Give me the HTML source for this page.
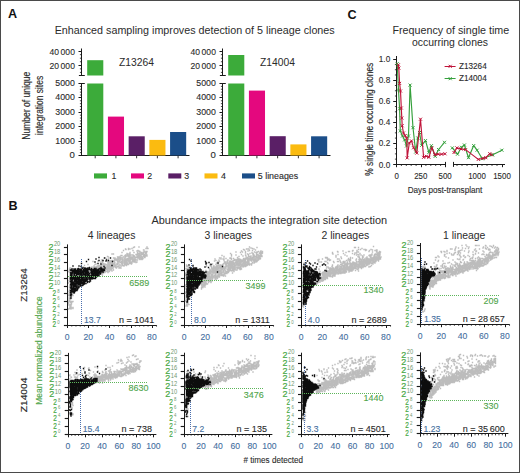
<!DOCTYPE html>
<html><head><meta charset="utf-8"><style>
html,body{margin:0;padding:0;background:#fff;}
svg{display:block;}
text{font-family:"Liberation Sans", sans-serif;}

</style></head><body>
<svg width="520" height="473" viewBox="0 0 520 473">
<rect x="0" y="0" width="520" height="473" fill="#fff"/>
<text x="8" y="18.1" font-size="12.6" fill="#111" text-anchor="start" font-weight="bold">A</text>
<text x="54.7" y="33.5" font-size="10.4" fill="#2b2b2b" text-anchor="start" font-weight="normal" textLength="280" lengthAdjust="spacingAndGlyphs">Enhanced sampling improves detection of 5 lineage clones</text>
<line x1="81.5" y1="48.5" x2="81.5" y2="75.5" stroke="#1a1a1a" stroke-width="1"/>
<line x1="78.5" y1="65.5" x2="81.5" y2="65.5" stroke="#1a1a1a" stroke-width="1"/>
<line x1="78.5" y1="51.5" x2="81.5" y2="51.5" stroke="#1a1a1a" stroke-width="1"/>
<line x1="79.9" y1="72.39999999999999" x2="81.5" y2="72.39999999999999" stroke="#1a1a1a" stroke-width="0.8"/>
<line x1="79.9" y1="68.85" x2="81.5" y2="68.85" stroke="#1a1a1a" stroke-width="0.8"/>
<line x1="79.9" y1="61.75" x2="81.5" y2="61.75" stroke="#1a1a1a" stroke-width="0.8"/>
<line x1="79.9" y1="58.199999999999996" x2="81.5" y2="58.199999999999996" stroke="#1a1a1a" stroke-width="0.8"/>
<line x1="79.9" y1="54.65" x2="81.5" y2="54.65" stroke="#1a1a1a" stroke-width="0.8"/>
<line x1="78.9" y1="75.5" x2="84.8" y2="75.5" stroke="#1a1a1a" stroke-width="1"/>
<line x1="81.5" y1="83.5" x2="81.5" y2="155.8" stroke="#1a1a1a" stroke-width="1"/>
<line x1="78.9" y1="83.5" x2="84.8" y2="83.5" stroke="#1a1a1a" stroke-width="1"/>
<line x1="78.5" y1="155.5" x2="81.5" y2="155.5" stroke="#1a1a1a" stroke-width="1"/>
<line x1="78.5" y1="141.5" x2="81.5" y2="141.5" stroke="#1a1a1a" stroke-width="1"/>
<line x1="78.5" y1="126.5" x2="81.5" y2="126.5" stroke="#1a1a1a" stroke-width="1"/>
<line x1="78.5" y1="112.5" x2="81.5" y2="112.5" stroke="#1a1a1a" stroke-width="1"/>
<line x1="78.5" y1="97.5" x2="81.5" y2="97.5" stroke="#1a1a1a" stroke-width="1"/>
<line x1="78.5" y1="83.5" x2="81.5" y2="83.5" stroke="#1a1a1a" stroke-width="1"/>
<line x1="79.9" y1="152.62" x2="81.5" y2="152.62" stroke="#1a1a1a" stroke-width="0.8"/>
<line x1="79.9" y1="149.74" x2="81.5" y2="149.74" stroke="#1a1a1a" stroke-width="0.8"/>
<line x1="79.9" y1="146.86" x2="81.5" y2="146.86" stroke="#1a1a1a" stroke-width="0.8"/>
<line x1="79.9" y1="143.98" x2="81.5" y2="143.98" stroke="#1a1a1a" stroke-width="0.8"/>
<line x1="79.9" y1="138.22" x2="81.5" y2="138.22" stroke="#1a1a1a" stroke-width="0.8"/>
<line x1="79.9" y1="135.34" x2="81.5" y2="135.34" stroke="#1a1a1a" stroke-width="0.8"/>
<line x1="79.9" y1="132.46" x2="81.5" y2="132.46" stroke="#1a1a1a" stroke-width="0.8"/>
<line x1="79.9" y1="129.58" x2="81.5" y2="129.58" stroke="#1a1a1a" stroke-width="0.8"/>
<line x1="79.9" y1="123.82" x2="81.5" y2="123.82" stroke="#1a1a1a" stroke-width="0.8"/>
<line x1="79.9" y1="120.94" x2="81.5" y2="120.94" stroke="#1a1a1a" stroke-width="0.8"/>
<line x1="79.9" y1="118.06" x2="81.5" y2="118.06" stroke="#1a1a1a" stroke-width="0.8"/>
<line x1="79.9" y1="115.18" x2="81.5" y2="115.18" stroke="#1a1a1a" stroke-width="0.8"/>
<line x1="79.9" y1="109.42" x2="81.5" y2="109.42" stroke="#1a1a1a" stroke-width="0.8"/>
<line x1="79.9" y1="106.53999999999999" x2="81.5" y2="106.53999999999999" stroke="#1a1a1a" stroke-width="0.8"/>
<line x1="79.9" y1="103.66" x2="81.5" y2="103.66" stroke="#1a1a1a" stroke-width="0.8"/>
<line x1="79.9" y1="100.78" x2="81.5" y2="100.78" stroke="#1a1a1a" stroke-width="0.8"/>
<line x1="79.9" y1="95.02" x2="81.5" y2="95.02" stroke="#1a1a1a" stroke-width="0.8"/>
<line x1="79.9" y1="92.14" x2="81.5" y2="92.14" stroke="#1a1a1a" stroke-width="0.8"/>
<line x1="79.9" y1="89.26" x2="81.5" y2="89.26" stroke="#1a1a1a" stroke-width="0.8"/>
<line x1="79.9" y1="86.38" x2="81.5" y2="86.38" stroke="#1a1a1a" stroke-width="0.8"/>
<text x="74.9" y="54.5" font-size="9.6" fill="#2b2b2b" text-anchor="end" font-weight="normal" stroke="#2b2b2b" stroke-width="0.12" textLength="25.5" lengthAdjust="spacingAndGlyphs">40&#8201;000</text>
<text x="74.9" y="68.7" font-size="9.6" fill="#2b2b2b" text-anchor="end" font-weight="normal" stroke="#2b2b2b" stroke-width="0.12" textLength="25.5" lengthAdjust="spacingAndGlyphs">20&#8201;000</text>
<text x="74.9" y="157.9" font-size="9.6" fill="#2b2b2b" text-anchor="end" font-weight="normal" stroke="#2b2b2b" stroke-width="0.12">0</text>
<text x="74.9" y="143.5" font-size="9.6" fill="#2b2b2b" text-anchor="end" font-weight="normal" stroke="#2b2b2b" stroke-width="0.12" textLength="19.6" lengthAdjust="spacingAndGlyphs">1000</text>
<text x="74.9" y="129.1" font-size="9.6" fill="#2b2b2b" text-anchor="end" font-weight="normal" stroke="#2b2b2b" stroke-width="0.12" textLength="19.6" lengthAdjust="spacingAndGlyphs">2000</text>
<text x="74.9" y="114.7" font-size="9.6" fill="#2b2b2b" text-anchor="end" font-weight="normal" stroke="#2b2b2b" stroke-width="0.12" textLength="19.6" lengthAdjust="spacingAndGlyphs">3000</text>
<text x="74.9" y="100.30000000000001" font-size="9.6" fill="#2b2b2b" text-anchor="end" font-weight="normal" stroke="#2b2b2b" stroke-width="0.12" textLength="19.6" lengthAdjust="spacingAndGlyphs">4000</text>
<text x="74.9" y="85.9" font-size="9.6" fill="#2b2b2b" text-anchor="end" font-weight="normal" stroke="#2b2b2b" stroke-width="0.12" textLength="19.6" lengthAdjust="spacingAndGlyphs">5000</text>
<line x1="81.0" y1="155.5" x2="189.5" y2="155.5" stroke="#1a1a1a" stroke-width="1"/>
<line x1="95.2" y1="155.5" x2="95.2" y2="158.3" stroke="#1a1a1a" stroke-width="0.9"/>
<rect x="87.2" y="60.2" width="16.1" height="15.299999999999997" fill="#3cab3a"/>
<rect x="87.2" y="83.5" width="16.1" height="72" fill="#3cab3a"/>
<line x1="115.92" y1="155.5" x2="115.92" y2="158.3" stroke="#1a1a1a" stroke-width="0.9"/>
<rect x="107.92" y="116.6" width="16.1" height="38.900000000000006" fill="#e4087e"/>
<line x1="136.64" y1="155.5" x2="136.64" y2="158.3" stroke="#1a1a1a" stroke-width="0.9"/>
<rect x="128.64" y="136.3" width="16.1" height="19.19999999999999" fill="#5a1f66"/>
<line x1="157.36" y1="155.5" x2="157.36" y2="158.3" stroke="#1a1a1a" stroke-width="0.9"/>
<rect x="149.36" y="139.9" width="16.1" height="15.599999999999994" fill="#fbbb10"/>
<line x1="178.07999999999998" y1="155.5" x2="178.07999999999998" y2="158.3" stroke="#1a1a1a" stroke-width="0.9"/>
<rect x="170.07999999999998" y="132.0" width="16.1" height="23.5" fill="#1b4e89"/>
<text x="119" y="65.6" font-size="10.6" fill="#2b2b2b" text-anchor="start" font-weight="normal" textLength="35" lengthAdjust="spacingAndGlyphs">Z13264</text>
<line x1="222.5" y1="48.5" x2="222.5" y2="75.5" stroke="#1a1a1a" stroke-width="1"/>
<line x1="219.5" y1="65.5" x2="222.5" y2="65.5" stroke="#1a1a1a" stroke-width="1"/>
<line x1="219.5" y1="51.5" x2="222.5" y2="51.5" stroke="#1a1a1a" stroke-width="1"/>
<line x1="220.9" y1="72.39999999999999" x2="222.5" y2="72.39999999999999" stroke="#1a1a1a" stroke-width="0.8"/>
<line x1="220.9" y1="68.85" x2="222.5" y2="68.85" stroke="#1a1a1a" stroke-width="0.8"/>
<line x1="220.9" y1="61.75" x2="222.5" y2="61.75" stroke="#1a1a1a" stroke-width="0.8"/>
<line x1="220.9" y1="58.199999999999996" x2="222.5" y2="58.199999999999996" stroke="#1a1a1a" stroke-width="0.8"/>
<line x1="220.9" y1="54.65" x2="222.5" y2="54.65" stroke="#1a1a1a" stroke-width="0.8"/>
<line x1="219.9" y1="75.5" x2="225.8" y2="75.5" stroke="#1a1a1a" stroke-width="1"/>
<line x1="222.5" y1="83.5" x2="222.5" y2="155.8" stroke="#1a1a1a" stroke-width="1"/>
<line x1="219.9" y1="83.5" x2="225.8" y2="83.5" stroke="#1a1a1a" stroke-width="1"/>
<line x1="219.5" y1="155.5" x2="222.5" y2="155.5" stroke="#1a1a1a" stroke-width="1"/>
<line x1="219.5" y1="141.5" x2="222.5" y2="141.5" stroke="#1a1a1a" stroke-width="1"/>
<line x1="219.5" y1="126.5" x2="222.5" y2="126.5" stroke="#1a1a1a" stroke-width="1"/>
<line x1="219.5" y1="112.5" x2="222.5" y2="112.5" stroke="#1a1a1a" stroke-width="1"/>
<line x1="219.5" y1="97.5" x2="222.5" y2="97.5" stroke="#1a1a1a" stroke-width="1"/>
<line x1="219.5" y1="83.5" x2="222.5" y2="83.5" stroke="#1a1a1a" stroke-width="1"/>
<line x1="220.9" y1="152.62" x2="222.5" y2="152.62" stroke="#1a1a1a" stroke-width="0.8"/>
<line x1="220.9" y1="149.74" x2="222.5" y2="149.74" stroke="#1a1a1a" stroke-width="0.8"/>
<line x1="220.9" y1="146.86" x2="222.5" y2="146.86" stroke="#1a1a1a" stroke-width="0.8"/>
<line x1="220.9" y1="143.98" x2="222.5" y2="143.98" stroke="#1a1a1a" stroke-width="0.8"/>
<line x1="220.9" y1="138.22" x2="222.5" y2="138.22" stroke="#1a1a1a" stroke-width="0.8"/>
<line x1="220.9" y1="135.34" x2="222.5" y2="135.34" stroke="#1a1a1a" stroke-width="0.8"/>
<line x1="220.9" y1="132.46" x2="222.5" y2="132.46" stroke="#1a1a1a" stroke-width="0.8"/>
<line x1="220.9" y1="129.58" x2="222.5" y2="129.58" stroke="#1a1a1a" stroke-width="0.8"/>
<line x1="220.9" y1="123.82" x2="222.5" y2="123.82" stroke="#1a1a1a" stroke-width="0.8"/>
<line x1="220.9" y1="120.94" x2="222.5" y2="120.94" stroke="#1a1a1a" stroke-width="0.8"/>
<line x1="220.9" y1="118.06" x2="222.5" y2="118.06" stroke="#1a1a1a" stroke-width="0.8"/>
<line x1="220.9" y1="115.18" x2="222.5" y2="115.18" stroke="#1a1a1a" stroke-width="0.8"/>
<line x1="220.9" y1="109.42" x2="222.5" y2="109.42" stroke="#1a1a1a" stroke-width="0.8"/>
<line x1="220.9" y1="106.53999999999999" x2="222.5" y2="106.53999999999999" stroke="#1a1a1a" stroke-width="0.8"/>
<line x1="220.9" y1="103.66" x2="222.5" y2="103.66" stroke="#1a1a1a" stroke-width="0.8"/>
<line x1="220.9" y1="100.78" x2="222.5" y2="100.78" stroke="#1a1a1a" stroke-width="0.8"/>
<line x1="220.9" y1="95.02" x2="222.5" y2="95.02" stroke="#1a1a1a" stroke-width="0.8"/>
<line x1="220.9" y1="92.14" x2="222.5" y2="92.14" stroke="#1a1a1a" stroke-width="0.8"/>
<line x1="220.9" y1="89.26" x2="222.5" y2="89.26" stroke="#1a1a1a" stroke-width="0.8"/>
<line x1="220.9" y1="86.38" x2="222.5" y2="86.38" stroke="#1a1a1a" stroke-width="0.8"/>
<text x="215.9" y="54.5" font-size="9.6" fill="#2b2b2b" text-anchor="end" font-weight="normal" stroke="#2b2b2b" stroke-width="0.12" textLength="25.5" lengthAdjust="spacingAndGlyphs">40&#8201;000</text>
<text x="215.9" y="68.7" font-size="9.6" fill="#2b2b2b" text-anchor="end" font-weight="normal" stroke="#2b2b2b" stroke-width="0.12" textLength="25.5" lengthAdjust="spacingAndGlyphs">20&#8201;000</text>
<text x="215.9" y="157.9" font-size="9.6" fill="#2b2b2b" text-anchor="end" font-weight="normal" stroke="#2b2b2b" stroke-width="0.12">0</text>
<text x="215.9" y="143.5" font-size="9.6" fill="#2b2b2b" text-anchor="end" font-weight="normal" stroke="#2b2b2b" stroke-width="0.12" textLength="19.6" lengthAdjust="spacingAndGlyphs">1000</text>
<text x="215.9" y="129.1" font-size="9.6" fill="#2b2b2b" text-anchor="end" font-weight="normal" stroke="#2b2b2b" stroke-width="0.12" textLength="19.6" lengthAdjust="spacingAndGlyphs">2000</text>
<text x="215.9" y="114.7" font-size="9.6" fill="#2b2b2b" text-anchor="end" font-weight="normal" stroke="#2b2b2b" stroke-width="0.12" textLength="19.6" lengthAdjust="spacingAndGlyphs">3000</text>
<text x="215.9" y="100.30000000000001" font-size="9.6" fill="#2b2b2b" text-anchor="end" font-weight="normal" stroke="#2b2b2b" stroke-width="0.12" textLength="19.6" lengthAdjust="spacingAndGlyphs">4000</text>
<text x="215.9" y="85.9" font-size="9.6" fill="#2b2b2b" text-anchor="end" font-weight="normal" stroke="#2b2b2b" stroke-width="0.12" textLength="19.6" lengthAdjust="spacingAndGlyphs">5000</text>
<line x1="222.0" y1="155.5" x2="330.5" y2="155.5" stroke="#1a1a1a" stroke-width="1"/>
<line x1="236.2" y1="155.5" x2="236.2" y2="158.3" stroke="#1a1a1a" stroke-width="0.9"/>
<rect x="228.2" y="55.0" width="16.1" height="20.5" fill="#3cab3a"/>
<rect x="228.2" y="83.5" width="16.1" height="72" fill="#3cab3a"/>
<line x1="256.91999999999996" y1="155.5" x2="256.91999999999996" y2="158.3" stroke="#1a1a1a" stroke-width="0.9"/>
<rect x="248.92" y="90.6" width="16.1" height="64.9" fill="#e4087e"/>
<line x1="277.64" y1="155.5" x2="277.64" y2="158.3" stroke="#1a1a1a" stroke-width="0.9"/>
<rect x="269.64" y="136.2" width="16.1" height="19.30000000000001" fill="#5a1f66"/>
<line x1="298.36" y1="155.5" x2="298.36" y2="158.3" stroke="#1a1a1a" stroke-width="0.9"/>
<rect x="290.36" y="144.4" width="16.1" height="11.099999999999994" fill="#fbbb10"/>
<line x1="319.08" y1="155.5" x2="319.08" y2="158.3" stroke="#1a1a1a" stroke-width="0.9"/>
<rect x="311.08" y="136.3" width="16.1" height="19.19999999999999" fill="#1b4e89"/>
<text x="260" y="65.6" font-size="10.6" fill="#2b2b2b" text-anchor="start" font-weight="normal" textLength="35" lengthAdjust="spacingAndGlyphs">Z14004</text>
<text transform="translate(29.9,105.7) rotate(-90)" x="0" y="0" font-size="10.2" fill="#2b2b2b" stroke="#2b2b2b" stroke-width="0.15" text-anchor="middle" textLength="68" lengthAdjust="spacingAndGlyphs">Number of unique</text>
<text transform="translate(42.7,105.4) rotate(-90)" x="0" y="0" font-size="10.2" fill="#2b2b2b" stroke="#2b2b2b" stroke-width="0.15" text-anchor="middle" textLength="59" lengthAdjust="spacingAndGlyphs">integration sites</text>
<rect x="94.0" y="173.4" width="13" height="5.1" fill="#3cab3a"/>
<text x="111.5" y="178.8" font-size="8.8" fill="#2b2b2b" text-anchor="start" font-weight="normal" stroke="#2b2b2b" stroke-width="0.12">1</text>
<rect x="131.0" y="173.4" width="13" height="5.1" fill="#e4087e"/>
<text x="147.2" y="178.8" font-size="8.8" fill="#2b2b2b" text-anchor="start" font-weight="normal" stroke="#2b2b2b" stroke-width="0.12">2</text>
<rect x="168.3" y="173.4" width="13" height="5.1" fill="#5a1f66"/>
<text x="184.3" y="178.8" font-size="8.8" fill="#2b2b2b" text-anchor="start" font-weight="normal" stroke="#2b2b2b" stroke-width="0.12">3</text>
<rect x="204.5" y="173.4" width="13" height="5.1" fill="#fbbb10"/>
<text x="221.0" y="178.8" font-size="8.8" fill="#2b2b2b" text-anchor="start" font-weight="normal" stroke="#2b2b2b" stroke-width="0.12">4</text>
<rect x="242.0" y="173.4" width="13" height="5.1" fill="#1b4e89"/>
<text x="257.8" y="178.8" font-size="8.8" fill="#2b2b2b" text-anchor="start" font-weight="normal" stroke="#2b2b2b" stroke-width="0.12" textLength="40.4" lengthAdjust="spacingAndGlyphs">5 lineages</text>
<text x="347.4" y="18.5" font-size="12.6" fill="#111" text-anchor="start" font-weight="bold">C</text>
<text x="392.5" y="33.5" font-size="10.4" fill="#2b2b2b" text-anchor="start" font-weight="normal" textLength="116.7" lengthAdjust="spacingAndGlyphs">Frequency of single time</text>
<text x="412" y="45.5" font-size="10.4" fill="#2b2b2b" text-anchor="start" font-weight="normal" textLength="76" lengthAdjust="spacingAndGlyphs">occurring clones</text>
<line x1="396.5" y1="56" x2="396.5" y2="164.9" stroke="#1a1a1a" stroke-width="1"/>
<line x1="393.2" y1="164.5" x2="396.5" y2="164.5" stroke="#1a1a1a" stroke-width="1"/>
<text x="390.2" y="167.5" font-size="9.4" fill="#2b2b2b" text-anchor="end" font-weight="normal" stroke="#2b2b2b" stroke-width="0.12" textLength="11.4" lengthAdjust="spacingAndGlyphs">0.0</text>
<line x1="393.2" y1="143.5" x2="396.5" y2="143.5" stroke="#1a1a1a" stroke-width="1"/>
<text x="390.2" y="146.46" font-size="9.4" fill="#2b2b2b" text-anchor="end" font-weight="normal" stroke="#2b2b2b" stroke-width="0.12" textLength="11.4" lengthAdjust="spacingAndGlyphs">0.2</text>
<line x1="393.2" y1="122.5" x2="396.5" y2="122.5" stroke="#1a1a1a" stroke-width="1"/>
<text x="390.2" y="125.42" font-size="9.4" fill="#2b2b2b" text-anchor="end" font-weight="normal" stroke="#2b2b2b" stroke-width="0.12" textLength="11.4" lengthAdjust="spacingAndGlyphs">0.4</text>
<line x1="393.2" y1="101.5" x2="396.5" y2="101.5" stroke="#1a1a1a" stroke-width="1"/>
<text x="390.2" y="104.38" font-size="9.4" fill="#2b2b2b" text-anchor="end" font-weight="normal" stroke="#2b2b2b" stroke-width="0.12" textLength="11.4" lengthAdjust="spacingAndGlyphs">0.6</text>
<line x1="393.2" y1="80.5" x2="396.5" y2="80.5" stroke="#1a1a1a" stroke-width="1"/>
<text x="390.2" y="83.34" font-size="9.4" fill="#2b2b2b" text-anchor="end" font-weight="normal" stroke="#2b2b2b" stroke-width="0.12" textLength="11.4" lengthAdjust="spacingAndGlyphs">0.8</text>
<line x1="393.2" y1="59.5" x2="396.5" y2="59.5" stroke="#1a1a1a" stroke-width="1"/>
<text x="390.2" y="62.30000000000002" font-size="9.4" fill="#2b2b2b" text-anchor="end" font-weight="normal" stroke="#2b2b2b" stroke-width="0.12" textLength="11.4" lengthAdjust="spacingAndGlyphs">1.0</text>
<line x1="394.9" y1="159.14000000000001" x2="396.5" y2="159.14000000000001" stroke="#1a1a1a" stroke-width="0.8"/>
<line x1="394.9" y1="153.88" x2="396.5" y2="153.88" stroke="#1a1a1a" stroke-width="0.8"/>
<line x1="394.9" y1="148.62" x2="396.5" y2="148.62" stroke="#1a1a1a" stroke-width="0.8"/>
<line x1="394.9" y1="138.10000000000002" x2="396.5" y2="138.10000000000002" stroke="#1a1a1a" stroke-width="0.8"/>
<line x1="394.9" y1="132.84" x2="396.5" y2="132.84" stroke="#1a1a1a" stroke-width="0.8"/>
<line x1="394.9" y1="127.58000000000001" x2="396.5" y2="127.58000000000001" stroke="#1a1a1a" stroke-width="0.8"/>
<line x1="394.9" y1="117.06" x2="396.5" y2="117.06" stroke="#1a1a1a" stroke-width="0.8"/>
<line x1="394.9" y1="111.80000000000001" x2="396.5" y2="111.80000000000001" stroke="#1a1a1a" stroke-width="0.8"/>
<line x1="394.9" y1="106.54" x2="396.5" y2="106.54" stroke="#1a1a1a" stroke-width="0.8"/>
<line x1="394.9" y1="96.02000000000001" x2="396.5" y2="96.02000000000001" stroke="#1a1a1a" stroke-width="0.8"/>
<line x1="394.9" y1="90.76" x2="396.5" y2="90.76" stroke="#1a1a1a" stroke-width="0.8"/>
<line x1="394.9" y1="85.50000000000001" x2="396.5" y2="85.50000000000001" stroke="#1a1a1a" stroke-width="0.8"/>
<line x1="394.9" y1="74.98" x2="396.5" y2="74.98" stroke="#1a1a1a" stroke-width="0.8"/>
<line x1="394.9" y1="69.72000000000001" x2="396.5" y2="69.72000000000001" stroke="#1a1a1a" stroke-width="0.8"/>
<line x1="394.9" y1="64.46000000000001" x2="396.5" y2="64.46000000000001" stroke="#1a1a1a" stroke-width="0.8"/>
<line x1="396.0" y1="164.5" x2="445.5" y2="164.5" stroke="#1a1a1a" stroke-width="1"/>
<line x1="445.5" y1="161.9" x2="445.5" y2="166.9" stroke="#1a1a1a" stroke-width="1"/>
<line x1="396.5" y1="164.4" x2="396.5" y2="167.20000000000002" stroke="#1a1a1a" stroke-width="1"/>
<line x1="421.5" y1="164.4" x2="421.5" y2="167.20000000000002" stroke="#1a1a1a" stroke-width="1"/>
<line x1="445.5" y1="164.4" x2="445.5" y2="167.20000000000002" stroke="#1a1a1a" stroke-width="1"/>
<line x1="401.4" y1="164.4" x2="401.4" y2="166.0" stroke="#1a1a1a" stroke-width="0.8"/>
<line x1="406.3" y1="164.4" x2="406.3" y2="166.0" stroke="#1a1a1a" stroke-width="0.8"/>
<line x1="411.2" y1="164.4" x2="411.2" y2="166.0" stroke="#1a1a1a" stroke-width="0.8"/>
<line x1="416.1" y1="164.4" x2="416.1" y2="166.0" stroke="#1a1a1a" stroke-width="0.8"/>
<line x1="425.9" y1="164.4" x2="425.9" y2="166.0" stroke="#1a1a1a" stroke-width="0.8"/>
<line x1="430.8" y1="164.4" x2="430.8" y2="166.0" stroke="#1a1a1a" stroke-width="0.8"/>
<line x1="435.7" y1="164.4" x2="435.7" y2="166.0" stroke="#1a1a1a" stroke-width="0.8"/>
<line x1="440.6" y1="164.4" x2="440.6" y2="166.0" stroke="#1a1a1a" stroke-width="0.8"/>
<line x1="453.2" y1="164.5" x2="505" y2="164.5" stroke="#1a1a1a" stroke-width="1"/>
<line x1="453.5" y1="161.9" x2="453.5" y2="166.9" stroke="#1a1a1a" stroke-width="1"/>
<line x1="477.5" y1="164.4" x2="477.5" y2="167.20000000000002" stroke="#1a1a1a" stroke-width="1"/>
<line x1="502.5" y1="164.4" x2="502.5" y2="167.20000000000002" stroke="#1a1a1a" stroke-width="1"/>
<line x1="457.0" y1="164.4" x2="457.0" y2="166.0" stroke="#1a1a1a" stroke-width="0.8"/>
<line x1="462.0" y1="164.4" x2="462.0" y2="166.0" stroke="#1a1a1a" stroke-width="0.8"/>
<line x1="467.0" y1="164.4" x2="467.0" y2="166.0" stroke="#1a1a1a" stroke-width="0.8"/>
<line x1="472.0" y1="164.4" x2="472.0" y2="166.0" stroke="#1a1a1a" stroke-width="0.8"/>
<line x1="482.0" y1="164.4" x2="482.0" y2="166.0" stroke="#1a1a1a" stroke-width="0.8"/>
<line x1="487.0" y1="164.4" x2="487.0" y2="166.0" stroke="#1a1a1a" stroke-width="0.8"/>
<line x1="492.0" y1="164.4" x2="492.0" y2="166.0" stroke="#1a1a1a" stroke-width="0.8"/>
<line x1="497.0" y1="164.4" x2="497.0" y2="166.0" stroke="#1a1a1a" stroke-width="0.8"/>
<text x="396.7" y="178.6" font-size="9.4" fill="#2b2b2b" text-anchor="middle" font-weight="normal" stroke="#2b2b2b" stroke-width="0.12" textLength="4.4" lengthAdjust="spacingAndGlyphs">0</text>
<text x="420.8" y="178.6" font-size="9.4" fill="#2b2b2b" text-anchor="middle" font-weight="normal" stroke="#2b2b2b" stroke-width="0.12" textLength="13.200000000000001" lengthAdjust="spacingAndGlyphs">250</text>
<text x="445.1" y="178.6" font-size="9.4" fill="#2b2b2b" text-anchor="middle" font-weight="normal" stroke="#2b2b2b" stroke-width="0.12" textLength="13.200000000000001" lengthAdjust="spacingAndGlyphs">500</text>
<text x="477" y="178.6" font-size="9.4" fill="#2b2b2b" text-anchor="middle" font-weight="normal" stroke="#2b2b2b" stroke-width="0.12" textLength="17.6" lengthAdjust="spacingAndGlyphs">1000</text>
<text x="502" y="178.6" font-size="9.4" fill="#2b2b2b" text-anchor="middle" font-weight="normal" stroke="#2b2b2b" stroke-width="0.12" textLength="17.6" lengthAdjust="spacingAndGlyphs">1500</text>
<text x="407.7" y="192.9" font-size="9.6" fill="#2b2b2b" text-anchor="start" font-weight="normal" stroke="#2b2b2b" stroke-width="0.12" textLength="74.6" lengthAdjust="spacingAndGlyphs">Days post-transplant</text>
<text transform="translate(372.8,119.2) rotate(-90)" x="0" y="0" font-size="10.4" fill="#2b2b2b" stroke="#2b2b2b" stroke-width="0.15" text-anchor="middle" textLength="112.9" lengthAdjust="spacingAndGlyphs">% single time occurring clones</text>
<path d="M397.2 63.6L398.5 90.0L399.6 108.8L400.3 130.9L402.5 136.0L404.6 139.9L406.5 146.0L408.5 136.0L410.1 85.1L413.0 127.7L415.7 152.0L417.8 138.0L419.5 132.5L421.7 145.3L425.5 140.6L428.9 152.5L431.4 145.7L435.2 156.3L438.6 149.5L444.5 142.3" fill="none" stroke="#35a03c" stroke-width="1.15" stroke-linejoin="round"/>
<path d="M395.7 62.1L398.7 65.1M395.7 65.1L398.7 62.1M397.0 88.5L400.0 91.5M397.0 91.5L400.0 88.5M398.1 107.3L401.1 110.3M398.1 110.3L401.1 107.3M398.8 129.4L401.8 132.4M398.8 132.4L401.8 129.4M401.0 134.5L404.0 137.5M401.0 137.5L404.0 134.5M403.1 138.4L406.1 141.4M403.1 141.4L406.1 138.4M405.0 144.5L408.0 147.5M405.0 147.5L408.0 144.5M407.0 134.5L410.0 137.5M407.0 137.5L410.0 134.5M408.6 83.6L411.6 86.6M408.6 86.6L411.6 83.6M411.5 126.2L414.5 129.2M411.5 129.2L414.5 126.2M414.2 150.5L417.2 153.5M414.2 153.5L417.2 150.5M416.3 136.5L419.3 139.5M416.3 139.5L419.3 136.5M418.0 131.0L421.0 134.0M418.0 134.0L421.0 131.0M420.2 143.8L423.2 146.8M420.2 146.8L423.2 143.8M424.0 139.1L427.0 142.1M424.0 142.1L427.0 139.1M427.4 151.0L430.4 154.0M427.4 154.0L430.4 151.0M429.9 144.2L432.9 147.2M429.9 147.2L432.9 144.2M433.7 154.8L436.7 157.8M433.7 157.8L436.7 154.8M437.1 148.0L440.1 151.0M437.1 151.0L440.1 148.0M443.0 140.8L446.0 143.8M443.0 143.8L446.0 140.8" fill="none" stroke="#35a03c" stroke-width="1"/>
<path d="M452.3 147.9L457.5 154.2L461.5 147.3L464.4 145.0L468.5 157.7L473.7 145.6L477.1 150.2L482.3 158.8L492.7 154.8L501.9 150.2" fill="none" stroke="#35a03c" stroke-width="1.15" stroke-linejoin="round"/>
<path d="M450.8 146.4L453.8 149.4M450.8 149.4L453.8 146.4M456.0 152.7L459.0 155.7M456.0 155.7L459.0 152.7M460.0 145.8L463.0 148.8M460.0 148.8L463.0 145.8M462.9 143.5L465.9 146.5M462.9 146.5L465.9 143.5M467.0 156.2L470.0 159.2M467.0 159.2L470.0 156.2M472.2 144.1L475.2 147.1M472.2 147.1L475.2 144.1M475.6 148.7L478.6 151.7M475.6 151.7L478.6 148.7M480.8 157.3L483.8 160.3M480.8 160.3L483.8 157.3M491.2 153.3L494.2 156.3M491.2 156.3L494.2 153.3M500.4 148.7L503.4 151.7M500.4 151.7L503.4 148.7" fill="none" stroke="#35a03c" stroke-width="1"/>
<path d="M398.4 64.8L398.8 68.2L399.6 83.4L400.5 91.0L401.3 108.0L401.8 118.0L402.2 125.8L403.5 133.0L405.1 135.6L406.7 138.3L407.2 157.9L409.3 143.0L411.5 140.9L413.6 147.8L416.8 153.1L420.5 119.2L423.6 157.3L426.3 156.3L428.9 157.3L431.8 147.8L434.8 154.6L438.2 154.2L441.6 154.2L445.0 153.8" fill="none" stroke="#c0143a" stroke-width="1.15" stroke-linejoin="round"/>
<path d="M396.9 63.3L399.9 66.3M396.9 66.3L399.9 63.3M397.3 66.7L400.3 69.7M397.3 69.7L400.3 66.7M398.1 81.9L401.1 84.9M398.1 84.9L401.1 81.9M399.0 89.5L402.0 92.5M399.0 92.5L402.0 89.5M399.8 106.5L402.8 109.5M399.8 109.5L402.8 106.5M400.3 116.5L403.3 119.5M400.3 119.5L403.3 116.5M400.7 124.3L403.7 127.3M400.7 127.3L403.7 124.3M402.0 131.5L405.0 134.5M402.0 134.5L405.0 131.5M403.6 134.1L406.6 137.1M403.6 137.1L406.6 134.1M405.2 136.8L408.2 139.8M405.2 139.8L408.2 136.8M405.7 156.4L408.7 159.4M405.7 159.4L408.7 156.4M407.8 141.5L410.8 144.5M407.8 144.5L410.8 141.5M410.0 139.4L413.0 142.4M410.0 142.4L413.0 139.4M412.1 146.3L415.1 149.3M412.1 149.3L415.1 146.3M415.3 151.6L418.3 154.6M415.3 154.6L418.3 151.6M419.0 117.7L422.0 120.7M419.0 120.7L422.0 117.7M422.1 155.8L425.1 158.8M422.1 158.8L425.1 155.8M424.8 154.8L427.8 157.8M424.8 157.8L427.8 154.8M427.4 155.8L430.4 158.8M427.4 158.8L430.4 155.8M430.3 146.3L433.3 149.3M430.3 149.3L433.3 146.3M433.3 153.1L436.3 156.1M433.3 156.1L436.3 153.1M436.7 152.7L439.7 155.7M436.7 155.7L439.7 152.7M440.1 152.7L443.1 155.7M440.1 155.7L443.1 152.7M443.5 152.3L446.5 155.3M443.5 155.3L446.5 152.3" fill="none" stroke="#c0143a" stroke-width="1"/>
<path d="M454.0 152.5L456.9 147.9L461.0 149.0L465.6 149.6L478.3 159.4L483.5 158.3L485.8 157.7L489.8 153.7L491.5 154.8" fill="none" stroke="#c0143a" stroke-width="1.15" stroke-linejoin="round"/>
<path d="M452.5 151.0L455.5 154.0M452.5 154.0L455.5 151.0M455.4 146.4L458.4 149.4M455.4 149.4L458.4 146.4M459.5 147.5L462.5 150.5M459.5 150.5L462.5 147.5M464.1 148.1L467.1 151.1M464.1 151.1L467.1 148.1M476.8 157.9L479.8 160.9M476.8 160.9L479.8 157.9M482.0 156.8L485.0 159.8M482.0 159.8L485.0 156.8M484.3 156.2L487.3 159.2M484.3 159.2L487.3 156.2M488.3 152.2L491.3 155.2M488.3 155.2L491.3 152.2M490.0 153.3L493.0 156.3M490.0 156.3L493.0 153.3" fill="none" stroke="#c0143a" stroke-width="1"/>
<line x1="444.6" y1="66.5" x2="455.6" y2="66.5" stroke="#c0143a" stroke-width="1"/>
<path d="M448.7 64.8L451.7 67.8M448.7 67.8L451.7 64.8" stroke="#c0143a" stroke-width="1"/>
<text x="459" y="68.8" font-size="8.4" fill="#2b2b2b" text-anchor="start" font-weight="normal" stroke="#2b2b2b" stroke-width="0.12" textLength="27.7" lengthAdjust="spacingAndGlyphs">Z13264</text>
<line x1="444.6" y1="78.5" x2="455.6" y2="78.5" stroke="#35a03c" stroke-width="1"/>
<path d="M448.7 77.2L451.7 80.2M448.7 80.2L451.7 77.2" stroke="#35a03c" stroke-width="1"/>
<text x="459" y="81.0" font-size="8.4" fill="#2b2b2b" text-anchor="start" font-weight="normal" stroke="#2b2b2b" stroke-width="0.12" textLength="27.7" lengthAdjust="spacingAndGlyphs">Z14004</text>
<text x="8.6" y="209.6" font-size="12.6" fill="#111" text-anchor="start" font-weight="bold">B</text>
<text x="151.5" y="223.8" font-size="10.4" fill="#2b2b2b" text-anchor="start" font-weight="normal" textLength="235.7" lengthAdjust="spacingAndGlyphs">Abundance impacts the integration site detection</text>
<text x="87.7" y="238.6" font-size="10.4" fill="#2b2b2b" text-anchor="start" font-weight="normal" textLength="47.7" lengthAdjust="spacingAndGlyphs">4 lineages</text>
<text x="204.6" y="238.6" font-size="10.4" fill="#2b2b2b" text-anchor="start" font-weight="normal" textLength="47.4" lengthAdjust="spacingAndGlyphs">3 lineages</text>
<text x="321.5" y="238.6" font-size="10.4" fill="#2b2b2b" text-anchor="start" font-weight="normal" textLength="47.7" lengthAdjust="spacingAndGlyphs">2 lineages</text>
<text x="443.1" y="238.6" font-size="10.4" fill="#2b2b2b" text-anchor="start" font-weight="normal" textLength="42.3" lengthAdjust="spacingAndGlyphs">1 lineage</text>
<text transform="translate(26.6,285) rotate(-90)" x="0" y="0" font-size="9.9" fill="#2b2b2b" stroke="#2b2b2b" stroke-width="0.15" text-anchor="middle" textLength="33.6" lengthAdjust="spacingAndGlyphs">Z13264</text>
<text transform="translate(27.2,394.9) rotate(-90)" x="0" y="0" font-size="9.9" fill="#2b2b2b" stroke="#2b2b2b" stroke-width="0.15" text-anchor="middle" textLength="34.5" lengthAdjust="spacingAndGlyphs">Z14004</text>
<text transform="translate(41.6,350.5) rotate(-90)" x="0" y="0" font-size="8.2" fill="#4fa54b" stroke="#4fa54b" stroke-width="0.15" text-anchor="middle" textLength="108.3" lengthAdjust="spacingAndGlyphs">Mean normalized abundance</text>
<text x="243.5" y="463" font-size="9.6" fill="#2b2b2b" text-anchor="start" font-weight="normal" stroke="#2b2b2b" stroke-width="0.12" textLength="59.5" lengthAdjust="spacingAndGlyphs"># times detected</text>
<path d="M68.5 271.5h0m0 11.5h0m0 12.5h0m0 7h0m0 0.5h0m0 6h0m0.5-28.5h0m0 11h0m0 2.5h0m0 1.5h0m0 2.5h0m0 2h0m0 1.5h0m0 3h0m0 0.5h0m0.5-36h0m0 1.5h0m0 1.5h0m0 6h0m0 0.5h0m0 3h0m0 5h0m0 1h0m0 2.5h0m0 2h0m0 0.5h0m0 1.5h0m0 2h0m0 4h0m0 1.5h0m0 7h0m0.5-40.5h0m0 12h0m0 5.5h0m0 1.5h0m0 5h0m0 1h0m0 2.5h0m0 3.5h0m0 7.5h0m0 1.5h0m0.5-40h0m0 4.5h0m0 1.5h0m0 15.5h0m0 1.5h0m0 1.5h0m0 1.5h0m0 5.5h0m0 2h0m0 1h0m0 2h0m0 0.5h0m0 1.5h0m0.5-37.5h0m0 3h0m0 4h0m0 1.5h0m0 4h0m0 3h0m0 7h0m0 3h0m0 4h0m0 3.5h0m0 3.5h0m0 1h0m0 1h0m0 1.5h0m0.5-39.5h0m0 5.5h0m0 0.5h0m0 2h0m0 3h0m0 9h0m0 0.5h0m0 1.5h0m0 3.5h0m0 1h0m0 2h0m0 3.5h0m0 2h0m0 0.5h0m0 4h0m0.5-39.5h0m0 2.5h0m0 5h0m0 5h0m0 0.5h0m0 2h0m0 1h0m0 8.5h0m0 9h0m0.5-33.5h0m0 3.5h0m0 1h0m0 1h0m0 1h0m0 0.5h0m0 0.5h0m0 4h0m0 3h0m0 2.5h0m0 0.5h0m0 3h0m0 0.5h0m0 4h0m0 0.5h0m0.5-16h0m0 2.5h0m0 0.5h0m0 3h0m0 7.5h0m0 4h0m0 6h0m0 6h0m0 0.5h0m0 0.5h0m0.5-38.5h0m10.5-0.5h0m0.5-4h0m0 2.5h0m0.5 1.5h0m1-1h0m1.5 0h0m0.5-4h0m0.5 9h0m0 1h0m0 1h0m0 0.5h0m0 0.5h0m0.5-6.5h0m0 1.5h0m0 1h0m0 1h0m0 0.5h0m0.5-4h0m0 3h0m0 0.5h0m0 1.5h0m0 1h0m0.5-8h0m0 2.5h0m0 0.5h0m0 0.5h0m0 0.5h0m0 0.5h0m0 1h0m0 2.5h0m0 0.5h0m0 0.5h0m0 0.5h0m0.5-7.5h0m0 0.5h0m0 1h0m0 4.5h0m0.5-6h0m0 1.5h0m0 2.5h0m0 1.5h0m0 1h0m0.5-7h0m0 0.5h0m0 0.5h0m0 2.5h0m0 0.5h0m0 2h0m0 1.5h0m0 1h0m0.5-11h0m0 2h0m0 0.5h0m0 0.5h0m0 2.5h0m0 0.5h0m0 1h0m0 1h0m0 1.5h0m0.5-7h0m0 1.5h0m0 0.5h0m0 1h0m0 2h0m0 0.5h0m0 1h0m0.5-14.5h0m0 7.5h0m0 3h0m0 2h0m0.5-6.5h0m0 2.5h0m0 3.5h0m0 1.5h0m0.5-9h0m0 3h0m0 2h0m0 4.5h0m0.5-8h0m0 0.5h0m0 1.5h0m0 0.5h0m0 1h0m0 0.5h0m0 2h0m0 0.5h0m0 0.5h0m0 1.5h0m0.5-11.5h0m0 2.5h0m0 0.5h0m0 1.5h0m0 0.5h0m0 4.5h0m0 1h0m0 0.5h0m0 0.5h0m0 0.5h0m0.5-9h0m0 1h0m0 0.5h0m0 3.5h0m0 0.5h0m0.5-9h0m0 5h0m0 1h0m0 4h0m0 0.5h0m0 0.5h0m0.5-8.5h0m0 1.5h0m0 1h0m0 0.5h0m0 1.5h0m0 1h0m0 1h0m0 0.5h0m0 2.5h0m0.5-9.5h0m0 1h0m0 0.5h0m0 1.5h0m0 1.5h0m0 1.5h0m0.5-6.5h0m0 0.5h0m0 2h0m0 2h0m0 2.5h0m0 0.5h0m0.5-12.5h0m0 5h0m0 1h0m0 2.5h0m0 1h0m0 1h0m0 0.5h0m0 0.5h0m0 3.5h0m0.5-10.5h0m0 1.5h0m0 2h0m0 2h0m0 0.5h0m0 2h0m0.5-8h0m0 2h0m0 1.5h0m0 1.5h0m0 2h0m0.5-7h0m0 2h0m0 3.5h0m0.5-5.5h0m0 1h0m0 6h0m0.5-9.5h0m0 5h0m0 1h0m0 1.5h0m0 2h0m0 0.5h0m0 0.5h0m0.5-11.5h0m0 2.5h0m0 1.5h0m0 0.5h0m0 1.5h0m0 2h0m0 2h0m0 1h0m0 0.5h0m0.5-13.5h0m0 4.5h0m0 0.5h0m0 1.5h0m0 1.5h0m0 1h0m0 3h0m0 1h0m0 0.5h0m0.5-6.5h0m0 1.5h0m0 1.5h0m0 0.5h0m0 0.5h0m0 2h0m0.5-13h0m0 1.5h0m0 1h0m0 2h0m0 3.5h0m0 1h0m0 1.5h0m0 4.5h0m0.5-14h0m0 3h0m0 1h0m0 5.5h0m0.5-7h0m0 1h0m0 2.5h0m0 2.5h0m0 1.5h0m0 1.5h0m0.5-8h0m0 1.5h0m0 0.5h0m0 0.5h0m0 1h0m0 0.5h0m0 1h0m0 1h0m0 0.5h0m0 1.5h0m0.5-8.5h0m0 3.5h0m0 1.5h0m0 1h0m0.5-6h0m0 0.5h0m0 1h0m0 0.5h0m0 1.5h0m0 0.5h0m0 1.5h0m0 0.5h0m0 2h0m0 0.5h0m0.5-14.5h0m0 6.5h0m0 2.5h0m0.5 1.5h0m0 1h0m0 2h0m0.5-12.5h0m0.5 5.5h0m0 0.5h0m0 0.5h0m0 1.5h0m0 2h0m0 0.5h0m0 2h0m0.5-15h0m0 5h0m0 4.5h0m0 1.5h0m0 1.5h0m0 1h0m0 1h0m0.5-10h0m0 1.5h0m0 1h0m0 3h0m0 1h0m0 0.5h0m0 4.5h0m0.5-15.5h0m0 2h0m0 2h0m0 2h0m0 0.5h0m0 0.5h0m0 0.5h0m0 2h0m0.5-4h0m0 1h0m0 2h0m0 0.5h0m0 2h0m0 1h0m0 0.5h0m0 0.5h0m0 1.5h0m0.5-7h0m0 0.5h0m0 1h0m0 2.5h0m0 3h0m0.5-9.5h0m0 5h0m0.5-6h0m0 1h0m0 1h0m0 5h0m0 1.5h0m0 0.5h0m0.5-9.5h0m0 0.5h0m0 3h0m0 1h0m0 0.5h0m0 0.5h0m0 0.5h0m0.5-1.5h0m0 1h0m0 0.5h0m0 0.5h0m0 1.5h0m0 0.5h0m0 0.5h0m0.5-15.5h0m0 8h0m0 0.5h0m0 0.5h0m0 2.5h0m0 5.5h0m0.5-10.5h0m0 1h0m0 0.5h0m0 1h0m0 1h0m0 1h0m0 1h0m0 2.5h0m0.5-1.5h0m0 1.5h0m0.5-14.5h0m0 4h0m0 3h0m0 2.5h0m0 1h0m0 2.5h0m0 3h0m0.5-6h0m0 0.5h0m0 1.5h0m0.5-7.5h0m0 1h0m0 1.5h0m0 0.5h0m0 1h0m0 0.5h0m0 0.5h0m0 2h0m0 1h0m0.5-8.5h0m0 1.5h0m0 1h0m0 2.5h0m0 2h0m0 1h0m0.5-7h0m0 6h0m0 1h0m0 1.5h0m0.5-2.5h0m0 0.5h0m0.5-5.5h0m0 8h0m0.5-9h0m0 0.5h0m0 0.5h0m0 0.5h0m0 3h0m0 0.5h0m0 3h0m0.5-10h0m0 4.5h0m0 2h0m0 1h0m0 2h0m0.5-8h0m0 0.5h0m0 1.5h0m0 1.5h0m0 0.5h0m0.5-5.5h0m0 0.5h0m0 1h0m0 3h0m0 4.5h0m0.5-7h0m0 5h0m0 2h0m0 1.5h0m0 0.5h0m0.5-10h0m0 2.5h0m0 0.5h0m0 1h0m0.5-5.5h0m0 1h0m0 7.5h0m0 2.5h0m0 0.5h0m0.5-10.5h0m0 1h0m0 1h0m0 0.5h0m0 2.5h0m0.5-7h0m0 6.5h0m0 4h0m0 2h0m0.5-6.5h0m0 2.5h0m0 2h0m0.5-13.5h0m0 3h0m0 2h0m0 1.5h0m0 0.5h0m0 3h0m0 0.5h0m0 0.5h0m0 0.5h0m0.5-5h0m0 1h0m0 0.5h0m0 1.5h0m0 1h0m0 1.5h0m0 1h0m0.5-6.5h0m0.5-8.5h0m0 6.5h0m0 8.5h0m0.5-5h0m0 1h0m0 1.5h0m0 3h0m0.5-10h0m0 2h0m0 2h0m0 3.5h0m0 1.5h0m0.5-6.5h0m0 2h0m0 0.5h0m0 1.5h0m0 1h0m0 1h0m0 0.5h0m0.5-16h0m0 6h0m0 2h0m0 2.5h0m0 3h0m0.5-13h0m0 7h0m0 4.5h0m0 0.5h0m0 1.5h0m0 1h0m0.5-5h0m0 1h0m0 0.5h0m0 1h0m0 2.5h0m0 0.5h0m0 1h0m0.5-12h0m0 1h0m0 1h0m0 5h0m0 1.5h0m0 0.5h0m0 0.5h0m0.5-7.5h0m0 0.5h0m0 2.5h0m0 1.5h0m0 3h0m0 1h0m0 0.5h0m0.5-10.5h0m0 1.5h0m0 4h0m0 0.5h0m0 4h0m0.5-15.5h0m0 1h0m0 6.5h0m0 0.5h0m0 2.5h0m0 0.5h0m0 1.5h0m0 3.5h0m0.5-8.5h0m0 2h0m0 4h0m0.5-8h0m0 1.5h0m0 1h0m0 1h0m0 1h0m0 2h0m0 2.5h0m0.5-14h0m0 3.5h0m0 1h0m0 2h0m0 1h0m0 0.5h0m0 0.5h0m0 0.5h0m0 1h0m0 0.5h0m0 0.5h0m0 0.5h0m0 0.5h0m0 1.5h0m0 1h0m0.5-6h0m0 1h0m0 1h0m0 0.5h0m0 3h0m0.5-8h0m0 3h0m0 1.5h0m0 2.5h0m0.5-5h0m0 7h0m0.5-15.5h0m0 8.5h0m0 1.5h0m0 3.5h0m0 1h0m0.5-8h0m0 2h0m0 2.5h0m0 1h0m0.5-10h0m0 4.5h0m0 3h0m0 2h0m0 1.5h0m0.5-14h0m0 8h0m0 1h0m0 4h0m0.5-8h0m0 4.5h0m0 2h0m0 1.5h0m0 0.5h0m0 1h0m0.5-15h0m0 9h0m0 0.5h0m0 2.5h0m0 2h0m0 1h0m0.5-5h0m0 1.5h0m0 1h0m0 1.5h0m0.5-1.5h0m0.5-5h0m0 3h0m0 2.5h0m0 2h0m0 0.5h0m0.5-8h0m0 5.5h0m0.5-9h0m0 5h0m0 0.5h0m0 1h0m0 4.5h0m0.5-9.5h0m0 0.5h0m0 1.5h0m0 3h0m0 0.5h0m0 2h0m0.5-9.5h0m0 3.5h0m0 3h0m0.5-3.5h0m0 2h0m0 0.5h0m0.5-9h0m0 4h0m0 0.5h0m0 4h0m0 2h0m0 1h0m0.5-4.5h0m0 3h0m0 1h0m0 0.5h0m0 0.5h0m0.5-7.5h0m0 1h0m0 3h0m0 4h0m0.5-2h0m0.5-4h0m0 0.5h0m0 1h0m0 1h0m0 0.5h0m0 1.5h0m0 1h0m0.5-6.5h0m0 1h0m0 1h0m0 2h0m0 2h0m0 0.5h0m0.5-6h0m0 6.5h0m0.5-6.5h0m0 0.5h0m0 0.5h0m0 3h0m0 1h0m0 1h0m0.5-6h0m0 1.5h0m0 4h0m0.5-8.5h0m0 2h0m0 0.5h0m0 0.5h0m0 1h0m0 0.5h0m0 1.5h0m0 0.5h0m0.5-6.5h0m0 5h0m0.5-3h0m0 2.5h0m0 1h0m0 0.5h0m0 1.5h0m0.5-6h0m0 4h0m0 1h0m0 1h0m0.5-4.5h0m0 3h0m0.5-7.5h0m0 5.5h0m0.5-2.5h0m0 0.5h0m0 0.5h0m0 0.5h0m0 2h0m0 0.5h0m0.5-8.5h0m0 4.5h0m0 3.5h0m0 0.5h0m0 0.5h0m0.5-7.5h0m0.5 0h0" stroke="#bcbcbc" stroke-width="1.4" stroke-linecap="square" fill="none"/>
<line x1="81.5" y1="259" x2="81.5" y2="325" stroke="#4a6fae" stroke-width="1" stroke-dasharray="1 1"/>
<path d="M70.5 270h0m0 3h0m0 2h0m0 0.5h0m0 1h0m0 0.5h0m0 1h0m0 0.5h0m0 0.5h0m0 2.5h0m0 3h0m0 3.5h0m0 2.5h0m0 2h0m0 2.5h0m0 0.5h0m0 2.5h0m0.5-27.5h0m0 2h0m0 0.5h0m0 1h0m0 2.5h0m0 1.5h0m0 1h0m0 0.5h0m0 1.5h0m0 0.5h0m0 1h0m0 1h0m0 1.5h0m0 1h0m0 0.5h0m0 1h0m0 0.5h0m0 3.5h0m0 2h0m0 2h0m0 0.5h0m0 2h0m0.5-28h0m0 3.5h0m0 0.5h0m0 1.5h0m0 0.5h0m0 0.5h0m0 1h0m0 3h0m0 4h0m0 1.5h0m0 1.5h0m0 0.5h0m0 0.5h0m0 0.5h0m0 0.5h0m0 0.5h0m0 1h0m0 3.5h0m0.5-25.5h0m0 0.5h0m0 1h0m0 3.5h0m0 1.5h0m0 0.5h0m0 0.5h0m0 1h0m0 0.5h0m0 2.5h0m0 1h0m0 0.5h0m0 1h0m0 0.5h0m0 0.5h0m0 0.5h0m0 0.5h0m0 3.5h0m0 1h0m0 2.5h0m0.5-21.5h0m0 1.5h0m0 1h0m0 4.5h0m0 2h0m0 0.5h0m0 5h0m0 4h0m0 2.5h0m0.5-25.5h0m0 5h0m0 0.5h0m0 7h0m0 3.5h0m0 1h0m0 4h0m0 2h0m0 1.5h0m0 0.5h0m0.5-14h0m0 1h0m0 1h0m0 3.5h0m0 0.5h0m0 0.5h0m0 0.5h0m0 1h0m0 1h0m0 1.5h0m0 0.5h0m0 0.5h0m0 1h0m0 2.5h0m0.5-23h0m0 0.5h0m0 0.5h0m0 1h0m0 1.5h0m0 0.5h0m0 0.5h0m0 0.5h0m0 1.5h0m0 9h0m0 2h0m0 1h0m0 2h0m0 2h0m0 0.5h0m0 0.5h0m0 0.5h0m0.5-20.5h0m0 2h0m0 0.5h0m0 2.5h0m0 1h0m0 1.5h0m0 0.5h0m0 0.5h0m0 0.5h0m0 2.5h0m0 1h0m0 1h0m0 2.5h0m0 1h0m0 1h0m0 1.5h0m0 0.5h0m0.5-22.5h0m0 0.5h0m0 1.5h0m0 1h0m0 3h0m0 2h0m0 0.5h0m0 0.5h0m0 1.5h0m0 1.5h0m0 0.5h0m0 2h0m0 0.5h0m0 0.5h0m0 4.5h0m0 0.5h0m0.5-21.5h0m0 3h0m0 0.5h0m0 0.5h0m0 8.5h0m0 2.5h0m0 1.5h0m0 0.5h0m0 0.5h0m0 2.5h0m0 1.5h0m0 0.5h0m0.5-20h0m0 2.5h0m0 2.5h0m0 1.5h0m0 0.5h0m0 2h0m0 0.5h0m0 0.5h0m0 2.5h0m0 0.5h0m0 1.5h0m0 2.5h0m0 0.5h0m0 1.5h0m0.5-19.5h0m0 0.5h0m0 1h0m0 3h0m0 0.5h0m0 0.5h0m0 2.5h0m0 0.5h0m0 2.5h0m0 1h0m0 1.5h0m0 2h0m0 1.5h0m0.5-15h0m0 1h0m0 1h0m0 4.5h0m0 0.5h0m0 1.5h0m0 1.5h0m0 8h0m0.5-21.5h0m0 2h0m0 0.5h0m0 2h0m0 0.5h0m0 2.5h0m0 1h0m0 0.5h0m0 4.5h0m0 0.5h0m0 5.5h0m0 0.5h0m0 0.5h0m0.5-19.5h0m0 3h0m0 0.5h0m0 0.5h0m0 5h0m0 0.5h0m0 2.5h0m0 1h0m0 1h0m0 1h0m0 0.5h0m0 0.5h0m0 0.5h0m0 0.5h0m0 1.5h0m0.5-20h0m0 3.5h0m0 1.5h0m0 1h0m0 2h0m0 0.5h0m0 0.5h0m0 1h0m0 2h0m0 1h0m0 1h0m0 1.5h0m0 3.5h0m0.5-21.5h0m0 3h0m0 0.5h0m0 0.5h0m0 1h0m0 0.5h0m0 1h0m0 0.5h0m0 3.5h0m0 0.5h0m0 1h0m0 0.5h0m0 0.5h0m0 0.5h0m0 0.5h0m0 1.5h0m0 1h0m0 0.5h0m0 1h0m0 0.5h0m0 2.5h0m0 0.5h0m0.5-18h0m0 2h0m0 2h0m0 4h0m0 0.5h0m0 0.5h0m0 0.5h0m0 0.5h0m0 1.5h0m0 0.5h0m0 1.5h0m0.5-13.5h0m0 4.5h0m0 1.5h0m0 1h0m0 1h0m0 3.5h0m0 0.5h0m0 2.5h0m0 1.5h0m0 0.5h0m0.5-15.5h0m0 1h0m0 1.5h0m0 0.5h0m0 1h0m0 2.5h0m0 0.5h0m0 2h0m0 0.5h0m0 2h0m0 3.5h0m0.5-19h0m0 2.5h0m0 2h0m0 0.5h0m0 1h0m0 4h0m0 0.5h0m0 2.5h0m0 0.5h0m0 0.5h0m0 2.5h0m0 0.5h0m0 0.5h0m0 2h0m0.5-22.5h0m0 6.5h0m0 2.5h0m0 0.5h0m0 0.5h0m0 1h0m0 3.5h0m0 1h0m0 2.5h0m0 1h0m0 0.5h0m0.5-10.5h0m0 3h0m0 1h0m0 0.5h0m0 1h0m0 0.5h0m0 0.5h0m0 1h0m0 1.5h0m0 1h0m0.5-14h0m0 2.5h0m0 1.5h0m0 5.5h0m0 0.5h0m0 1.5h0m0 3.5h0m0 2h0m0.5-18h0m0 6h0m0 1h0m0 0.5h0m0 2h0m0 2.5h0m0 3.5h0m0 2h0m0.5-15.5h0m0 0.5h0m0 0.5h0m0 0.5h0m0 0.5h0m0 1.5h0m0 2h0m0 6h0m0 1h0m0 1.5h0m0 0.5h0m0 0.5h0m0.5-15h0m0 2h0m0 0.5h0m0 0.5h0m0 4.5h0m0 1h0m0 0.5h0m0 0.5h0m0 0.5h0m0 1.5h0m0 1.5h0m0 0.5h0m0.5-14.5h0m0 2h0m0 4h0m0 0.5h0m0 2h0m0 2h0m0 0.5h0m0 1.5h0m0 1h0m0 0.5h0m0 1.5h0m0.5-16h0m0 2.5h0m0 0.5h0m0 3h0m0 1h0m0 2h0m0.5-7.5h0m0 0.5h0m0 0.5h0m0 0.5h0m0 1.5h0m0 2.5h0m0 0.5h0m0 1h0m0 2.5h0m0 1.5h0m0 1h0m0.5-13h0m0 0.5h0m0 0.5h0m0 0.5h0m0 0.5h0m0 1.5h0m0 0.5h0m0 0.5h0m0 0.5h0m0 3h0m0 1h0m0 1.5h0m0 4.5h0m0.5-22h0m0 9h0m0 2h0m0 0.5h0m0 3.5h0m0 3.5h0m0 1h0m0.5-11.5h0m0 2.5h0m0 1h0m0 1.5h0m0 1.5h0m0 0.5h0m0 0.5h0m0 1h0m0 1h0m0 1h0m0.5-11.5h0m0 0.5h0m0 0.5h0m0 1.5h0m0 1h0m0 2h0m0 2.5h0m0 2.5h0m0 0.5h0m0 2.5h0m0 0.5h0m0.5-14.5h0m0 1h0m0 1h0m0 3.5h0m0 0.5h0m0 2.5h0m0 5h0m0.5-22h0m0 12.5h0m0 3.5h0m0 1.5h0m0.5-7.5h0m0 5.5h0m0 3h0m0 0.5h0m0 0.5h0m0.5-11.5h0m0 1.5h0m0 4.5h0m0 2.5h0m0 0.5h0m0 5.5h0m0.5-12.5h0m0 8.5h0m0 1.5h0m0 1h0m0.5-1.5h0m0 2h0m0.5-10.5h0m0 2h0m0 3h0m0 0.5h0m0 0.5h0m0 0.5h0m0 1h0m0.5-9.5h0m0 0.5h0m0 1.5h0m0 1h0m0 1h0m0 1h0m0 2h0m0 1h0m0 1h0m0.5-6h0m0 1.5h0m0 1.5h0m0 1.5h0m0 3h0m0.5-7.5h0m0 1h0m0 0.5h0m0 1h0m0 1.5h0m0 2h0m0 1h0m0.5-9h0m0 1h0m0 3h0m0.5-4h0m0 0.5h0m0 0.5h0m0 1h0m0 2.5h0m0 1h0m0 1h0m0 2h0m0 0.5h0m0.5-8.5h0m0 2.5h0m0 0.5h0m0.5-4.5h0m0 1h0m0 0.5h0m0 0.5h0m0 1h0m0 0.5h0m0 0.5h0m0 0.5h0m0 0.5h0m0 2h0m0 0.5h0m0 2.5h0m0.5-16.5h0m0 8h0m0 1h0m0 0.5h0m0 1h0m0 2h0m0 0.5h0m0.5-4.5h0m0 1h0m0 1.5h0m0 0.5h0m0 1.5h0m0 2h0m0 0.5h0m0 1h0m0.5-19.5h0m0 9.5h0m0 1h0m0 1h0m0 1h0m0 1h0m0 1h0m0 2.5h0m0 0.5h0m0.5-6.5h0m0 1.5h0m0 1h0m0 1.5h0m0 0.5h0m0 2.5h0m0.5-6.5h0m0 1.5h0m0 1h0m0 1.5h0m0 1.5h0m0.5-5h0m0 1.5h0m0 1h0m0 1h0m0 1.5h0m0.5-12.5h0m0 6h0m0 3.5h0m0 3h0m0.5-6h0m0 0.5h0m0 2h0m0 0.5h0m0 0.5h0m0 2h0m0.5-18h0m0 3h0m0 8.5h0m0 2.5h0m0 1.5h0m0 0.5h0m0 1h0m0 1.5h0m0.5-5h0m0 0.5h0m0 1h0m0.5-4h0m0 0.5h0m0.5 2h0m0 0.5h0m0 2.5h0m0.5-10h0m0 3.5h0m0 2h0m0 2h0m0 1h0m0.5-4h0m0 2.5h0m0.5-1h0m0.5 0.5h0m0 0.5h0m0.5-10.5h0m0 8.5h0m0 2.5h0m0 1h0m0.5-2h0m0.5-4h0m0 3h0m0 0.5h0m0.5-12h0m0 12h0m0 0.5h0m0.5-2.5h0m1-7h0m0.5-1h0m2 0.5h0m2-2.5h0m1.5 7.5h0m0.5-4h0" stroke="#0d0d0d" stroke-width="1.4" stroke-linecap="square" fill="none"/>
<line x1="68" y1="276.5" x2="148" y2="276.5" stroke="#5db55a" stroke-width="1" stroke-dasharray="1 1"/>
<text x="129.2" y="285.8" font-size="9.1" fill="#4fa54b" text-anchor="start" font-weight="normal" stroke="#4fa54b" stroke-width="0.12" textLength="20.0" lengthAdjust="spacingAndGlyphs">6589</text>
<text x="84.0" y="323.0" font-size="8.6" fill="#46709f" text-anchor="start" font-weight="normal" stroke="#46709f" stroke-width="0.12">13.7</text>
<text x="154.2" y="323.0" font-size="9.0" fill="#2b2b2b" text-anchor="end" font-weight="normal" stroke="#2b2b2b" stroke-width="0.12">n = 1041</text>
<line x1="67.5" y1="244.4" x2="67.5" y2="325.5" stroke="#1a1a1a" stroke-width="1"/>
<line x1="67.0" y1="325.5" x2="156.54000000000002" y2="325.5" stroke="#1a1a1a" stroke-width="1"/>
<line x1="63.9" y1="325.5" x2="67.5" y2="325.5" stroke="#1a1a1a" stroke-width="1.15"/>
<line x1="63.9" y1="317.5" x2="67.5" y2="317.5" stroke="#1a1a1a" stroke-width="1.15"/>
<line x1="63.9" y1="309.5" x2="67.5" y2="309.5" stroke="#1a1a1a" stroke-width="1.15"/>
<line x1="63.9" y1="301.5" x2="67.5" y2="301.5" stroke="#1a1a1a" stroke-width="1.15"/>
<line x1="63.9" y1="293.5" x2="67.5" y2="293.5" stroke="#1a1a1a" stroke-width="1.15"/>
<line x1="63.9" y1="286.5" x2="67.5" y2="286.5" stroke="#1a1a1a" stroke-width="1.15"/>
<line x1="63.9" y1="278.5" x2="67.5" y2="278.5" stroke="#1a1a1a" stroke-width="1.15"/>
<line x1="63.9" y1="270.5" x2="67.5" y2="270.5" stroke="#1a1a1a" stroke-width="1.15"/>
<line x1="63.9" y1="262.5" x2="67.5" y2="262.5" stroke="#1a1a1a" stroke-width="1.15"/>
<line x1="63.9" y1="254.5" x2="67.5" y2="254.5" stroke="#1a1a1a" stroke-width="1.15"/>
<line x1="63.9" y1="247.5" x2="67.5" y2="247.5" stroke="#1a1a1a" stroke-width="1.15"/>
<line x1="67.5" y1="325.0" x2="67.5" y2="328.0" stroke="#1a1a1a" stroke-width="1"/>
<line x1="71.74" y1="325.0" x2="71.74" y2="326.6" stroke="#1a1a1a" stroke-width="0.8"/>
<line x1="75.98" y1="325.0" x2="75.98" y2="326.6" stroke="#1a1a1a" stroke-width="0.8"/>
<line x1="80.22" y1="325.0" x2="80.22" y2="326.6" stroke="#1a1a1a" stroke-width="0.8"/>
<line x1="84.46000000000001" y1="325.0" x2="84.46000000000001" y2="326.6" stroke="#1a1a1a" stroke-width="0.8"/>
<line x1="88.5" y1="325.0" x2="88.5" y2="328.0" stroke="#1a1a1a" stroke-width="1"/>
<line x1="92.94" y1="325.0" x2="92.94" y2="326.6" stroke="#1a1a1a" stroke-width="0.8"/>
<line x1="97.18" y1="325.0" x2="97.18" y2="326.6" stroke="#1a1a1a" stroke-width="0.8"/>
<line x1="101.42" y1="325.0" x2="101.42" y2="326.6" stroke="#1a1a1a" stroke-width="0.8"/>
<line x1="105.66" y1="325.0" x2="105.66" y2="326.6" stroke="#1a1a1a" stroke-width="0.8"/>
<line x1="109.5" y1="325.0" x2="109.5" y2="328.0" stroke="#1a1a1a" stroke-width="1"/>
<line x1="114.14" y1="325.0" x2="114.14" y2="326.6" stroke="#1a1a1a" stroke-width="0.8"/>
<line x1="118.38" y1="325.0" x2="118.38" y2="326.6" stroke="#1a1a1a" stroke-width="0.8"/>
<line x1="122.62" y1="325.0" x2="122.62" y2="326.6" stroke="#1a1a1a" stroke-width="0.8"/>
<line x1="126.86" y1="325.0" x2="126.86" y2="326.6" stroke="#1a1a1a" stroke-width="0.8"/>
<line x1="131.5" y1="325.0" x2="131.5" y2="328.0" stroke="#1a1a1a" stroke-width="1"/>
<line x1="135.34" y1="325.0" x2="135.34" y2="326.6" stroke="#1a1a1a" stroke-width="0.8"/>
<line x1="139.57999999999998" y1="325.0" x2="139.57999999999998" y2="326.6" stroke="#1a1a1a" stroke-width="0.8"/>
<line x1="143.82" y1="325.0" x2="143.82" y2="326.6" stroke="#1a1a1a" stroke-width="0.8"/>
<line x1="148.06" y1="325.0" x2="148.06" y2="326.6" stroke="#1a1a1a" stroke-width="0.8"/>
<line x1="152.5" y1="325.0" x2="152.5" y2="328.0" stroke="#1a1a1a" stroke-width="1"/>
<line x1="156.54000000000002" y1="325.0" x2="156.54000000000002" y2="326.6" stroke="#1a1a1a" stroke-width="0.8"/>
<text x="67.1" y="339.6" font-size="9.8" fill="#46709f" text-anchor="middle" font-weight="normal" stroke="#46709f" stroke-width="0.12" textLength="4.8" lengthAdjust="spacingAndGlyphs">0</text>
<text x="88.3" y="339.6" font-size="9.8" fill="#46709f" text-anchor="middle" font-weight="normal" stroke="#46709f" stroke-width="0.12" textLength="9.6" lengthAdjust="spacingAndGlyphs">20</text>
<text x="109.5" y="339.6" font-size="9.8" fill="#46709f" text-anchor="middle" font-weight="normal" stroke="#46709f" stroke-width="0.12" textLength="9.6" lengthAdjust="spacingAndGlyphs">40</text>
<text x="130.7" y="339.6" font-size="9.8" fill="#46709f" text-anchor="middle" font-weight="normal" stroke="#46709f" stroke-width="0.12" textLength="9.6" lengthAdjust="spacingAndGlyphs">60</text>
<text x="151.9" y="339.6" font-size="9.8" fill="#46709f" text-anchor="middle" font-weight="normal" stroke="#46709f" stroke-width="0.12" textLength="9.6" lengthAdjust="spacingAndGlyphs">80</text>
<text x="52.5" y="327.4" font-size="9" fill="#48a845" stroke="#48a845" stroke-width="0.2" textLength="3.6" lengthAdjust="spacingAndGlyphs">2</text>
<text x="57.3" y="323.8" font-size="5.8" fill="#6f976f" textLength="2.4" lengthAdjust="spacingAndGlyphs">0</text>
<text x="52.5" y="319.59999999999997" font-size="9" fill="#48a845" stroke="#48a845" stroke-width="0.2" textLength="3.6" lengthAdjust="spacingAndGlyphs">2</text>
<text x="57.3" y="316.0" font-size="5.8" fill="#6f976f" textLength="2.4" lengthAdjust="spacingAndGlyphs">2</text>
<text x="52.5" y="311.79999999999995" font-size="9" fill="#48a845" stroke="#48a845" stroke-width="0.2" textLength="3.6" lengthAdjust="spacingAndGlyphs">2</text>
<text x="57.3" y="308.2" font-size="5.8" fill="#6f976f" textLength="2.4" lengthAdjust="spacingAndGlyphs">4</text>
<text x="52.5" y="304.0" font-size="9" fill="#48a845" stroke="#48a845" stroke-width="0.2" textLength="3.6" lengthAdjust="spacingAndGlyphs">2</text>
<text x="57.3" y="300.40000000000003" font-size="5.8" fill="#6f976f" textLength="2.4" lengthAdjust="spacingAndGlyphs">6</text>
<text x="52.5" y="296.2" font-size="9" fill="#48a845" stroke="#48a845" stroke-width="0.2" textLength="3.6" lengthAdjust="spacingAndGlyphs">2</text>
<text x="57.3" y="292.6" font-size="5.8" fill="#6f976f" textLength="2.4" lengthAdjust="spacingAndGlyphs">8</text>
<text x="48.5" y="288.5" font-size="9" fill="#48a845" stroke="#48a845" stroke-width="0.2">2</text>
<text x="53.9" y="285.1" font-size="6.3" fill="#6f976f" textLength="6.4" lengthAdjust="spacingAndGlyphs">10</text>
<text x="48.5" y="280.7" font-size="9" fill="#48a845" stroke="#48a845" stroke-width="0.2">2</text>
<text x="53.9" y="277.3" font-size="6.3" fill="#6f976f" textLength="6.4" lengthAdjust="spacingAndGlyphs">12</text>
<text x="48.5" y="272.9" font-size="9" fill="#48a845" stroke="#48a845" stroke-width="0.2">2</text>
<text x="53.9" y="269.5" font-size="6.3" fill="#6f976f" textLength="6.4" lengthAdjust="spacingAndGlyphs">14</text>
<text x="48.5" y="265.1" font-size="9" fill="#48a845" stroke="#48a845" stroke-width="0.2">2</text>
<text x="53.9" y="261.70000000000005" font-size="6.3" fill="#6f976f" textLength="6.4" lengthAdjust="spacingAndGlyphs">16</text>
<text x="48.5" y="257.3" font-size="9" fill="#48a845" stroke="#48a845" stroke-width="0.2">2</text>
<text x="53.9" y="253.9" font-size="6.3" fill="#6f976f" textLength="6.4" lengthAdjust="spacingAndGlyphs">18</text>
<text x="48.5" y="249.5" font-size="9" fill="#48a845" stroke="#48a845" stroke-width="0.2">2</text>
<text x="53.9" y="246.1" font-size="6.3" fill="#6f976f" textLength="6.4" lengthAdjust="spacingAndGlyphs">20</text>
<path d="M185.5 274h0m0 1.5h0m0 17.5h0m0 8h0m0.5-32.5h0m0 4.5h0m0 5h0m0 0.5h0m0 0.5h0m0 6h0m0 1h0m0 2h0m0 1h0m0 2.5h0m0 0.5h0m0 1h0m0 0.5h0m0 2.5h0m0 2h0m0 2h0m0 6h0m0.5-41h0m0 1.5h0m0 3.5h0m0 0.5h0m0 2h0m0 1.5h0m0 2h0m0 1h0m0 9.5h0m0 2.5h0m0 0.5h0m0 3.5h0m0 2.5h0m0 1.5h0m0 4.5h0m0 0.5h0m0 2h0m0 1h0m0.5-36h0m0 1h0m0 9.5h0m0 5h0m0 2.5h0m0 4.5h0m0 0.5h0m0 1.5h0m0 4h0m0 2h0m0 4.5h0m0 0.5h0m0.5-38.5h0m0 0.5h0m0 3h0m0 4h0m0 3.5h0m0 5h0m0 11h0m0 0.5h0m0 0.5h0m0 0.5h0m0 6h0m0 2h0m0 3.5h0m0.5-37.5h0m0 4.5h0m0 4h0m0 6h0m0 5.5h0m0 4.5h0m0 3h0m0 1.5h0m0 1.5h0m0 5h0m0.5-37h0m0 1.5h0m0 16h0m0 4h0m0 4.5h0m0 5h0m0 1.5h0m0.5-32h0m0 2.5h0m0 3.5h0m0 2h0m0 2.5h0m0 0.5h0m0 0.5h0m0 4h0m0 5.5h0m0 1.5h0m0 14.5h0m0.5-23h0m0 8h0m11.5-19.5h0m0 2h0m0 1.5h0m0 0.5h0m0.5 0.5h0m0 3.5h0m0 0.5h0m0 4.5h0m0 1.5h0m0 0.5h0m0 2.5h0m0 1.5h0m0.5-12.5h0m0 0.5h0m0 1h0m0 0.5h0m0 0.5h0m0 0.5h0m0 1.5h0m0 3h0m0 2.5h0m0 1h0m0.5-11.5h0m0 1.5h0m0 4h0m0 3h0m0.5-10h0m0 2h0m0 1h0m0 0.5h0m0 0.5h0m0 1.5h0m0 0.5h0m0 0.5h0m0 3h0m0 1h0m0 1h0m0 1.5h0m0.5-11h0m0 2.5h0m0 1h0m0 1h0m0 1.5h0m0 3h0m0 0.5h0m0.5-9.5h0m0 1.5h0m0 1h0m0 1.5h0m0 2h0m0 2.5h0m0 0.5h0m0.5-12h0m0 3h0m0 1h0m0 1h0m0 1h0m0 2.5h0m0 0.5h0m0 1h0m0 1.5h0m0 0.5h0m0.5-12h0m0 0.5h0m0 3.5h0m0 1h0m0 2.5h0m0 3.5h0m0 0.5h0m0 2h0m0.5-15.5h0m0 1h0m0 0.5h0m0 1.5h0m0 4h0m0 2.5h0m0 2h0m0 2h0m0.5-14.5h0m0 0.5h0m0 2h0m0 2.5h0m0 2.5h0m0 1h0m0 1h0m0 1h0m0 1h0m0 1.5h0m0 0.5h0m0.5-18.5h0m0 1h0m0 5h0m0 2.5h0m0 0.5h0m0 0.5h0m0 1h0m0 4.5h0m0 3h0m0.5-12h0m0 1.5h0m0 1h0m0 3.5h0m0 1h0m0 5.5h0m0.5-12h0m0 0.5h0m0 0.5h0m0 0.5h0m0 2.5h0m0 2h0m0 2.5h0m0 3.5h0m0.5-10.5h0m0 1h0m0 0.5h0m0 0.5h0m0 1h0m0 3h0m0.5-7h0m0 1h0m0 0.5h0m0 3.5h0m0 2h0m0 1h0m0 1h0m0 1h0m0.5-10.5h0m0 2h0m0 0.5h0m0 2h0m0 2h0m0 1h0m0 1.5h0m0.5-12h0m0 2h0m0 2h0m0 0.5h0m0 2.5h0m0 0.5h0m0 3h0m0.5-14.5h0m0 9h0m0 2h0m0 2h0m0 1h0m0 1h0m0 0.5h0m0 1h0m0.5-17.5h0m0 2h0m0 4h0m0 1h0m0 0.5h0m0 1.5h0m0 4.5h0m0 1h0m0 1h0m0 0.5h0m0 1h0m0.5-9h0m0 1.5h0m0 5h0m0 4h0m0.5-18h0m0 2h0m0 1h0m0 0.5h0m0 6.5h0m0 1h0m0 0.5h0m0 1h0m0.5-8h0m0 1h0m0 1.5h0m0 3h0m0 3h0m0 2.5h0m0 1h0m0.5-17h0m0 5.5h0m0 3h0m0 3h0m0 1h0m0 0.5h0m0 1.5h0m0 0.5h0m0.5-11h0m0 2.5h0m0 1h0m0 2.5h0m0 2.5h0m0 1.5h0m0.5-12h0m0 1.5h0m0 1h0m0 0.5h0m0 1.5h0m0 1h0m0 1h0m0.5-6.5h0m0 1h0m0 0.5h0m0 1h0m0 2h0m0 0.5h0m0 5h0m0 1h0m0.5-16h0m0 7h0m0 3.5h0m0 0.5h0m0 1h0m0 2.5h0m0.5-16.5h0m0 8.5h0m0 0.5h0m0 0.5h0m0 1h0m0 0.5h0m0 0.5h0m0 0.5h0m0 1h0m0 0.5h0m0 2.5h0m0 0.5h0m0 2h0m0 1.5h0m0.5-12h0m0 0.5h0m0 0.5h0m0 2.5h0m0 0.5h0m0 2h0m0 1h0m0 1.5h0m0 1h0m0 0.5h0m0.5-16.5h0m0 4h0m0 3.5h0m0 1.5h0m0 1.5h0m0 1h0m0 2.5h0m0 2.5h0m0 0.5h0m0 1.5h0m0 0.5h0m0.5-16.5h0m0 3h0m0 4h0m0.5-7h0m0 3h0m0 1h0m0 1h0m0 0.5h0m0 0.5h0m0 0.5h0m0 1h0m0 2h0m0 0.5h0m0 3h0m0 1h0m0.5-9h0m0 0.5h0m0 0.5h0m0 0.5h0m0 1.5h0m0 1h0m0 4.5h0m0 0.5h0m0 1.5h0m0.5-17h0m0 3h0m0 1.5h0m0 1.5h0m0 4.5h0m0 1.5h0m0 1.5h0m0 1.5h0m0 0.5h0m0.5-14h0m0 2h0m0 3h0m0 3h0m0 3h0m0 1h0m0 1.5h0m0.5-16.5h0m0 8h0m0 1h0m0 1h0m0 4h0m0 0.5h0m0 2h0m0.5-18.5h0m0 3.5h0m0 5h0m0 4.5h0m0 0.5h0m0 0.5h0m0 2h0m0 3h0m0.5-12h0m0 1h0m0 0.5h0m0 1h0m0 3h0m0 3h0m0 1.5h0m0 0.5h0m0.5-10.5h0m0 1h0m0 1h0m0 1h0m0 0.5h0m0 3h0m0 2h0m0.5-15.5h0m0 1h0m0 8h0m0 2.5h0m0 1h0m0 0.5h0m0 2h0m0.5-7.5h0m0 1.5h0m0 0.5h0m0 0.5h0m0 1.5h0m0 0.5h0m0 4.5h0m0 0.5h0m0 0.5h0m0.5-20h0m0 10.5h0m0 1.5h0m0 0.5h0m0 2h0m0 2h0m0 1.5h0m0 1.5h0m0 0.5h0m0.5-11h0m0 1.5h0m0 2h0m0 1h0m0 0.5h0m0 5.5h0m0.5-16h0m0 7h0m0 1h0m0 1.5h0m0 1h0m0 2.5h0m0 3h0m0.5-11h0m0 4h0m0 3h0m0 5h0m0.5-19.5h0m0 0.5h0m0 2h0m0 1.5h0m0 3h0m0 4.5h0m0 4h0m0 0.5h0m0 1.5h0m0 0.5h0m0 1h0m0.5-13.5h0m0 7.5h0m0 0.5h0m0 4h0m0.5-7.5h0m0 1h0m0 0.5h0m0 0.5h0m0 1h0m0 4.5h0m0.5-12h0m0 0.5h0m0 1h0m0 0.5h0m0 2.5h0m0 1h0m0 0.5h0m0 3h0m0 2h0m0 3h0m0.5-17.5h0m0 3.5h0m0 2h0m0 0.5h0m0 0.5h0m0 0.5h0m0 0.5h0m0 6h0m0 1h0m0 0.5h0m0.5-9h0m0 1h0m0 6h0m0 0.5h0m0 1.5h0m0.5-10h0m0 3.5h0m0 2h0m0 2.5h0m0 2h0m0.5-13h0m0 1h0m0 1.5h0m0 0.5h0m0 6h0m0 2.5h0m0.5-12h0m0 0.5h0m0 5h0m0 4h0m0 1h0m0.5-7.5h0m0 0.5h0m0 0.5h0m0 0.5h0m0 2.5h0m0 1.5h0m0 1h0m0 1h0m0 1h0m0 1h0m0.5-9.5h0m0 3h0m0 0.5h0m0 2.5h0m0 2h0m0.5-9.5h0m0 0.5h0m0 1h0m0 2h0m0 2.5h0m0 2.5h0m0 1h0m0.5-13h0m0 0.5h0m0 2.5h0m0 0.5h0m0 0.5h0m0 0.5h0m0 0.5h0m0 0.5h0m0 0.5h0m0 1h0m0 0.5h0m0 2.5h0m0 2.5h0m0.5-17h0m0 9h0m0 0.5h0m0 1.5h0m0 1.5h0m0 1.5h0m0 1.5h0m0.5-11h0m0 3.5h0m0 3.5h0m0 2.5h0m0 3h0m0.5-16h0m0 1.5h0m0 2.5h0m0 1h0m0 3h0m0 0.5h0m0 1.5h0m0 2.5h0m0 0.5h0m0 3h0m0.5-9h0m0 0.5h0m0 3.5h0m0 1h0m0 2h0m0 2.5h0m0.5-8h0m0 1h0m0 0.5h0m0 1h0m0 2.5h0m0 1h0m0 1h0m0 3h0m0.5-12h0m0 1h0m0 0.5h0m0 1.5h0m0 1.5h0m0 0.5h0m0 1.5h0m0 1h0m0 0.5h0m0.5-10.5h0m0 2h0m0 2h0m0 0.5h0m0 1h0m0 5h0m0 1.5h0m0.5-7.5h0m0 0.5h0m0 1h0m0 2.5h0m0 3h0m0 1h0m0 0.5h0m0.5-12h0m0 1h0m0 3h0m0 1h0m0 1h0m0 1.5h0m0 1h0m0 1.5h0m0.5-10h0m0 8h0m0 1.5h0m0 0.5h0m0.5-7h0m0 3h0m0 2.5h0m0.5-16h0m0 3h0m0 5h0m0 1h0m0 2h0m0 1h0m0 2h0m0 2h0m0 2h0m0.5-9.5h0m0 0.5h0m0 2h0m0 7h0m0.5-10.5h0m0 1.5h0m0 0.5h0m0 0.5h0m0 2.5h0m0 0.5h0m0 2.5h0m0 2.5h0m0.5-12.5h0m0 4.5h0m0 1.5h0m0 4h0m0 0.5h0m0 0.5h0m0.5-10h0m0 1h0m0 2h0m0 1h0m0 0.5h0m0 1.5h0m0 1.5h0m0.5-7h0m0 2h0m0 2.5h0m0 1h0m0 3h0m0.5-11h0m0 3.5h0m0 1.5h0m0 4h0m0 2.5h0m0 0.5h0m0.5-9.5h0m0 2h0m0 1.5h0m0 1h0m0 1h0m0 1h0m0.5-5.5h0m0 2.5h0m0 1.5h0m0 2h0m0 1.5h0m0 1.5h0m0 0.5h0m0.5-17h0m0 7h0m0 0.5h0m0 0.5h0m0 1h0m0 1h0m0 1.5h0m0 2.5h0m0 3h0m0.5-9h0m0 2.5h0m0 0.5h0m0 1h0m0 2h0m0 1.5h0m0.5-17h0m0 3.5h0m0 6h0m0 1.5h0m0 3h0m0 1h0m0 3h0m0.5-9h0m0 6h0m0.5-14h0m0 9h0m0 3h0m0 2h0m0.5-10h0m0 4.5h0m0 2h0m0 1h0m0 2h0m0 1.5h0m0.5-17.5h0m0 9h0m0 0.5h0m0 3.5h0m0 0.5h0m0 2.5h0m0 1h0m0.5-6.5h0m0 1h0m0 0.5h0m0 0.5h0m0 1.5h0m0 0.5h0m0 1h0m0 1.5h0m0.5-16.5h0m0 10.5h0m0 0.5h0m0 2h0m0.5-4.5h0m0 1h0m0 1h0m0 2.5h0m0 2h0m0.5-13.5h0m0 1.5h0m0 2h0m0 4.5h0m0 1.5h0m0 0.5h0m0 2h0m0 1h0m0 0.5h0m0 0.5h0m0 0.5h0m0 0.5h0m0.5-10.5h0m0 2h0m0 0.5h0m0 3.5h0m0 2.5h0m0 0.5h0m0 1h0m0.5-17h0m0 9h0m0 7h0m0.5-7.5h0m0 1.5h0m0 3h0m0 1h0m0 1.5h0m0 0.5h0m0 0.5h0m0.5-11.5h0m0 4.5h0m0 2h0m0 2.5h0m0 2h0m0.5-16h0m0 2h0m0 7h0m0 1.5h0m0 2h0m0 1h0m0 0.5h0m0 1.5h0m0.5-10h0m0 0.5h0m0 1.5h0m0 3h0m0 0.5h0m0 4h0m0 0.5h0m0.5-15.5h0m0 9.5h0m0 2.5h0m0 1.5h0m0.5-15.5h0m0 3.5h0m0 6h0m0 2.5h0m0 0.5h0m0 4.5h0m0 1h0m0.5-11.5h0m0 3.5h0m0 2.5h0m0.5-1.5h0m0 2h0m0.5-12h0m0 8h0m0 1.5h0m0 3h0m0 3.5h0m0.5-5h0m0 2h0m0 3.5h0m0 0.5h0m0.5-12.5h0m0 0.5h0m0 6h0m0 4.5h0m0.5-15h0m0 2h0m0 7h0m0 1h0m0 1h0m0 3h0m0.5-9h0m0 1.5h0m0 2h0m0 0.5h0m0 1h0m0 1.5h0m0.5-6h0m0 1.5h0m0 0.5h0m0 4h0m0 1h0m0.5-12h0m0 6h0m0 1h0m0 0.5h0m0 1h0m0 5.5h0m0.5-11h0m0 4h0m0 1h0m0 2h0m0 0.5h0m0 1.5h0m0 1.5h0m0.5-6h0m0 4.5h0m0.5-11h0m0 9h0m0 1h0m0.5-7.5h0m0 4h0m0 1h0m0 1h0m0 1h0m0 2.5h0m0.5-8h0m0 0.5h0m0 1h0m0 1.5h0m0 3h0m0 0.5h0m0 0.5h0m0.5-13.5h0m0 4.5h0m0 0.5h0m0 5.5h0m0 2h0m0 1.5h0m0.5-9.5h0m0 2.5h0m0 3.5h0m0 2.5h0m0.5-6h0m0 0.5h0m0 1h0m0 1.5h0m0 0.5h0m0 0.5h0m0 0.5h0m0.5-7.5h0m0 6h0m0 0.5h0m0 2h0m0.5-4.5h0m0 0.5h0m0 0.5h0m0 0.5h0m0 0.5h0m0 0.5h0m0 1h0m0.5-5.5h0m0 3h0m0 0.5h0m0 0.5h0m0.5-5h0m0 3h0m0 2h0m0 1.5h0m0.5-7.5h0m0 1h0m0 0.5h0m0 1h0m0 0.5h0m0 0.5h0m0 0.5h0m0 1h0m0 2h0m0.5-7.5h0m0 1.5h0m0 0.5h0m0 0.5h0m0 1.5h0m0 1h0m0 0.5h0m0.5-3.5h0m0 2.5h0m0.5-2h0m0 2.5h0m0 0.5h0m0.5-5h0m0 1.5h0" stroke="#bcbcbc" stroke-width="1.4" stroke-linecap="square" fill="none"/>
<line x1="191.5" y1="259" x2="191.5" y2="325" stroke="#4a6fae" stroke-width="1" stroke-dasharray="1 1"/>
<path d="M187 274.5h0m0 0.5h0m0 2h0m0 1.5h0m0 0.5h0m0 2h0m0 1h0m0 1h0m0 0.5h0m0 1h0m0 2h0m0 2.5h0m0 1.5h0m0 0.5h0m0 0.5h0m0 0.5h0m0 0.5h0m0 2h0m0 0.5h0m0 1.5h0m0 0.5h0m0 5h0m0.5-30.5h0m0 1h0m0 2h0m0 2.5h0m0 0.5h0m0 1h0m0 0.5h0m0 1h0m0 0.5h0m0 0.5h0m0 1h0m0 0.5h0m0 1h0m0 1.5h0m0 1h0m0 1h0m0 1.5h0m0 3h0m0 0.5h0m0 2h0m0 0.5h0m0 1h0m0 0.5h0m0 0.5h0m0 2.5h0m0 1.5h0m0 1.5h0m0.5-32h0m0 1h0m0 1h0m0 1h0m0 0.5h0m0 3.5h0m0 0.5h0m0 0.5h0m0 1.5h0m0 0.5h0m0 1.5h0m0 1.5h0m0 1.5h0m0 1h0m0 0.5h0m0 1.5h0m0 0.5h0m0 0.5h0m0 1.5h0m0 1h0m0 0.5h0m0 0.5h0m0 1h0m0 1.5h0m0 0.5h0m0 0.5h0m0 1.5h0m0 1.5h0m0 0.5h0m0.5-28h0m0 1h0m0 1.5h0m0 0.5h0m0 0.5h0m0 1h0m0 0.5h0m0 2.5h0m0 1.5h0m0 1h0m0 1h0m0 2h0m0 0.5h0m0 1h0m0 1.5h0m0 0.5h0m0 1h0m0 0.5h0m0 2h0m0 3.5h0m0 2.5h0m0 2h0m0.5-34h0m0 8.5h0m0 0.5h0m0 1h0m0 1h0m0 2h0m0 2.5h0m0 0.5h0m0 1h0m0 1h0m0 1.5h0m0 1h0m0 0.5h0m0 5h0m0 0.5h0m0 0.5h0m0 0.5h0m0 0.5h0m0 1.5h0m0.5-35h0m0 11h0m0 0.5h0m0 1.5h0m0 1h0m0 3h0m0 2.5h0m0 2h0m0 1h0m0 1h0m0 1.5h0m0 1.5h0m0 0.5h0m0 2h0m0 1h0m0 0.5h0m0 0.5h0m0 2.5h0m0 1.5h0m0 2h0m0 2.5h0m0.5-31.5h0m0 2h0m0 2h0m0 2h0m0 3.5h0m0 2h0m0 1h0m0 3h0m0 1.5h0m0 2.5h0m0 0.5h0m0 1h0m0 1h0m0 3.5h0m0 2h0m0.5-26.5h0m0 2.5h0m0 1h0m0 1.5h0m0 0.5h0m0 0.5h0m0 0.5h0m0 1.5h0m0 1h0m0 0.5h0m0 1.5h0m0 0.5h0m0 2h0m0 1h0m0 1h0m0 1.5h0m0 2.5h0m0 0.5h0m0 3h0m0 3h0m0 0.5h0m0.5-34h0m0 7.5h0m0 1.5h0m0 1h0m0 3h0m0 3.5h0m0 0.5h0m0 0.5h0m0 0.5h0m0 0.5h0m0 0.5h0m0 1h0m0 2h0m0 0.5h0m0 1h0m0 1h0m0 0.5h0m0 1.5h0m0 3.5h0m0 0.5h0m0 0.5h0m0 3h0m0 0.5h0m0.5-26h0m0 4h0m0 0.5h0m0 2.5h0m0 0.5h0m0 0.5h0m0 1h0m0 1.5h0m0 5.5h0m0 0.5h0m0 0.5h0m0 0.5h0m0 1h0m0 1.5h0m0 1.5h0m0 2h0m0.5-23h0m0 1h0m0 3h0m0 1h0m0 5h0m0 0.5h0m0 1.5h0m0 0.5h0m0 2h0m0 2h0m0 0.5h0m0 1h0m0 0.5h0m0 1h0m0 0.5h0m0 3h0m0 1.5h0m0.5-25.5h0m0 1h0m0 0.5h0m0 1.5h0m0 1h0m0 0.5h0m0 1.5h0m0 0.5h0m0 0.5h0m0 2h0m0 0.5h0m0 0.5h0m0 2h0m0 1.5h0m0 2h0m0 0.5h0m0 1.5h0m0.5-21h0m0 0.5h0m0 5h0m0 2.5h0m0 0.5h0m0 0.5h0m0 0.5h0m0 1.5h0m0 5h0m0 1h0m0 0.5h0m0 1h0m0 1h0m0 0.5h0m0 1.5h0m0 2h0m0 2h0m0.5-23h0m0 1.5h0m0 2h0m0 0.5h0m0 1.5h0m0 0.5h0m0 2.5h0m0 2h0m0 1h0m0 0.5h0m0 1.5h0m0 1h0m0 1h0m0 1h0m0 4.5h0m0 0.5h0m0 0.5h0m0 1.5h0m0 0.5h0m0.5-22.5h0m0 3h0m0 0.5h0m0 0.5h0m0 0.5h0m0 4h0m0 1h0m0 1h0m0 1h0m0 0.5h0m0 0.5h0m0 0.5h0m0 1h0m0 2h0m0 0.5h0m0 0.5h0m0 1.5h0m0.5-17h0m0 0.5h0m0 1.5h0m0 1h0m0 1.5h0m0 1h0m0 0.5h0m0 0.5h0m0 1h0m0 1h0m0 0.5h0m0 1h0m0 0.5h0m0 2.5h0m0 1h0m0 0.5h0m0 6h0m0 0.5h0m0 0.5h0m0.5-24.5h0m0 1.5h0m0 2h0m0 0.5h0m0 1h0m0 0.5h0m0 1h0m0 1.5h0m0 0.5h0m0 1h0m0 3h0m0 0.5h0m0 0.5h0m0 3h0m0 0.5h0m0 0.5h0m0 3.5h0m0.5-21h0m0 1h0m0 1.5h0m0 1.5h0m0 2.5h0m0 2h0m0 0.5h0m0 1h0m0 2h0m0 0.5h0m0 1.5h0m0 0.5h0m0 0.5h0m0 1.5h0m0 1.5h0m0 0.5h0m0 2.5h0m0.5-18.5h0m0 1h0m0 0.5h0m0 0.5h0m0 1h0m0 1.5h0m0 1h0m0 2h0m0 0.5h0m0 3.5h0m0 0.5h0m0 1.5h0m0 1.5h0m0 0.5h0m0 2h0m0.5-20h0m0 0.5h0m0 0.5h0m0 1.5h0m0 2h0m0 1.5h0m0 1h0m0 1h0m0 1h0m0 2.5h0m0 0.5h0m0 0.5h0m0 0.5h0m0 1h0m0 0.5h0m0 1h0m0 0.5h0m0 3.5h0m0.5-17.5h0m0 1.5h0m0 0.5h0m0 0.5h0m0 3h0m0 3h0m0 1h0m0 0.5h0m0 5h0m0 1h0m0 1h0m0.5-17h0m0 3.5h0m0 0.5h0m0 0.5h0m0 3.5h0m0 1h0m0 2.5h0m0 0.5h0m0 0.5h0m0 0.5h0m0 0.5h0m0 2.5h0m0 2h0m0.5-18.5h0m0 0.5h0m0 2h0m0 1.5h0m0 0.5h0m0 0.5h0m0 2h0m0 1h0m0 0.5h0m0 0.5h0m0 0.5h0m0 1h0m0 2.5h0m0 1.5h0m0 1h0m0 1.5h0m0.5-16.5h0m0 2.5h0m0 0.5h0m0 1h0m0 2h0m0 0.5h0m0 0.5h0m0 0.5h0m0 0.5h0m0 2.5h0m0 0.5h0m0 0.5h0m0.5-11h0m0 0.5h0m0 0.5h0m0 1h0m0 1h0m0 1h0m0 3h0m0 2.5h0m0 0.5h0m0 1.5h0m0 0.5h0m0 1h0m0 1h0m0 0.5h0m0.5-13.5h0m0 1.5h0m0 0.5h0m0 1.5h0m0 0.5h0m0 2.5h0m0 0.5h0m0 3.5h0m0 2h0m0.5-15h0m0 3h0m0 0.5h0m0 6.5h0m0 2h0m0 0.5h0m0 2h0m0.5-12h0m0 1h0m0 1h0m0 1h0m0 1h0m0 2.5h0m0 1h0m0 0.5h0m0 1h0m0 0.5h0m0 1.5h0m0.5-12.5h0m0 0.5h0m0 1h0m0 0.5h0m0 4.5h0m0 0.5h0m0 2.5h0m0.5-7.5h0m0 2.5h0m0 0.5h0m0 1.5h0m0 0.5h0m0 0.5h0m0 1.5h0m0 2h0m0.5-8h0m0 1.5h0m0 2h0m0 1.5h0m0 0.5h0m0 1h0m0 2h0m0.5-9.5h0m0 0.5h0m0 1.5h0m0 0.5h0m0 0.5h0m0 1h0m0 1h0m0.5-5.5h0m0 5h0m0 1.5h0m0.5-5h0m0 0.5h0m0 1.5h0m0 0.5h0m0 1h0m0.5-2.5h0m0 1h0m0 0.5h0m0.5-3h0m0 3h0m0 1h0m0 1h0m0.5-10.5h0m0 11h0m0.5-16.5h0m0 13.5h0m0 0.5h0m0 1.5h0m0 0.5h0m0.5-14.5h0m0 1h0m0 8h0m0 4h0m0.5-13h0m2 4.5h0m0.5-5h0m2 2h0m6.5 7.5h0m0.5-9h0m4.5 3.5h0" stroke="#0d0d0d" stroke-width="1.4" stroke-linecap="square" fill="none"/>
<line x1="184" y1="280.5" x2="264" y2="280.5" stroke="#5db55a" stroke-width="1" stroke-dasharray="1 1"/>
<text x="245.6" y="288.5" font-size="9.1" fill="#4fa54b" text-anchor="start" font-weight="normal" stroke="#4fa54b" stroke-width="0.12" textLength="20.0" lengthAdjust="spacingAndGlyphs">3499</text>
<text x="194.1" y="323.0" font-size="8.6" fill="#46709f" text-anchor="start" font-weight="normal" stroke="#46709f" stroke-width="0.12">8.0</text>
<text x="269.8" y="323.0" font-size="9.0" fill="#2b2b2b" text-anchor="end" font-weight="normal" stroke="#2b2b2b" stroke-width="0.12">n = 1311</text>
<line x1="184.5" y1="244.4" x2="184.5" y2="325.5" stroke="#1a1a1a" stroke-width="1"/>
<line x1="184.0" y1="325.5" x2="273.54" y2="325.5" stroke="#1a1a1a" stroke-width="1"/>
<line x1="180.9" y1="325.5" x2="184.5" y2="325.5" stroke="#1a1a1a" stroke-width="1.15"/>
<line x1="180.9" y1="317.5" x2="184.5" y2="317.5" stroke="#1a1a1a" stroke-width="1.15"/>
<line x1="180.9" y1="309.5" x2="184.5" y2="309.5" stroke="#1a1a1a" stroke-width="1.15"/>
<line x1="180.9" y1="301.5" x2="184.5" y2="301.5" stroke="#1a1a1a" stroke-width="1.15"/>
<line x1="180.9" y1="293.5" x2="184.5" y2="293.5" stroke="#1a1a1a" stroke-width="1.15"/>
<line x1="180.9" y1="286.5" x2="184.5" y2="286.5" stroke="#1a1a1a" stroke-width="1.15"/>
<line x1="180.9" y1="278.5" x2="184.5" y2="278.5" stroke="#1a1a1a" stroke-width="1.15"/>
<line x1="180.9" y1="270.5" x2="184.5" y2="270.5" stroke="#1a1a1a" stroke-width="1.15"/>
<line x1="180.9" y1="262.5" x2="184.5" y2="262.5" stroke="#1a1a1a" stroke-width="1.15"/>
<line x1="180.9" y1="254.5" x2="184.5" y2="254.5" stroke="#1a1a1a" stroke-width="1.15"/>
<line x1="180.9" y1="247.5" x2="184.5" y2="247.5" stroke="#1a1a1a" stroke-width="1.15"/>
<line x1="184.5" y1="325.0" x2="184.5" y2="328.0" stroke="#1a1a1a" stroke-width="1"/>
<line x1="188.74" y1="325.0" x2="188.74" y2="326.6" stroke="#1a1a1a" stroke-width="0.8"/>
<line x1="192.98" y1="325.0" x2="192.98" y2="326.6" stroke="#1a1a1a" stroke-width="0.8"/>
<line x1="197.22" y1="325.0" x2="197.22" y2="326.6" stroke="#1a1a1a" stroke-width="0.8"/>
<line x1="201.46" y1="325.0" x2="201.46" y2="326.6" stroke="#1a1a1a" stroke-width="0.8"/>
<line x1="205.5" y1="325.0" x2="205.5" y2="328.0" stroke="#1a1a1a" stroke-width="1"/>
<line x1="209.94" y1="325.0" x2="209.94" y2="326.6" stroke="#1a1a1a" stroke-width="0.8"/>
<line x1="214.18" y1="325.0" x2="214.18" y2="326.6" stroke="#1a1a1a" stroke-width="0.8"/>
<line x1="218.42000000000002" y1="325.0" x2="218.42000000000002" y2="326.6" stroke="#1a1a1a" stroke-width="0.8"/>
<line x1="222.66" y1="325.0" x2="222.66" y2="326.6" stroke="#1a1a1a" stroke-width="0.8"/>
<line x1="226.5" y1="325.0" x2="226.5" y2="328.0" stroke="#1a1a1a" stroke-width="1"/>
<line x1="231.14" y1="325.0" x2="231.14" y2="326.6" stroke="#1a1a1a" stroke-width="0.8"/>
<line x1="235.38" y1="325.0" x2="235.38" y2="326.6" stroke="#1a1a1a" stroke-width="0.8"/>
<line x1="239.62" y1="325.0" x2="239.62" y2="326.6" stroke="#1a1a1a" stroke-width="0.8"/>
<line x1="243.86" y1="325.0" x2="243.86" y2="326.6" stroke="#1a1a1a" stroke-width="0.8"/>
<line x1="248.5" y1="325.0" x2="248.5" y2="328.0" stroke="#1a1a1a" stroke-width="1"/>
<line x1="252.34" y1="325.0" x2="252.34" y2="326.6" stroke="#1a1a1a" stroke-width="0.8"/>
<line x1="256.58" y1="325.0" x2="256.58" y2="326.6" stroke="#1a1a1a" stroke-width="0.8"/>
<line x1="260.82" y1="325.0" x2="260.82" y2="326.6" stroke="#1a1a1a" stroke-width="0.8"/>
<line x1="265.06" y1="325.0" x2="265.06" y2="326.6" stroke="#1a1a1a" stroke-width="0.8"/>
<line x1="269.5" y1="325.0" x2="269.5" y2="328.0" stroke="#1a1a1a" stroke-width="1"/>
<line x1="273.54" y1="325.0" x2="273.54" y2="326.6" stroke="#1a1a1a" stroke-width="0.8"/>
<text x="184.1" y="339.6" font-size="9.8" fill="#46709f" text-anchor="middle" font-weight="normal" stroke="#46709f" stroke-width="0.12" textLength="4.8" lengthAdjust="spacingAndGlyphs">0</text>
<text x="205.29999999999998" y="339.6" font-size="9.8" fill="#46709f" text-anchor="middle" font-weight="normal" stroke="#46709f" stroke-width="0.12" textLength="9.6" lengthAdjust="spacingAndGlyphs">20</text>
<text x="226.5" y="339.6" font-size="9.8" fill="#46709f" text-anchor="middle" font-weight="normal" stroke="#46709f" stroke-width="0.12" textLength="9.6" lengthAdjust="spacingAndGlyphs">40</text>
<text x="247.7" y="339.6" font-size="9.8" fill="#46709f" text-anchor="middle" font-weight="normal" stroke="#46709f" stroke-width="0.12" textLength="9.6" lengthAdjust="spacingAndGlyphs">60</text>
<text x="268.90000000000003" y="339.6" font-size="9.8" fill="#46709f" text-anchor="middle" font-weight="normal" stroke="#46709f" stroke-width="0.12" textLength="9.6" lengthAdjust="spacingAndGlyphs">80</text>
<text x="169.5" y="327.4" font-size="9" fill="#48a845" stroke="#48a845" stroke-width="0.2" textLength="3.6" lengthAdjust="spacingAndGlyphs">2</text>
<text x="174.3" y="323.8" font-size="5.8" fill="#6f976f" textLength="2.4" lengthAdjust="spacingAndGlyphs">0</text>
<text x="169.5" y="319.59999999999997" font-size="9" fill="#48a845" stroke="#48a845" stroke-width="0.2" textLength="3.6" lengthAdjust="spacingAndGlyphs">2</text>
<text x="174.3" y="316.0" font-size="5.8" fill="#6f976f" textLength="2.4" lengthAdjust="spacingAndGlyphs">2</text>
<text x="169.5" y="311.79999999999995" font-size="9" fill="#48a845" stroke="#48a845" stroke-width="0.2" textLength="3.6" lengthAdjust="spacingAndGlyphs">2</text>
<text x="174.3" y="308.2" font-size="5.8" fill="#6f976f" textLength="2.4" lengthAdjust="spacingAndGlyphs">4</text>
<text x="169.5" y="304.0" font-size="9" fill="#48a845" stroke="#48a845" stroke-width="0.2" textLength="3.6" lengthAdjust="spacingAndGlyphs">2</text>
<text x="174.3" y="300.40000000000003" font-size="5.8" fill="#6f976f" textLength="2.4" lengthAdjust="spacingAndGlyphs">6</text>
<text x="169.5" y="296.2" font-size="9" fill="#48a845" stroke="#48a845" stroke-width="0.2" textLength="3.6" lengthAdjust="spacingAndGlyphs">2</text>
<text x="174.3" y="292.6" font-size="5.8" fill="#6f976f" textLength="2.4" lengthAdjust="spacingAndGlyphs">8</text>
<text x="165.5" y="288.5" font-size="9" fill="#48a845" stroke="#48a845" stroke-width="0.2">2</text>
<text x="170.9" y="285.1" font-size="6.3" fill="#6f976f" textLength="6.4" lengthAdjust="spacingAndGlyphs">10</text>
<text x="165.5" y="280.7" font-size="9" fill="#48a845" stroke="#48a845" stroke-width="0.2">2</text>
<text x="170.9" y="277.3" font-size="6.3" fill="#6f976f" textLength="6.4" lengthAdjust="spacingAndGlyphs">12</text>
<text x="165.5" y="272.9" font-size="9" fill="#48a845" stroke="#48a845" stroke-width="0.2">2</text>
<text x="170.9" y="269.5" font-size="6.3" fill="#6f976f" textLength="6.4" lengthAdjust="spacingAndGlyphs">14</text>
<text x="165.5" y="265.1" font-size="9" fill="#48a845" stroke="#48a845" stroke-width="0.2">2</text>
<text x="170.9" y="261.70000000000005" font-size="6.3" fill="#6f976f" textLength="6.4" lengthAdjust="spacingAndGlyphs">16</text>
<text x="165.5" y="257.3" font-size="9" fill="#48a845" stroke="#48a845" stroke-width="0.2">2</text>
<text x="170.9" y="253.9" font-size="6.3" fill="#6f976f" textLength="6.4" lengthAdjust="spacingAndGlyphs">18</text>
<text x="165.5" y="249.5" font-size="9" fill="#48a845" stroke="#48a845" stroke-width="0.2">2</text>
<text x="170.9" y="246.1" font-size="6.3" fill="#6f976f" textLength="6.4" lengthAdjust="spacingAndGlyphs">20</text>
<path d="M302.5 283h0m0 9.5h0m0 5h0m0 2h0m0 3h0m0 1h0m0 2.5h0m0.5-32.5h0m0 4h0m0 9.5h0m0 18.5h0m0 0.5h0m0.5-39.5h0m0 2.5h0m0 5h0m0 1.5h0m0 0.5h0m0 4.5h0m0 6h0m0 4.5h0m0 1.5h0m0 2.5h0m0 3h0m0 1h0m0 8h0m0.5-43.5h0m0 3.5h0m0 1h0m0 5h0m0 2.5h0m0 8.5h0m0 1h0m0 3h0m0 0.5h0m0 3.5h0m0 6.5h0m0 0.5h0m0.5-36h0m0 1h0m0 3h0m0 2.5h0m0 3h0m0 3.5h0m0 10h0m0 0.5h0m0 2h0m0 1.5h0m0 3h0m0 7h0m0 1.5h0m0.5-36h0m0 0.5h0m0 1.5h0m0 2h0m0 0.5h0m0 7.5h0m0 15h0m0 5h0m0 7h0m0.5-39h0m0 7h0m0 8.5h0m0 8.5h0m0 2h0m0 9h0m0 3.5h0m0.5-30.5h0m0 5h0m0 1.5h0m0 0.5h0m0 1h0m0 2.5h0m0 1h0m0 19h0m0.5-32.5h0m0 1h0m0 17h0m10-9h0m0 3h0m0 1.5h0m0.5-8.5h0m0 1.5h0m0 0.5h0m0 0.5h0m0 2h0m0 0.5h0m0 1h0m0.5-8.5h0m0 4h0m0 0.5h0m0 1.5h0m0 0.5h0m0 0.5h0m0 1h0m0 1h0m0 0.5h0m0.5-23.5h0m0 16h0m0 0.5h0m0 1.5h0m0 1.5h0m0 0.5h0m0.5-19h0m0 14h0m0 1.5h0m0 1.5h0m0 2.5h0m0 0.5h0m0.5-21.5h0m0 2.5h0m0 7h0m0 0.5h0m0 9h0m0 0.5h0m0 0.5h0m0 0.5h0m0 2h0m0.5-7.5h0m0 0.5h0m0 1h0m0 1h0m0 0.5h0m0.5-11h0m0 5h0m0 2.5h0m0 1h0m0 1h0m0 3h0m0 1h0m0 2h0m0.5-8h0m0 2h0m0 1.5h0m0.5-15.5h0m0 15h0m0 1h0m0 1.5h0m0 0.5h0m0 1h0m0.5-19h0m0 15.5h0m0 0.5h0m0 2h0m0 0.5h0m0.5-7h0m0 5h0m0 1h0m0 1.5h0m0.5-22h0m0 6h0m0 7.5h0m0 1.5h0m0 0.5h0m0 0.5h0m0 3h0m0 1h0m0 0.5h0m0 0.5h0m0 1h0m0.5-6.5h0m0 0.5h0m0 1h0m0 0.5h0m0 0.5h0m0 0.5h0m0 1h0m0.5-14.5h0m0 8h0m0 1h0m0 0.5h0m0 3.5h0m0 2.5h0m0 0.5h0m0 0.5h0m0.5-8.5h0m0 1.5h0m0 0.5h0m0 0.5h0m0 0.5h0m0 1h0m0 1h0m0 1h0m0 1.5h0m0.5-6.5h0m0 0.5h0m0 2h0m0 0.5h0m0 1h0m0 0.5h0m0 1.5h0m0.5-17.5h0m0 10.5h0m0 0.5h0m0 0.5h0m0 0.5h0m0 0.5h0m0 0.5h0m0 1h0m0 1.5h0m0.5-19.5h0m0 13h0m0 2.5h0m0 2h0m0 1h0m0 2h0m0 1h0m0 0.5h0m0.5-21.5h0m0 3.5h0m0 10h0m0 1.5h0m0 0.5h0m0 1.5h0m0 1h0m0 0.5h0m0 0.5h0m0 1h0m0.5-11h0m0 2h0m0 3.5h0m0 0.5h0m0 3.5h0m0 0.5h0m0.5-19.5h0m0 14h0m0 0.5h0m0 0.5h0m0 0.5h0m0 1.5h0m0 1.5h0m0 1.5h0m0 0.5h0m0.5-20h0m0 0.5h0m0 1.5h0m0 2.5h0m0 9h0m0 2.5h0m0 1h0m0 0.5h0m0 0.5h0m0 0.5h0m0 1.5h0m0 0.5h0m0.5-19h0m0 4h0m0 3.5h0m0 5.5h0m0 1.5h0m0 2h0m0.5-8h0m0 3h0m0 1h0m0 0.5h0m0 0.5h0m0 0.5h0m0.5-14.5h0m0 9h0m0 5h0m0 1.5h0m0 1h0m0 0.5h0m0.5-15.5h0m0 9h0m0 1.5h0m0 1h0m0 2h0m0 1h0m0 1h0m0.5-6.5h0m0 1.5h0m0 0.5h0m0 0.5h0m0 2h0m0 1h0m0 1.5h0m0.5-16.5h0m0 8h0m0 2.5h0m0 0.5h0m0 0.5h0m0 1h0m0 0.5h0m0 0.5h0m0 0.5h0m0 2h0m0 0.5h0m0.5-7h0m0 1h0m0 2h0m0 1.5h0m0 0.5h0m0.5-6h0m0 1h0m0 1h0m0 2h0m0 0.5h0m0.5-6.5h0m0 3.5h0m0 1h0m0 1h0m0 1.5h0m0 3h0m0.5-24h0m0 1h0m0 11.5h0m0 1h0m0 2h0m0 1h0m0 3h0m0 0.5h0m0 3h0m0 1.5h0m0.5-23h0m0 15.5h0m0 0.5h0m0 1h0m0 1.5h0m0 1.5h0m0 1h0m0.5-13.5h0m0 6.5h0m0 0.5h0m0 1.5h0m0 0.5h0m0 0.5h0m0 0.5h0m0 0.5h0m0 0.5h0m0 1h0m0 1.5h0m0.5-12.5h0m0 8h0m0 1h0m0 0.5h0m0 3.5h0m0 0.5h0m0.5-7h0m0 0.5h0m0 1.5h0m0 3h0m0 1.5h0m0.5-6.5h0m0 0.5h0m0 0.5h0m0 1.5h0m0 0.5h0m0 0.5h0m0 0.5h0m0 0.5h0m0 0.5h0m0 1.5h0m0 0.5h0m0.5-8.5h0m0 0.5h0m0 2.5h0m0 0.5h0m0 1h0m0 0.5h0m0 0.5h0m0.5-17.5h0m0 1.5h0m0 10h0m0 1h0m0 5.5h0m0 0.5h0m0.5-6.5h0m0 0.5h0m0 1.5h0m0 0.5h0m0 0.5h0m0 0.5h0m0 1h0m0 0.5h0m0 0.5h0m0.5-6.5h0m0 1.5h0m0 2h0m0 0.5h0m0 2h0m0.5-21h0m0 7.5h0m0 2.5h0m0 4.5h0m0 1.5h0m0 0.5h0m0 1h0m0 0.5h0m0 3.5h0m0.5-21h0m0 2.5h0m0 10.5h0m0 5h0m0 0.5h0m0 0.5h0m0 2.5h0m0 0.5h0m0.5-12.5h0m0 5.5h0m0 2h0m0 1h0m0 1h0m0 0.5h0m0 2h0m0.5-14.5h0m0 10h0m0 1.5h0m0 1h0m0 1h0m0.5-6.5h0m0 2h0m0 1.5h0m0 1h0m0 2h0m0.5-12h0m0 8h0m0 1.5h0m0 1.5h0m0 1.5h0m0 0.5h0m0.5-11.5h0m0 2.5h0m0 2h0m0 2h0m0 2.5h0m0 1.5h0m0 0.5h0m0.5-16h0m0 5.5h0m0 2h0m0 2h0m0 1h0m0 2.5h0m0 1h0m0 1h0m0 1.5h0m0.5-15h0m0 8h0m0 0.5h0m0 0.5h0m0 1.5h0m0 0.5h0m0 0.5h0m0 2h0m0 0.5h0m0.5-8.5h0m0 1.5h0m0 0.5h0m0 2h0m0 1.5h0m0 2.5h0m0 0.5h0m0.5-7h0m0 0.5h0m0 2h0m0 1h0m0 0.5h0m0 2.5h0m0 0.5h0m0 0.5h0m0.5-22h0m0 11h0m0 1.5h0m0 4.5h0m0 1h0m0 2h0m0.5-17.5h0m0 8h0m0 1h0m0 3h0m0 1.5h0m0 1.5h0m0 0.5h0m0 1h0m0 1h0m0 1h0m0 0.5h0m0.5-6h0m0 0.5h0m0 0.5h0m0 0.5h0m0 2.5h0m0 0.5h0m0 1h0m0 1h0m0.5-10h0m0 2h0m0 2h0m0 0.5h0m0 1h0m0 0.5h0m0 1h0m0 0.5h0m0 1h0m0 0.5h0m0.5-17h0m0 6.5h0m0 1.5h0m0 1.5h0m0 1h0m0 0.5h0m0 2.5h0m0 1.5h0m0 0.5h0m0 1.5h0m0 1h0m0.5-9h0m0 0.5h0m0 3h0m0 0.5h0m0 1.5h0m0 2h0m0 0.5h0m0.5-19.5h0m0 11.5h0m0 4h0m0 1.5h0m0 0.5h0m0.5-9.5h0m0 3.5h0m0 1h0m0 1h0m0 1h0m0 2.5h0m0 2h0m0 0.5h0m0.5-16h0m0 7h0m0 1h0m0 0.5h0m0 0.5h0m0 0.5h0m0 1h0m0 1h0m0 0.5h0m0 1h0m0 0.5h0m0.5-7.5h0m0 3h0m0 1h0m0 0.5h0m0.5-6.5h0m0 3.5h0m0 4h0m0 0.5h0m0 2h0m0.5-18.5h0m0 7h0m0 8.5h0m0 1h0m0 0.5h0m0 0.5h0m0.5-9h0m0 4h0m0 3.5h0m0 0.5h0m0 2h0m0 0.5h0m0 0.5h0m0 0.5h0m0 0.5h0m0.5-20.5h0m0 10h0m0 4.5h0m0 1.5h0m0 2.5h0m0.5-10.5h0m0 3h0m0 1.5h0m0 3h0m0 1.5h0m0 0.5h0m0 1h0m0 0.5h0m0 0.5h0m0.5-13.5h0m0 0.5h0m0 1h0m0 1.5h0m0 4h0m0 0.5h0m0 3h0m0.5-4.5h0m0 0.5h0m0 0.5h0m0 1h0m0 0.5h0m0 0.5h0m0 1h0m0 1.5h0m0 1h0m0 1h0m0.5-6.5h0m0 1h0m0 2.5h0m0 1h0m0 0.5h0m0.5-6h0m0 0.5h0m0 0.5h0m0 1.5h0m0 5h0m0.5-20h0m0 2.5h0m0 4.5h0m0 5h0m0 2h0m0 1.5h0m0 1h0m0 0.5h0m0 1h0m0.5-18.5h0m0 11.5h0m0 1h0m0 0.5h0m0 1.5h0m0 0.5h0m0 0.5h0m0 1h0m0 1.5h0m0 1.5h0m0.5-6.5h0m0 1h0m0 3h0m0 0.5h0m0 1h0m0.5-6.5h0m0 2h0m0.5-17h0m0 7h0m0 8.5h0m0 3h0m0 1.5h0m0 0.5h0m0.5-15h0m0 10h0m0 1h0m0 1h0m0 0.5h0m0 0.5h0m0 1h0m0 1.5h0m0.5-21h0m0 15.5h0m0 3.5h0m0 0.5h0m0 3.5h0m0.5-10.5h0m0 5h0m0 1.5h0m0 0.5h0m0 1.5h0m0.5-15.5h0m0 2h0m0 4h0m0 2.5h0m0 2.5h0m0 0.5h0m0 1.5h0m0 0.5h0m0.5-16h0m0 1.5h0m0 10h0m0 0.5h0m0 0.5h0m0 0.5h0m0 0.5h0m0 5h0m0.5-4.5h0m0 2h0m0 0.5h0m0 2.5h0m0.5-15h0m0 2h0m0 8h0m0 0.5h0m0 1h0m0 1h0m0 0.5h0m0.5-20h0m0 2h0m0 2.5h0m0 5h0m0 4.5h0m0 6.5h0m0 1h0m0 2h0m0.5-16h0m0 4.5h0m0 2.5h0m0 1h0m0 0.5h0m0 0.5h0m0 0.5h0m0 1h0m0 0.5h0m0 0.5h0m0 1h0m0.5-10.5h0m0 1h0m0 2h0m0 0.5h0m0 3.5h0m0 0.5h0m0 1.5h0m0.5-12.5h0m0 8.5h0m0 0.5h0m0 0.5h0m0 0.5h0m0 3h0m0.5-17h0m0 9.5h0m0 3h0m0 1h0m0 0.5h0m0 0.5h0m0 3.5h0m0.5-12.5h0m0 5.5h0m0 1h0m0 1.5h0m0 1h0m0 1.5h0m0 0.5h0m0.5-6.5h0m0 2.5h0m0 0.5h0m0 1h0m0 0.5h0m0 0.5h0m0 2.5h0m0 0.5h0m0 1h0m0.5-20h0m0 11.5h0m0 0.5h0m0 1h0m0 4.5h0m0.5-10h0m0 1.5h0m0 1h0m0 3h0m0 1.5h0m0 0.5h0m0 0.5h0m0 1h0m0 1.5h0m0.5-4h0m0 2.5h0m0 1.5h0m0 1h0m0.5-10.5h0m0 3h0m0 1h0m0 2.5h0m0 1h0m0 0.5h0m0 1.5h0m0.5-17h0m0 5.5h0m0 4.5h0m0 2h0m0 0.5h0m0 1h0m0 1h0m0.5-5h0m0 1.5h0m0 1.5h0m0 0.5h0m0 2h0m0 0.5h0m0 0.5h0m0 1h0m0.5-5.5h0m0 1.5h0m0 3.5h0m0 0.5h0m0.5-17h0m0 1h0m0 10h0m0 0.5h0m0 2h0m0 1h0m0 2.5h0m0.5-8.5h0m0 1.5h0m0 3h0m0 1.5h0m0.5-14h0m0 10.5h0m0 0.5h0m0 0.5h0m0 0.5h0m0 0.5h0m0 0.5h0m0 0.5h0m0 0.5h0m0 0.5h0m0 0.5h0m0 0.5h0m0.5-8.5h0m0 2h0m0 1h0m0 2h0m0 1.5h0m0.5-5h0m0 0.5h0m0 1.5h0m0 1h0m0 2.5h0m0 1h0m0.5-6.5h0m0 2h0m0 0.5h0m0 2h0m0 1.5h0m0.5-5h0m0 2h0m0 0.5h0m0 1.5h0m0 0.5h0m0.5-12.5h0m0 4h0m0 4.5h0m0 1h0m0 1h0m0 1.5h0m0 0.5h0m0 2.5h0m0 0.5h0m0.5-16.5h0m0 8.5h0m0 0.5h0m0 3.5h0m0 1h0m0.5-9h0m0 1.5h0m0 4h0m0 1.5h0m0.5-6h0m0 1.5h0m0 2.5h0m0 6.5h0m0.5-17h0m0 5.5h0m0 1.5h0m0 0.5h0m0 0.5h0m0 1.5h0m0 0.5h0m0 1h0m0 1.5h0m0 1h0m0.5-5h0m0 0.5h0m0 0.5h0m0 1.5h0m0 3h0m0 2h0m0.5-11.5h0m0 1h0m0 4h0m0 1.5h0m0.5-10.5h0m0 2h0m0 6.5h0m0 1h0m0 0.5h0m0 0.5h0m0 0.5h0m0 2h0m0 0.5h0m0.5-6h0m0 0.5h0m0 1.5h0m0 1.5h0m0 1h0m0 1.5h0m0 0.5h0m0.5-17.5h0m0 11.5h0m0 0.5h0m0 1h0m0 1.5h0m0.5-5h0m0 1h0m0 0.5h0m0 0.5h0m0 0.5h0m0 0.5h0m0 0.5h0m0 2.5h0m0.5-7.5h0m0 4h0m0 1h0m0 3h0m0.5-12h0m0 5h0m0 0.5h0m0 0.5h0m0 1h0m0 1h0m0 1h0m0 1.5h0m0 1.5h0m0 0.5h0m0.5-9h0m0 0.5h0m0 3h0m0 0.5h0m0 2.5h0m0.5-3.5h0m0 1h0m0 1.5h0m0 0.5h0m0 1h0m0 0.5h0m0.5-11.5h0m0 1h0m0 1h0m0 2.5h0m0 4.5h0m0 1h0m0.5-10h0m0 1h0m0 0.5h0m0 2.5h0m0 2h0m0 1h0m0 1.5h0m0 1h0m0 0.5h0m0.5-6.5h0m0 1.5h0m0 2.5h0m0 2.5h0m0.5-7h0m0 1h0m0 4.5h0m0.5-5h0m0 1.5h0m0 1h0m0 0.5h0m0 0.5h0m0 0.5h0m0 0.5h0m0 1.5h0m0 0.5h0m0 0.5h0m0 0.5h0m0.5-8.5h0m0 1.5h0m0 0.5h0m0 1h0m0 0.5h0m0 1.5h0m0 0.5h0m0 1h0m0 0.5h0m0.5-8h0m0 4.5h0m0 0.5h0m0 1h0m0 0.5h0m0 0.5h0m0 0.5h0m0.5-7h0m0 0.5h0m0 1.5h0m0 1h0m0 2.5h0m0 1h0m0.5-6.5h0m0 5.5h0m0 1.5h0m0.5-2h0" stroke="#bcbcbc" stroke-width="1.4" stroke-linecap="square" fill="none"/>
<line x1="305.5" y1="260" x2="305.5" y2="325" stroke="#4a6fae" stroke-width="1" stroke-dasharray="1 1"/>
<path d="M303.5 267h0m0 0.5h0m0 4h0m0 1.5h0m0 1h0m0 2h0m0 2.5h0m0 1h0m0 0.5h0m0 1h0m0 0.5h0m0 1h0m0 2h0m0 0.5h0m0 0.5h0m0 0.5h0m0 1.5h0m0 2h0m0 0.5h0m0 0.5h0m0 1h0m0 0.5h0m0 3h0m0 1.5h0m0 0.5h0m0 0.5h0m0 2h0m0 1.5h0m0 0.5h0m0 1h0m0 1h0m0 0.5h0m0.5-39.5h0m0 3h0m0 0.5h0m0 0.5h0m0 0.5h0m0 0.5h0m0 1.5h0m0 1h0m0 2h0m0 1.5h0m0 1h0m0 1h0m0 0.5h0m0 1h0m0 0.5h0m0 0.5h0m0 0.5h0m0 0.5h0m0 3.5h0m0 1h0m0 2h0m0 1h0m0 0.5h0m0 2h0m0 0.5h0m0 0.5h0m0 0.5h0m0 0.5h0m0 0.5h0m0 0.5h0m0 0.5h0m0 0.5h0m0 1h0m0 2.5h0m0 0.5h0m0 2h0m0 0.5h0m0 0.5h0m0 1h0m0 1.5h0m0.5-36.5h0m0 2h0m0 1.5h0m0 3.5h0m0 2.5h0m0 0.5h0m0 1.5h0m0 0.5h0m0 0.5h0m0 0.5h0m0 1h0m0 1h0m0 2h0m0 1h0m0 1.5h0m0 0.5h0m0 0.5h0m0 0.5h0m0 1h0m0 0.5h0m0 0.5h0m0 1h0m0 0.5h0m0 2h0m0 2.5h0m0 0.5h0m0 2h0m0 1.5h0m0 0.5h0m0.5-34h0m0 1h0m0 0.5h0m0 2.5h0m0 2h0m0 3h0m0 0.5h0m0 1h0m0 0.5h0m0 2h0m0 0.5h0m0 0.5h0m0 1.5h0m0 0.5h0m0 0.5h0m0 1h0m0 1.5h0m0 5.5h0m0 0.5h0m0 1.5h0m0 6.5h0m0 1h0m0.5-35.5h0m0 3.5h0m0 1h0m0 0.5h0m0 0.5h0m0 0.5h0m0 1h0m0 0.5h0m0 2h0m0 0.5h0m0 0.5h0m0 1h0m0 1h0m0 0.5h0m0 0.5h0m0 1h0m0 2h0m0 2h0m0 1h0m0 1h0m0 0.5h0m0 1h0m0 0.5h0m0 0.5h0m0 2h0m0 3h0m0 1.5h0m0 3.5h0m0 1.5h0m0 0.5h0m0 0.5h0m0 0.5h0m0 0.5h0m0.5-39.5h0m0 3h0m0 0.5h0m0 5h0m0 1h0m0 1.5h0m0 0.5h0m0 0.5h0m0 2h0m0 1h0m0 1.5h0m0 0.5h0m0 0.5h0m0 2h0m0 0.5h0m0 0.5h0m0 1h0m0 1h0m0 1h0m0 3.5h0m0 1h0m0 3.5h0m0 0.5h0m0 3h0m0 4.5h0m0 1.5h0m0.5-33h0m0 4h0m0 0.5h0m0 0.5h0m0 0.5h0m0 3h0m0 3.5h0m0 0.5h0m0 1h0m0 3.5h0m0 0.5h0m0 0.5h0m0 0.5h0m0 3h0m0 0.5h0m0 0.5h0m0 0.5h0m0 0.5h0m0 2h0m0 3h0m0 0.5h0m0 1h0m0.5-35h0m0 1h0m0 4h0m0 1h0m0 2h0m0 1h0m0 0.5h0m0 1.5h0m0 2.5h0m0 3h0m0 3h0m0 0.5h0m0 2h0m0 0.5h0m0 5.5h0m0 1h0m0 1.5h0m0 2h0m0.5-37.5h0m0 11.5h0m0 0.5h0m0 1h0m0 1h0m0 1h0m0 1h0m0 1h0m0 0.5h0m0 0.5h0m0 0.5h0m0 0.5h0m0 0.5h0m0 0.5h0m0 1h0m0 0.5h0m0 0.5h0m0 1.5h0m0 0.5h0m0 2h0m0 5.5h0m0 0.5h0m0 2.5h0m0 0.5h0m0 0.5h0m0 0.5h0m0 1h0m0.5-29.5h0m0 2.5h0m0 0.5h0m0 1.5h0m0 0.5h0m0 0.5h0m0 1h0m0 5h0m0 0.5h0m0 2h0m0 0.5h0m0 1.5h0m0 0.5h0m0 1h0m0 0.5h0m0 1h0m0 1.5h0m0 1h0m0 3h0m0 0.5h0m0 0.5h0m0 3h0m0.5-29h0m0 2.5h0m0 0.5h0m0 1h0m0 2h0m0 2h0m0 0.5h0m0 1h0m0 0.5h0m0 1h0m0 0.5h0m0 0.5h0m0 2.5h0m0 2h0m0 0.5h0m0 3h0m0 4.5h0m0 0.5h0m0 4.5h0m0.5-29h0m0 1.5h0m0 2h0m0 1.5h0m0 3h0m0 1h0m0 0.5h0m0 0.5h0m0 1.5h0m0 0.5h0m0 4.5h0m0 3.5h0m0 2h0m0 0.5h0m0 1h0m0 1.5h0m0 1h0m0 0.5h0m0.5-32h0m0 3.5h0m0 1.5h0m0 0.5h0m0 1h0m0 6.5h0m0 0.5h0m0 0.5h0m0 1h0m0 2.5h0m0 0.5h0m0 2h0m0 1h0m0 2h0m0 1h0m0 0.5h0m0 2.5h0m0 2h0m0.5-24.5h0m0 6.5h0m0 0.5h0m0 1h0m0 0.5h0m0 4h0m0 0.5h0m0 0.5h0m0 2h0m0 1h0m0 1h0m0 1h0m0 1h0m0 2.5h0m0 1.5h0m0 0.5h0m0 1h0m0.5-28.5h0m0 6h0m0 4h0m0 0.5h0m0 2.5h0m0 3h0m0 0.5h0m0 1h0m0 1.5h0m0 0.5h0m0 1h0m0 2h0m0 2.5h0m0 1.5h0m0.5-22.5h0m0 3.5h0m0 0.5h0m0 1.5h0m0 4.5h0m0 0.5h0m0 3h0m0 4h0m0 0.5h0m0 1.5h0m0 2.5h0m0.5-21h0m0 1h0m0 0.5h0m0 1h0m0 2h0m0 3h0m0 1.5h0m0 0.5h0m0 0.5h0m0 0.5h0m0 0.5h0m0 0.5h0m0 1h0m0 1.5h0m0 0.5h0m0 4h0m0.5-17h0m0 0.5h0m0 0.5h0m0 0.5h0m0 3.5h0m0 0.5h0m0 0.5h0m0 7.5h0m0 1.5h0m0 0.5h0m0.5-16.5h0m0 2h0m0 2.5h0m0 0.5h0m0 0.5h0m0 1h0m0 0.5h0m0 2.5h0m0 0.5h0m0 2.5h0m0 4.5h0m0.5-21h0m0 5.5h0m0 0.5h0m0 3h0m0 1h0m0 1.5h0m0 0.5h0m0 1h0m0 0.5h0m0 0.5h0m0 0.5h0m0 0.5h0m0 1.5h0m0 1.5h0m0 1.5h0m0 0.5h0m0 1h0m0 0.5h0m0.5-16.5h0m0 4.5h0m0 1h0m0 0.5h0m0 1h0m0 0.5h0m0 1h0m0 0.5h0m0 1h0m0 2.5h0m0 0.5h0m0 1h0m0 1h0m0.5-14.5h0m0 0.5h0m0 1.5h0m0 0.5h0m0 2h0m0 0.5h0m0 2.5h0m0 4.5h0m0 0.5h0m0.5-6.5h0m0 0.5h0m0 2h0m0 1h0m0 4h0m0.5-21.5h0m0 6h0m0 2.5h0m0 2.5h0m0 0.5h0m0 0.5h0m0 0.5h0m0 2h0m0 5.5h0m0.5-10.5h0m0 2.5h0m0 0.5h0m0 2h0m0 1h0m0 0.5h0m0 0.5h0m0 0.5h0m0 0.5h0m0 3h0m0 0.5h0m0.5-15h0m0 2.5h0m0 2h0m0 1h0m0 1h0m0 1.5h0m0.5-10h0m0 5.5h0m0 0.5h0m0 3h0m0 1h0m0.5-5h0m0 0.5h0m0 2h0m0 1.5h0m0 1h0m0 4.5h0m0.5-17.5h0m0 8.5h0m0 1.5h0m0 4.5h0m0 3h0m0.5-6.5h0m0 0.5h0m0 1h0m0 1.5h0m0 0.5h0m0.5-4.5h0m0 1h0m0 0.5h0m0 1.5h0m0 2.5h0m0 0.5h0m0.5-3h0m0.5-3.5h0m0 5h0m0.5-4.5h0m0 1h0m0.5 3h0m2-13h0m1.5-1h0m1 6.5h0m0.5-5.5h0m1 6h0" stroke="#0d0d0d" stroke-width="1.4" stroke-linecap="square" fill="none"/>
<line x1="302" y1="285.5" x2="382" y2="285.5" stroke="#5db55a" stroke-width="1" stroke-dasharray="1 1"/>
<text x="363.6" y="293.09999999999997" font-size="9.1" fill="#4fa54b" text-anchor="start" font-weight="normal" stroke="#4fa54b" stroke-width="0.12" textLength="20.0" lengthAdjust="spacingAndGlyphs">1340</text>
<text x="307.8" y="323.0" font-size="8.6" fill="#46709f" text-anchor="start" font-weight="normal" stroke="#46709f" stroke-width="0.12">4.0</text>
<text x="386.8" y="323.0" font-size="9.0" fill="#2b2b2b" text-anchor="end" font-weight="normal" stroke="#2b2b2b" stroke-width="0.12">n = 2689</text>
<line x1="301.5" y1="244.4" x2="301.5" y2="325.5" stroke="#1a1a1a" stroke-width="1"/>
<line x1="301.0" y1="325.5" x2="390.54" y2="325.5" stroke="#1a1a1a" stroke-width="1"/>
<line x1="297.9" y1="325.5" x2="301.5" y2="325.5" stroke="#1a1a1a" stroke-width="1.15"/>
<line x1="297.9" y1="317.5" x2="301.5" y2="317.5" stroke="#1a1a1a" stroke-width="1.15"/>
<line x1="297.9" y1="309.5" x2="301.5" y2="309.5" stroke="#1a1a1a" stroke-width="1.15"/>
<line x1="297.9" y1="301.5" x2="301.5" y2="301.5" stroke="#1a1a1a" stroke-width="1.15"/>
<line x1="297.9" y1="293.5" x2="301.5" y2="293.5" stroke="#1a1a1a" stroke-width="1.15"/>
<line x1="297.9" y1="286.5" x2="301.5" y2="286.5" stroke="#1a1a1a" stroke-width="1.15"/>
<line x1="297.9" y1="278.5" x2="301.5" y2="278.5" stroke="#1a1a1a" stroke-width="1.15"/>
<line x1="297.9" y1="270.5" x2="301.5" y2="270.5" stroke="#1a1a1a" stroke-width="1.15"/>
<line x1="297.9" y1="262.5" x2="301.5" y2="262.5" stroke="#1a1a1a" stroke-width="1.15"/>
<line x1="297.9" y1="254.5" x2="301.5" y2="254.5" stroke="#1a1a1a" stroke-width="1.15"/>
<line x1="297.9" y1="247.5" x2="301.5" y2="247.5" stroke="#1a1a1a" stroke-width="1.15"/>
<line x1="301.5" y1="325.0" x2="301.5" y2="328.0" stroke="#1a1a1a" stroke-width="1"/>
<line x1="305.74" y1="325.0" x2="305.74" y2="326.6" stroke="#1a1a1a" stroke-width="0.8"/>
<line x1="309.98" y1="325.0" x2="309.98" y2="326.6" stroke="#1a1a1a" stroke-width="0.8"/>
<line x1="314.22" y1="325.0" x2="314.22" y2="326.6" stroke="#1a1a1a" stroke-width="0.8"/>
<line x1="318.46" y1="325.0" x2="318.46" y2="326.6" stroke="#1a1a1a" stroke-width="0.8"/>
<line x1="322.5" y1="325.0" x2="322.5" y2="328.0" stroke="#1a1a1a" stroke-width="1"/>
<line x1="326.94" y1="325.0" x2="326.94" y2="326.6" stroke="#1a1a1a" stroke-width="0.8"/>
<line x1="331.18" y1="325.0" x2="331.18" y2="326.6" stroke="#1a1a1a" stroke-width="0.8"/>
<line x1="335.42" y1="325.0" x2="335.42" y2="326.6" stroke="#1a1a1a" stroke-width="0.8"/>
<line x1="339.66" y1="325.0" x2="339.66" y2="326.6" stroke="#1a1a1a" stroke-width="0.8"/>
<line x1="343.5" y1="325.0" x2="343.5" y2="328.0" stroke="#1a1a1a" stroke-width="1"/>
<line x1="348.14" y1="325.0" x2="348.14" y2="326.6" stroke="#1a1a1a" stroke-width="0.8"/>
<line x1="352.38" y1="325.0" x2="352.38" y2="326.6" stroke="#1a1a1a" stroke-width="0.8"/>
<line x1="356.62" y1="325.0" x2="356.62" y2="326.6" stroke="#1a1a1a" stroke-width="0.8"/>
<line x1="360.86" y1="325.0" x2="360.86" y2="326.6" stroke="#1a1a1a" stroke-width="0.8"/>
<line x1="365.5" y1="325.0" x2="365.5" y2="328.0" stroke="#1a1a1a" stroke-width="1"/>
<line x1="369.34000000000003" y1="325.0" x2="369.34000000000003" y2="326.6" stroke="#1a1a1a" stroke-width="0.8"/>
<line x1="373.58" y1="325.0" x2="373.58" y2="326.6" stroke="#1a1a1a" stroke-width="0.8"/>
<line x1="377.82" y1="325.0" x2="377.82" y2="326.6" stroke="#1a1a1a" stroke-width="0.8"/>
<line x1="382.06" y1="325.0" x2="382.06" y2="326.6" stroke="#1a1a1a" stroke-width="0.8"/>
<line x1="386.5" y1="325.0" x2="386.5" y2="328.0" stroke="#1a1a1a" stroke-width="1"/>
<line x1="390.54" y1="325.0" x2="390.54" y2="326.6" stroke="#1a1a1a" stroke-width="0.8"/>
<text x="301.1" y="339.6" font-size="9.8" fill="#46709f" text-anchor="middle" font-weight="normal" stroke="#46709f" stroke-width="0.12" textLength="4.8" lengthAdjust="spacingAndGlyphs">0</text>
<text x="322.3" y="339.6" font-size="9.8" fill="#46709f" text-anchor="middle" font-weight="normal" stroke="#46709f" stroke-width="0.12" textLength="9.6" lengthAdjust="spacingAndGlyphs">20</text>
<text x="343.5" y="339.6" font-size="9.8" fill="#46709f" text-anchor="middle" font-weight="normal" stroke="#46709f" stroke-width="0.12" textLength="9.6" lengthAdjust="spacingAndGlyphs">40</text>
<text x="364.70000000000005" y="339.6" font-size="9.8" fill="#46709f" text-anchor="middle" font-weight="normal" stroke="#46709f" stroke-width="0.12" textLength="9.6" lengthAdjust="spacingAndGlyphs">60</text>
<text x="385.90000000000003" y="339.6" font-size="9.8" fill="#46709f" text-anchor="middle" font-weight="normal" stroke="#46709f" stroke-width="0.12" textLength="9.6" lengthAdjust="spacingAndGlyphs">80</text>
<text x="286.5" y="327.4" font-size="9" fill="#48a845" stroke="#48a845" stroke-width="0.2" textLength="3.6" lengthAdjust="spacingAndGlyphs">2</text>
<text x="291.3" y="323.8" font-size="5.8" fill="#6f976f" textLength="2.4" lengthAdjust="spacingAndGlyphs">0</text>
<text x="286.5" y="319.59999999999997" font-size="9" fill="#48a845" stroke="#48a845" stroke-width="0.2" textLength="3.6" lengthAdjust="spacingAndGlyphs">2</text>
<text x="291.3" y="316.0" font-size="5.8" fill="#6f976f" textLength="2.4" lengthAdjust="spacingAndGlyphs">2</text>
<text x="286.5" y="311.79999999999995" font-size="9" fill="#48a845" stroke="#48a845" stroke-width="0.2" textLength="3.6" lengthAdjust="spacingAndGlyphs">2</text>
<text x="291.3" y="308.2" font-size="5.8" fill="#6f976f" textLength="2.4" lengthAdjust="spacingAndGlyphs">4</text>
<text x="286.5" y="304.0" font-size="9" fill="#48a845" stroke="#48a845" stroke-width="0.2" textLength="3.6" lengthAdjust="spacingAndGlyphs">2</text>
<text x="291.3" y="300.40000000000003" font-size="5.8" fill="#6f976f" textLength="2.4" lengthAdjust="spacingAndGlyphs">6</text>
<text x="286.5" y="296.2" font-size="9" fill="#48a845" stroke="#48a845" stroke-width="0.2" textLength="3.6" lengthAdjust="spacingAndGlyphs">2</text>
<text x="291.3" y="292.6" font-size="5.8" fill="#6f976f" textLength="2.4" lengthAdjust="spacingAndGlyphs">8</text>
<text x="282.5" y="288.5" font-size="9" fill="#48a845" stroke="#48a845" stroke-width="0.2">2</text>
<text x="287.9" y="285.1" font-size="6.3" fill="#6f976f" textLength="6.4" lengthAdjust="spacingAndGlyphs">10</text>
<text x="282.5" y="280.7" font-size="9" fill="#48a845" stroke="#48a845" stroke-width="0.2">2</text>
<text x="287.9" y="277.3" font-size="6.3" fill="#6f976f" textLength="6.4" lengthAdjust="spacingAndGlyphs">12</text>
<text x="282.5" y="272.9" font-size="9" fill="#48a845" stroke="#48a845" stroke-width="0.2">2</text>
<text x="287.9" y="269.5" font-size="6.3" fill="#6f976f" textLength="6.4" lengthAdjust="spacingAndGlyphs">14</text>
<text x="282.5" y="265.1" font-size="9" fill="#48a845" stroke="#48a845" stroke-width="0.2">2</text>
<text x="287.9" y="261.70000000000005" font-size="6.3" fill="#6f976f" textLength="6.4" lengthAdjust="spacingAndGlyphs">16</text>
<text x="282.5" y="257.3" font-size="9" fill="#48a845" stroke="#48a845" stroke-width="0.2">2</text>
<text x="287.9" y="253.9" font-size="6.3" fill="#6f976f" textLength="6.4" lengthAdjust="spacingAndGlyphs">18</text>
<text x="282.5" y="249.5" font-size="9" fill="#48a845" stroke="#48a845" stroke-width="0.2">2</text>
<text x="287.9" y="246.1" font-size="6.3" fill="#6f976f" textLength="6.4" lengthAdjust="spacingAndGlyphs">20</text>
<path d="M421.5 266.5h0m0 3h0m0 11h0m0 7h0m0.5-19.5h0m0 5h0m0 4.5h0m0 9.5h0m0 2h0m0 3.5h0m0 0.5h0m0 13.5h0m0.5-36h0m0 1.5h0m0 2h0m0 9.5h0m0 8.5h0m0 4.5h0m0 15h0m0.5-45h0m0 1.5h0m0 15h0m0 2.5h0m0 4h0m0 11.5h0m0 5h0m0 5.5h0m0 0.5h0m0.5-40h0m0 0.5h0m0 10h0m0 3h0m0 3.5h0m0 0.5h0m0 2.5h0m0 3.5h0m0 0.5h0m0 5h0m0.5-34h0m0 0.5h0m0 8.5h0m0 4h0m0 16h0m0.5-22h0m0 13h0m0 10h0m0 3.5h0m0 1h0m0 9h0m0 0.5h0m0.5-44h0m0 5h0m0 0.5h0m0 8h0m0 5.5h0m0 5.5h0m0 5h0m0 12.5h0m4.5-28.5h0m0 0.5h0m0 4h0m0 0.5h0m0 0.5h0m0 1h0m0 0.5h0m0 0.5h0m0.5-6h0m0 1h0m0 0.5h0m0 0.5h0m0 1.5h0m0 2h0m0 1.5h0m0.5-8.5h0m0 1.5h0m0 0.5h0m0 0.5h0m0 1h0m0 0.5h0m0 0.5h0m0 1h0m0 0.5h0m0.5-2h0m0 0.5h0m0 1.5h0m0.5-5h0m0 0.5h0m0 0.5h0m0 0.5h0m0 2.5h0m0 0.5h0m0 0.5h0m0.5-6.5h0m0 2h0m0 0.5h0m0 1h0m0.5-5.5h0m0 2.5h0m0 1h0m0 1h0m0 0.5h0m0 1.5h0m0 0.5h0m0 0.5h0m0 0.5h0m0 1h0m0.5-6.5h0m0 1.5h0m0 1h0m0 0.5h0m0 2.5h0m0 1h0m0.5-9.5h0m0 6h0m0 0.5h0m0 1.5h0m0.5-22.5h0m0 13.5h0m0 3.5h0m0 1h0m0 1h0m0 1h0m0 1.5h0m0.5-18h0m0 3h0m0 7.5h0m0 1h0m0 0.5h0m0 0.5h0m0 1h0m0 0.5h0m0 1h0m0 3h0m0.5-17.5h0m0 7h0m0 0.5h0m0 3.5h0m0 0.5h0m0 1.5h0m0 1h0m0 0.5h0m0 1h0m0.5-25h0m0 2.5h0m0 7h0m0 0.5h0m0 3h0m0 6h0m0 0.5h0m0 2.5h0m0 0.5h0m0 1.5h0m0 0.5h0m0 1h0m0 0.5h0m0.5-6h0m0 0.5h0m0 1.5h0m0 1.5h0m0 0.5h0m0 0.5h0m0 1h0m0.5-25.5h0m0 7.5h0m0 1.5h0m0 9h0m0 0.5h0m0 1h0m0 1h0m0 1h0m0 0.5h0m0 2h0m0 2h0m0.5-18.5h0m0 10.5h0m0 1h0m0 1.5h0m0 0.5h0m0 0.5h0m0 0.5h0m0 0.5h0m0 0.5h0m0.5-12.5h0m0 9.5h0m0 0.5h0m0 1.5h0m0.5-23.5h0m0 5.5h0m0 10.5h0m0 1h0m0 2h0m0 1h0m0 2h0m0 1h0m0 1h0m0 0.5h0m0.5-20h0m0 13h0m0 0.5h0m0 2h0m0 0.5h0m0 1.5h0m0 2h0m0.5-23h0m0 11.5h0m0 0.5h0m0 5.5h0m0 1h0m0 0.5h0m0 0.5h0m0 1h0m0 1h0m0.5-6h0m0 1h0m0 3h0m0 1.5h0m0 1h0m0 1h0m0.5-9.5h0m0 4.5h0m0 1h0m0 1.5h0m0.5-5.5h0m0 1.5h0m0 3h0m0 1h0m0 0.5h0m0 1.5h0m0 0.5h0m0.5-28.5h0m0 14.5h0m0 2.5h0m0 2.5h0m0 1.5h0m0 2.5h0m0 2h0m0 1h0m0.5-26.5h0m0 1h0m0 18.5h0m0 4.5h0m0 1h0m0 0.5h0m0 1h0m0 0.5h0m0.5-7h0m0 3h0m0 1h0m0 0.5h0m0 2.5h0m0.5-14h0m0 1h0m0 1.5h0m0 0.5h0m0 3.5h0m0 1h0m0 3h0m0 2.5h0m0.5-16.5h0m0 10.5h0m0 1.5h0m0 2.5h0m0 0.5h0m0 2h0m0.5-14.5h0m0 4.5h0m0 3h0m0 0.5h0m0 0.5h0m0 1h0m0 1.5h0m0 1h0m0 1.5h0m0.5-25.5h0m0 19.5h0m0 2.5h0m0 3.5h0m0 0.5h0m0.5-23h0m0 1h0m0 0.5h0m0 10h0m0 4.5h0m0 1h0m0 0.5h0m0 2.5h0m0 0.5h0m0 0.5h0m0 2.5h0m0 0.5h0m0.5-26.5h0m0 2.5h0m0 9h0m0 4h0m0 3.5h0m0 1h0m0 0.5h0m0 0.5h0m0 1.5h0m0 0.5h0m0 0.5h0m0.5-7h0m0 1.5h0m0 1.5h0m0 2h0m0 1h0m0 1.5h0m0 0.5h0m0 1h0m0 0.5h0m0.5-21h0m0 9.5h0m0 5.5h0m0 3.5h0m0 1h0m0.5-8h0m0 1h0m0 1.5h0m0 2.5h0m0 2.5h0m0.5-25.5h0m0 1h0m0 2h0m0 15h0m0 1h0m0 1h0m0 1.5h0m0 1h0m0 3h0m0.5-8h0m0 0.5h0m0 2.5h0m0 0.5h0m0 1h0m0 4h0m0.5-13.5h0m0 5h0m0 3h0m0 0.5h0m0 3h0m0 3h0m0.5-19.5h0m0 10.5h0m0 1h0m0 3h0m0 0.5h0m0 0.5h0m0 0.5h0m0 1h0m0 1h0m0.5-7h0m0 2h0m0 1h0m0 1.5h0m0 2h0m0 0.5h0m0 0.5h0m0 1h0m0.5-24.5h0m0 9.5h0m0 6h0m0 1h0m0 0.5h0m0 1h0m0 0.5h0m0.5-3h0m0 2h0m0 1h0m0 0.5h0m0 5h0m0.5-28h0m0 17h0m0 1h0m0 3.5h0m0 0.5h0m0 0.5h0m0 3.5h0m0.5-5h0m0 2h0m0 1h0m0 1h0m0.5-20h0m0 10h0m0 4h0m0 1h0m0 0.5h0m0 1h0m0 0.5h0m0 0.5h0m0 0.5h0m0 0.5h0m0 0.5h0m0 1h0m0.5-25h0m0 6h0m0 13h0m0 1.5h0m0 1h0m0 2h0m0 1h0m0 1h0m0.5-7.5h0m0 1.5h0m0 0.5h0m0 1h0m0 0.5h0m0 1.5h0m0 0.5h0m0 1.5h0m0 1h0m0 0.5h0m0.5-15.5h0m0 5h0m0 2.5h0m0 1.5h0m0 0.5h0m0 4.5h0m0 1.5h0m0.5-20.5h0m0 17h0m0 0.5h0m0 1h0m0.5-19.5h0m0 17.5h0m0.5-18.5h0m0 13h0m0 3.5h0m0 2h0m0 1h0m0 0.5h0m0 1h0m0.5-24.5h0m0 1h0m0 11.5h0m0 3h0m0 5h0m0 1.5h0m0 0.5h0m0 2h0m0 0.5h0m0.5-26h0m0 4h0m0 14h0m0 5h0m0 0.5h0m0 0.5h0m0 1h0m0 0.5h0m0.5-27h0m0 16h0m0 1.5h0m0 4h0m0 1h0m0 1h0m0 1h0m0 0.5h0m0 0.5h0m0 3.5h0m0.5-8.5h0m0 2h0m0 0.5h0m0 1.5h0m0 1h0m0.5-4h0m0 4.5h0m0 1h0m0.5-19.5h0m0 4.5h0m0 4.5h0m0 1.5h0m0 4h0m0 1.5h0m0 3.5h0m0.5-22h0m0 13.5h0m0 1h0m0 2h0m0 0.5h0m0 2h0m0.5-23h0m0 3h0m0 2.5h0m0 14.5h0m0 0.5h0m0 2h0m0 0.5h0m0 1h0m0 0.5h0m0.5-21h0m0 0.5h0m0 7.5h0m0 6h0m0 0.5h0m0 1.5h0m0 1h0m0 0.5h0m0 1h0m0 2.5h0m0 0.5h0m0 0.5h0m0.5-22.5h0m0 4h0m0 9h0m0 2h0m0 1.5h0m0 2h0m0 2h0m0.5-16.5h0m0 0.5h0m0 3.5h0m0 6h0m0 2.5h0m0 0.5h0m0 2h0m0 0.5h0m0 1h0m0.5-21h0m0 2.5h0m0 4h0m0 4.5h0m0 1h0m0 3h0m0 1h0m0 6h0m0.5-15.5h0m0 9h0m0 2.5h0m0 0.5h0m0 0.5h0m0 2.5h0m0.5-9.5h0m0 4h0m0 0.5h0m0 4h0m0.5-25.5h0m0 4.5h0m0 16.5h0m0 1h0m0 2h0m0 0.5h0m0.5-22h0m0 17.5h0m0 1h0m0 1.5h0m0 0.5h0m0 1h0m0 0.5h0m0 1.5h0m0 0.5h0m0.5-12h0m0 5.5h0m0 3h0m0 0.5h0m0 1h0m0 0.5h0m0 0.5h0m0 0.5h0m0 0.5h0m0 1h0m0.5-17h0m0 3.5h0m0 6h0m0 2h0m0 1h0m0 2.5h0m0.5-15.5h0m0 8h0m0 1.5h0m0 0.5h0m0 1h0m0 1.5h0m0 2.5h0m0 1h0m0.5-20.5h0m0 11h0m0 1.5h0m0 4.5h0m0 0.5h0m0 2h0m0 0.5h0m0.5-13.5h0m0 7h0m0 1.5h0m0 2h0m0 0.5h0m0 1h0m0.5-21h0m0 8.5h0m0 8.5h0m0 1.5h0m0 1h0m0 2.5h0m0.5-25.5h0m0 19h0m0 2.5h0m0 1.5h0m0 2h0m0.5-5h0m0 2h0m0 1h0m0 0.5h0m0 0.5h0m0 1h0m0.5-23.5h0m0 15.5h0m0 2h0m0 3.5h0m0 1h0m0.5-6.5h0m0 3h0m0 0.5h0m0 2h0m0 2h0m0 1h0m0.5-15h0m0 7.5h0m0 4h0m0 1.5h0m0 2.5h0m0.5-22.5h0m0 4h0m0 11.5h0m0 2.5h0m0 2.5h0m0.5-22h0m0 4h0m0 12h0m0 2.5h0m0 0.5h0m0 1.5h0m0 1.5h0m0.5-12.5h0m0 10.5h0m0 2h0m0 0.5h0m0.5-10h0m0 1h0m0 2.5h0m0 0.5h0m0 1.5h0m0 1.5h0m0 1h0m0.5-9h0m0 4h0m0 1h0m0 2h0m0 1.5h0m0.5-4.5h0m0 2.5h0m0 2h0m0 0.5h0m0 1.5h0m0.5-8.5h0m0 3h0m0.5-5.5h0m0 2.5h0m0 1.5h0m0 1.5h0m0 0.5h0m0 2.5h0m0 0.5h0m0.5-8.5h0m0 3h0m0 1.5h0m0 2.5h0m0 1h0m0 0.5h0m0.5-15h0m0 2.5h0m0 2.5h0m0 4h0m0 2.5h0m0 3h0m0 1h0m0 0.5h0m0 1h0m0.5-14h0m0 5.5h0m0 1.5h0m0 1.5h0m0 1h0m0 3h0m0.5-4.5h0m0 0.5h0m0 0.5h0m0.5-14h0m0 12h0m0 3h0m0 1.5h0m0 2h0m0.5-7.5h0m0 1h0m0 2h0m0 0.5h0m0 0.5h0m0 2h0m0 1h0m0.5-22.5h0m0 3.5h0m0 4.5h0m0 0.5h0m0 4.5h0m0 2h0m0 3h0m0 1h0m0 0.5h0m0 1h0m0 2.5h0m0.5-17.5h0m0 0.5h0m0 11.5h0m0 1.5h0m0 0.5h0m0 1.5h0m0 0.5h0m0.5-16h0m0 12h0m0 5h0m0 2.5h0m0.5-25h0m0 16h0m0 1.5h0m0 1.5h0m0 1.5h0m0 2.5h0m0.5-10.5h0m0 4h0m0 2.5h0m0 1.5h0m0 1.5h0m0 1.5h0m0.5-9h0m0 0.5h0m0 2h0m0 1.5h0m0 0.5h0m0 0.5h0m0 3.5h0m0.5-15.5h0m0 4h0m0 2.5h0m0 0.5h0m0 0.5h0m0 0.5h0m0 1h0m0 1h0m0 0.5h0m0 3h0m0.5-21h0m0 14.5h0m0 2.5h0m0 1h0m0 0.5h0m0 0.5h0m0 1h0m0.5-16.5h0m0 9h0m0 1.5h0m0 1h0m0 0.5h0m0 0.5h0m0 1h0m0 1.5h0m0 0.5h0m0 2.5h0m0.5-7.5h0m0 1h0m0 2h0m0 0.5h0m0 0.5h0m0 0.5h0m0 1h0m0 0.5h0m0 1h0m0.5-6.5h0m0 1h0m0 1.5h0m0 0.5h0m0 1.5h0m0 1h0m0.5-7h0m0 3.5h0m0 1h0m0 0.5h0m0 1h0m0 1.5h0m0.5-5h0m0 0.5h0m0.5-7h0m0 6.5h0m0 1.5h0m0 1h0m0 1h0m0 1.5h0m0.5-7.5h0m0 2h0m0 0.5h0m0 0.5h0m0 1h0m0 3.5h0m0.5-18h0m0 3h0m0 3h0m0 9h0m0 3h0m0.5-19h0m0 12.5h0m0 4h0m0 2h0m0.5-13.5h0m0 2.5h0m0 4.5h0m0 0.5h0m0 1.5h0m0 2.5h0m0 0.5h0m0 1h0m0.5-5h0m0 1h0m0 1h0m0 0.5h0m0 2h0m0.5-8h0m0 2.5h0m0 0.5h0m0 1h0m0.5-15h0m0 2.5h0m0 0.5h0m0 10h0m0 3.5h0m0 2h0m0.5-18h0m0 11.5h0m0 2h0m0 1.5h0m0 3.5h0m0.5-15.5h0m0 5.5h0m0 1h0m0 3h0m0 2h0m0 1.5h0m0.5-3h0m0 0.5h0m0 0.5h0m0 2.5h0m0 1h0m0.5-16h0m0 10h0m0 0.5h0m0 4h0m0 0.5h0m0 1h0m0.5-8.5h0m0 1.5h0m0 1.5h0m0 2h0m0 1h0m0 1.5h0m0.5-13h0m0 5h0m0 1h0m0 2h0m0 2h0m0.5-10.5h0m0 1h0m0 4h0m0 1h0m0 1h0m0 1h0m0 0.5h0m0 3.5h0m0.5-8.5h0m0 3.5h0m0 2.5h0m0.5-12.5h0m0 3.5h0m0 0.5h0m0 5h0m0 1h0m0 1.5h0m0 1h0m0.5-6.5h0m0 0.5h0m0 4.5h0m0 2h0m0 1h0m0.5-4h0m0 0.5h0m0 0.5h0m0 1h0m0 0.5h0m0 1h0m0.5-13h0m0 12.5h0m0.5-6.5h0m0 3.5h0m0 1.5h0m0 0.5h0m0 0.5h0m0 0.5h0m0.5-11.5h0m0 7h0m0 3h0m0 1h0m0.5-5.5h0m0 1h0m0 0.5h0m0 1.5h0m0.5-10.5h0m0 0.5h0m0 10h0m0.5-1.5h0m0 3.5h0m0.5-10h0m0 4h0m0 2.5h0m0 1h0m0.5-4.5h0m0 3h0m0 3.5h0m0.5-10.5h0m0 4h0m0 3.5h0m0.5-5h0m0 1.5h0m0 1.5h0m0 1.5h0m0 1h0m0 0.5h0m0.5-5.5h0m0 2.5h0m0 1h0m0 4h0m0.5-9.5h0m0 2h0m0 2.5h0m0 0.5h0m0 1h0m0.5-6.5h0m0 2.5h0m0 1h0m0 2h0m0 0.5h0m0 0.5h0m0.5-1.5h0m0 1h0m0 1.5h0m0 0.5h0m0.5-7h0m0 0.5h0m0 1h0m0 3h0m0 0.5h0m0 0.5h0m0.5-2h0" stroke="#bcbcbc" stroke-width="1.4" stroke-linecap="square" fill="none"/>
<line x1="421.5" y1="258" x2="421.5" y2="324" stroke="#4a6fae" stroke-width="1" stroke-dasharray="1 1"/>
<path d="M422 269h0m0 2h0m0 1.5h0m0 0.5h0m0 0.5h0m0 0.5h0m0 1.5h0m0 0.5h0m0 1.5h0m0 1.5h0m0 1h0m0 1h0m0 0.5h0m0 0.5h0m0 0.5h0m0 1.5h0m0 0.5h0m0 0.5h0m0 0.5h0m0 0.5h0m0 0.5h0m0 2h0m0 0.5h0m0 0.5h0m0 0.5h0m0 0.5h0m0 0.5h0m0 0.5h0m0 0.5h0m0 0.5h0m0 0.5h0m0 1h0m0 1h0m0 0.5h0m0 1h0m0 0.5h0m0 0.5h0m0 0.5h0m0 0.5h0m0 2.5h0m0 0.5h0m0 0.5h0m0 1.5h0m0 0.5h0m0 0.5h0m0 1h0m0 0.5h0m0 2h0m0 1.5h0m0.5-39.5h0m0 1.5h0m0 1h0m0 0.5h0m0 1h0m0 0.5h0m0 1.5h0m0 1h0m0 1h0m0 0.5h0m0 0.5h0m0 0.5h0m0 0.5h0m0 0.5h0m0 0.5h0m0 1h0m0 0.5h0m0 1h0m0 0.5h0m0 0.5h0m0 0.5h0m0 0.5h0m0 0.5h0m0 0.5h0m0 0.5h0m0 0.5h0m0 1h0m0 0.5h0m0 0.5h0m0 0.5h0m0 0.5h0m0 0.5h0m0 3h0m0 1.5h0m0 2h0m0 1h0m0 0.5h0m0 1h0m0 4h0m0 0.5h0m0 0.5h0m0 0.5h0m0 1.5h0m0.5-36.5h0m0 0.5h0m0 0.5h0m0 1h0m0 0.5h0m0 0.5h0m0 0.5h0m0 1h0m0 1h0m0 1h0m0 0.5h0m0 0.5h0m0 0.5h0m0 1h0m0 0.5h0m0 0.5h0m0 0.5h0m0 0.5h0m0 0.5h0m0 0.5h0m0 0.5h0m0 0.5h0m0 0.5h0m0 1.5h0m0 0.5h0m0 1h0m0 0.5h0m0 0.5h0m0 0.5h0m0 2.5h0m0 0.5h0m0 0.5h0m0 0.5h0m0 0.5h0m0 0.5h0m0 1.5h0m0 0.5h0m0 0.5h0m0 1h0m0 0.5h0m0 0.5h0m0 0.5h0m0 0.5h0m0 0.5h0m0 0.5h0m0 1h0m0 1h0m0 0.5h0m0 1h0m0 0.5h0m0 0.5h0m0 0.5h0m0.5-34.5h0m0 0.5h0m0 0.5h0m0 0.5h0m0 0.5h0m0 2h0m0 0.5h0m0 0.5h0m0 0.5h0m0 3h0m0 1.5h0m0 0.5h0m0 1h0m0 1h0m0 0.5h0m0 0.5h0m0 0.5h0m0 1.5h0m0 1h0m0 0.5h0m0 1h0m0 0.5h0m0 0.5h0m0 1.5h0m0 0.5h0m0 0.5h0m0 1.5h0m0 0.5h0m0 0.5h0m0 1h0m0 0.5h0m0 2h0m0 0.5h0m0 0.5h0m0 0.5h0m0 0.5h0m0 0.5h0m0 4h0m0 1h0m0.5-36h0m0 1.5h0m0 1h0m0 1h0m0 0.5h0m0 0.5h0m0 0.5h0m0 1.5h0m0 1h0m0 1h0m0 0.5h0m0 1h0m0 1h0m0 0.5h0m0 0.5h0m0 1h0m0 1h0m0 0.5h0m0 0.5h0m0 1h0m0 0.5h0m0 0.5h0m0 0.5h0m0 1h0m0 0.5h0m0 0.5h0m0 0.5h0m0 0.5h0m0 1h0m0 1h0m0 0.5h0m0 0.5h0m0 0.5h0m0 0.5h0m0 1.5h0m0 0.5h0m0 1h0m0 1h0m0 0.5h0m0 0.5h0m0 0.5h0m0 0.5h0m0.5-35.5h0m0 5.5h0m0 2h0m0 0.5h0m0 2h0m0 0.5h0m0 0.5h0m0 1h0m0 1h0m0 0.5h0m0 1.5h0m0 0.5h0m0 0.5h0m0 0.5h0m0 3h0m0 2h0m0 1h0m0 0.5h0m0 0.5h0m0 0.5h0m0 1h0m0 1.5h0m0 0.5h0m0 0.5h0m0 1h0m0 0.5h0m0 1h0m0 0.5h0m0 0.5h0m0 2.5h0m0.5-36h0m0 6.5h0m0 3h0m0 1h0m0 0.5h0m0 1h0m0 0.5h0m0 1.5h0m0 0.5h0m0 3h0m0 0.5h0m0 0.5h0m0 0.5h0m0 0.5h0m0 0.5h0m0 2h0m0 0.5h0m0 2h0m0 0.5h0m0 0.5h0m0 0.5h0m0 0.5h0m0 0.5h0m0 0.5h0m0 1h0m0 1h0m0 0.5h0m0 1h0m0 2.5h0m0.5-23h0m0 1h0m0 0.5h0m0 0.5h0m0 0.5h0m0 0.5h0m0 0.5h0m0 0.5h0m0 0.5h0m0 0.5h0m0 0.5h0m0 0.5h0m0 0.5h0m0 1h0m0 1.5h0m0 0.5h0m0 0.5h0m0 0.5h0m0 0.5h0m0 1h0m0 1.5h0m0 1.5h0m0 0.5h0m0 0.5h0m0 0.5h0m0.5-18h0m0 2h0m0 1h0m0 0.5h0m0 1h0m0 1.5h0m0 2h0m0 1h0m0 0.5h0m0 1h0m0 0.5h0m0 1.5h0m0 1.5h0m0 1.5h0m0 1h0m0 1h0m0.5-24.5h0m0 5.5h0m0 0.5h0m0 0.5h0m0 0.5h0m0 0.5h0m0 2.5h0m0 0.5h0m0 1h0m0 1.5h0m0 1h0m0 0.5h0m0 0.5h0m0 0.5h0m0 0.5h0m0 1h0m0 0.5h0m0 0.5h0m0 1h0m0 1h0m0 0.5h0m0 1.5h0m0 1h0m0.5-17.5h0m0 1h0m0 1h0m0 1.5h0m0 1h0m0 1h0m0 0.5h0m0 0.5h0m0 1h0m0 0.5h0m0 1h0m0 1.5h0m0 1.5h0m0 1h0m0 0.5h0m0 0.5h0m0 0.5h0m0 1h0m0 0.5h0m0.5-14.5h0m0 1h0m0 0.5h0m0 2.5h0m0 2h0m0 1.5h0m0 0.5h0m0 3h0m0 0.5h0m0 1h0m0 1.5h0m0 0.5h0m0.5-16h0m0 2.5h0m0 0.5h0m0 2.5h0m0 0.5h0m0 2.5h0m0 0.5h0m0 1h0m0 0.5h0m0 0.5h0m0 2.5h0m0 0.5h0m0.5-13h0m0 2h0m0 1h0m0 2h0m0 0.5h0m0 1.5h0m0 0.5h0m0 0.5h0m0 1h0m0 0.5h0m0 1h0m0 0.5h0m0 2.5h0m0.5-12.5h0m0 0.5h0m0 0.5h0m0 0.5h0m0 0.5h0m0 1h0m0 0.5h0m0 0.5h0m0 0.5h0m0 0.5h0m0 1.5h0m0 0.5h0m0 3h0m0.5-10h0m0 0.5h0m0 0.5h0m0 1h0m0 1h0m0 0.5h0m0 1.5h0m0 0.5h0m0 1h0m0 0.5h0m0 1.5h0m0.5-8h0m0 0.5h0m0 1.5h0m0 0.5h0m0 0.5h0m0 1h0m0 0.5h0m0 0.5h0m0 0.5h0m0 0.5h0m0 0.5h0m0.5-6h0m0 1h0m0 0.5h0m0 1h0m0 0.5h0m0 0.5h0m0 0.5h0m0 0.5h0m0 0.5h0m0.5-10.5h0m0 4.5h0m0 0.5h0m0 0.5h0m0 0.5h0m0 0.5h0m0 0.5h0m0 1.5h0m0 0.5h0m0 1h0m0.5-5h0m0 2.5h0m0 0.5h0m0.5-6h0m0 3h0m0 0.5h0m0 0.5h0m0 0.5h0m0 1h0m0 0.5h0m0 0.5h0m0 0.5h0m0.5-7h0m0 3.5h0m0 0.5h0m0 0.5h0m0 0.5h0m0 0.5h0m0 0.5h0m0 0.5h0m0.5-2.5h0m0 2h0m0 1h0m0.5-4.5h0m0 1.5h0m0 1h0m0 0.5h0m0 0.5h0m0 0.5h0m0.5-1.5h0m0 0.5h0m0 0.5h0m0.5-6h0m0 4h0m0 0.5h0m0 0.5h0m0 1h0m0 0.5h0m0.5-1.5h0m1-5h0m1.5-0.5h0m2 4h0m5.5-0.5h0" stroke="#0d0d0d" stroke-width="1.4" stroke-linecap="square" fill="none"/>
<line x1="420" y1="295.5" x2="500" y2="295.5" stroke="#5db55a" stroke-width="1" stroke-dasharray="1 1"/>
<text x="483.40000000000003" y="303.79999999999995" font-size="9.1" fill="#4fa54b" text-anchor="start" font-weight="normal" stroke="#4fa54b" stroke-width="0.12" textLength="15.0" lengthAdjust="spacingAndGlyphs">209</text>
<text x="424.09999999999997" y="322.2" font-size="8.6" fill="#46709f" text-anchor="start" font-weight="normal" stroke="#46709f" stroke-width="0.12">1.35</text>
<text x="504.8" y="322.2" font-size="9.0" fill="#2b2b2b" text-anchor="end" font-weight="normal" stroke="#2b2b2b" stroke-width="0.12">n = 28&#8201;657</text>
<line x1="420.5" y1="243.0" x2="420.5" y2="324.7" stroke="#1a1a1a" stroke-width="1"/>
<line x1="420.0" y1="324.5" x2="509.54" y2="324.5" stroke="#1a1a1a" stroke-width="1"/>
<line x1="416.9" y1="324.5" x2="420.5" y2="324.5" stroke="#1a1a1a" stroke-width="1.15"/>
<line x1="416.9" y1="316.5" x2="420.5" y2="316.5" stroke="#1a1a1a" stroke-width="1.15"/>
<line x1="416.9" y1="308.5" x2="420.5" y2="308.5" stroke="#1a1a1a" stroke-width="1.15"/>
<line x1="416.9" y1="300.5" x2="420.5" y2="300.5" stroke="#1a1a1a" stroke-width="1.15"/>
<line x1="416.9" y1="292.5" x2="420.5" y2="292.5" stroke="#1a1a1a" stroke-width="1.15"/>
<line x1="416.9" y1="284.5" x2="420.5" y2="284.5" stroke="#1a1a1a" stroke-width="1.15"/>
<line x1="416.9" y1="277.5" x2="420.5" y2="277.5" stroke="#1a1a1a" stroke-width="1.15"/>
<line x1="416.9" y1="269.5" x2="420.5" y2="269.5" stroke="#1a1a1a" stroke-width="1.15"/>
<line x1="416.9" y1="261.5" x2="420.5" y2="261.5" stroke="#1a1a1a" stroke-width="1.15"/>
<line x1="416.9" y1="253.5" x2="420.5" y2="253.5" stroke="#1a1a1a" stroke-width="1.15"/>
<line x1="416.9" y1="245.5" x2="420.5" y2="245.5" stroke="#1a1a1a" stroke-width="1.15"/>
<line x1="420.5" y1="324.2" x2="420.5" y2="327.2" stroke="#1a1a1a" stroke-width="1"/>
<line x1="424.74" y1="324.2" x2="424.74" y2="325.8" stroke="#1a1a1a" stroke-width="0.8"/>
<line x1="428.98" y1="324.2" x2="428.98" y2="325.8" stroke="#1a1a1a" stroke-width="0.8"/>
<line x1="433.22" y1="324.2" x2="433.22" y2="325.8" stroke="#1a1a1a" stroke-width="0.8"/>
<line x1="437.46" y1="324.2" x2="437.46" y2="325.8" stroke="#1a1a1a" stroke-width="0.8"/>
<line x1="441.5" y1="324.2" x2="441.5" y2="327.2" stroke="#1a1a1a" stroke-width="1"/>
<line x1="445.94" y1="324.2" x2="445.94" y2="325.8" stroke="#1a1a1a" stroke-width="0.8"/>
<line x1="450.18" y1="324.2" x2="450.18" y2="325.8" stroke="#1a1a1a" stroke-width="0.8"/>
<line x1="454.42" y1="324.2" x2="454.42" y2="325.8" stroke="#1a1a1a" stroke-width="0.8"/>
<line x1="458.66" y1="324.2" x2="458.66" y2="325.8" stroke="#1a1a1a" stroke-width="0.8"/>
<line x1="462.5" y1="324.2" x2="462.5" y2="327.2" stroke="#1a1a1a" stroke-width="1"/>
<line x1="467.14" y1="324.2" x2="467.14" y2="325.8" stroke="#1a1a1a" stroke-width="0.8"/>
<line x1="471.38" y1="324.2" x2="471.38" y2="325.8" stroke="#1a1a1a" stroke-width="0.8"/>
<line x1="475.62" y1="324.2" x2="475.62" y2="325.8" stroke="#1a1a1a" stroke-width="0.8"/>
<line x1="479.86" y1="324.2" x2="479.86" y2="325.8" stroke="#1a1a1a" stroke-width="0.8"/>
<line x1="484.5" y1="324.2" x2="484.5" y2="327.2" stroke="#1a1a1a" stroke-width="1"/>
<line x1="488.34000000000003" y1="324.2" x2="488.34000000000003" y2="325.8" stroke="#1a1a1a" stroke-width="0.8"/>
<line x1="492.58" y1="324.2" x2="492.58" y2="325.8" stroke="#1a1a1a" stroke-width="0.8"/>
<line x1="496.82" y1="324.2" x2="496.82" y2="325.8" stroke="#1a1a1a" stroke-width="0.8"/>
<line x1="501.06" y1="324.2" x2="501.06" y2="325.8" stroke="#1a1a1a" stroke-width="0.8"/>
<line x1="505.5" y1="324.2" x2="505.5" y2="327.2" stroke="#1a1a1a" stroke-width="1"/>
<line x1="509.54" y1="324.2" x2="509.54" y2="325.8" stroke="#1a1a1a" stroke-width="0.8"/>
<text x="420.1" y="338.8" font-size="9.8" fill="#46709f" text-anchor="middle" font-weight="normal" stroke="#46709f" stroke-width="0.12" textLength="4.8" lengthAdjust="spacingAndGlyphs">0</text>
<text x="441.3" y="338.8" font-size="9.8" fill="#46709f" text-anchor="middle" font-weight="normal" stroke="#46709f" stroke-width="0.12" textLength="9.6" lengthAdjust="spacingAndGlyphs">20</text>
<text x="462.5" y="338.8" font-size="9.8" fill="#46709f" text-anchor="middle" font-weight="normal" stroke="#46709f" stroke-width="0.12" textLength="9.6" lengthAdjust="spacingAndGlyphs">40</text>
<text x="483.70000000000005" y="338.8" font-size="9.8" fill="#46709f" text-anchor="middle" font-weight="normal" stroke="#46709f" stroke-width="0.12" textLength="9.6" lengthAdjust="spacingAndGlyphs">60</text>
<text x="504.90000000000003" y="338.8" font-size="9.8" fill="#46709f" text-anchor="middle" font-weight="normal" stroke="#46709f" stroke-width="0.12" textLength="9.6" lengthAdjust="spacingAndGlyphs">80</text>
<text x="405.5" y="326.59999999999997" font-size="9" fill="#48a845" stroke="#48a845" stroke-width="0.2" textLength="3.6" lengthAdjust="spacingAndGlyphs">2</text>
<text x="410.3" y="323.0" font-size="5.8" fill="#6f976f" textLength="2.4" lengthAdjust="spacingAndGlyphs">0</text>
<text x="405.5" y="318.73999999999995" font-size="9" fill="#48a845" stroke="#48a845" stroke-width="0.2" textLength="3.6" lengthAdjust="spacingAndGlyphs">2</text>
<text x="410.3" y="315.14" font-size="5.8" fill="#6f976f" textLength="2.4" lengthAdjust="spacingAndGlyphs">2</text>
<text x="405.5" y="310.88" font-size="9" fill="#48a845" stroke="#48a845" stroke-width="0.2" textLength="3.6" lengthAdjust="spacingAndGlyphs">2</text>
<text x="410.3" y="307.28000000000003" font-size="5.8" fill="#6f976f" textLength="2.4" lengthAdjust="spacingAndGlyphs">4</text>
<text x="405.5" y="303.02" font-size="9" fill="#48a845" stroke="#48a845" stroke-width="0.2" textLength="3.6" lengthAdjust="spacingAndGlyphs">2</text>
<text x="410.3" y="299.42" font-size="5.8" fill="#6f976f" textLength="2.4" lengthAdjust="spacingAndGlyphs">6</text>
<text x="405.5" y="295.15999999999997" font-size="9" fill="#48a845" stroke="#48a845" stroke-width="0.2" textLength="3.6" lengthAdjust="spacingAndGlyphs">2</text>
<text x="410.3" y="291.56" font-size="5.8" fill="#6f976f" textLength="2.4" lengthAdjust="spacingAndGlyphs">8</text>
<text x="401.5" y="287.4" font-size="9" fill="#48a845" stroke="#48a845" stroke-width="0.2">2</text>
<text x="406.9" y="284.0" font-size="6.3" fill="#6f976f" textLength="6.4" lengthAdjust="spacingAndGlyphs">10</text>
<text x="401.5" y="279.53999999999996" font-size="9" fill="#48a845" stroke="#48a845" stroke-width="0.2">2</text>
<text x="406.9" y="276.14" font-size="6.3" fill="#6f976f" textLength="6.4" lengthAdjust="spacingAndGlyphs">12</text>
<text x="401.5" y="271.68" font-size="9" fill="#48a845" stroke="#48a845" stroke-width="0.2">2</text>
<text x="406.9" y="268.28000000000003" font-size="6.3" fill="#6f976f" textLength="6.4" lengthAdjust="spacingAndGlyphs">14</text>
<text x="401.5" y="263.82" font-size="9" fill="#48a845" stroke="#48a845" stroke-width="0.2">2</text>
<text x="406.9" y="260.42" font-size="6.3" fill="#6f976f" textLength="6.4" lengthAdjust="spacingAndGlyphs">16</text>
<text x="401.5" y="255.95999999999998" font-size="9" fill="#48a845" stroke="#48a845" stroke-width="0.2">2</text>
<text x="406.9" y="252.55999999999997" font-size="6.3" fill="#6f976f" textLength="6.4" lengthAdjust="spacingAndGlyphs">18</text>
<text x="401.5" y="248.1" font-size="9" fill="#48a845" stroke="#48a845" stroke-width="0.2">2</text>
<text x="406.9" y="244.7" font-size="6.3" fill="#6f976f" textLength="6.4" lengthAdjust="spacingAndGlyphs">20</text>
<path d="M69.5 375.5h0m0 16h0m0 6.5h0m0 5.5h0m0 9.5h0m0.5-38h0m0 4h0m0 2h0m0 7h0m0 2.5h0m0 7h0m0 3.5h0m0 6.5h0m0 2h0m0.5-25h0m0 2.5h0m0 1h0m0 5h0m0 5.5h0m0 5.5h0m0 6h0m0 3.5h0m0 0.5h0m0.5-37h0m0 15.5h0m0 2h0m0 5h0m0 0.5h0m0 1h0m0.5-23.5h0m0 4.5h0m0 13.5h0m0 12h0m0.5-18.5h0m0 1h0m0 5.5h0m0 0.5h0m0 4h0m0 3h0m0 4.5h0m0 1h0m0 5.5h0m0.5-30.5h0m0 4h0m0 1h0m0 10h0m0 1h0m0 3h0m0 1h0m0 0.5h0m0 10.5h0m0 0.5h0m0.5-23h0m0 2.5h0m0 11h0m0 8.5h0m0 0.5h0m1-39.5h0m0.5 2h0m0.5-4.5h0m0.5 4.5h0m0 0.5h0m0.5-3h0m0.5 3h0m0.5-7.5h0m0.5 3h0m0 4h0m0.5-2h0m1.5-0.5h0m1.5-4h0m1 3h0m2-3.5h0m0 7h0m0.5-9.5h0m2.5 7.5h0m1.5-6.5h0m0 7h0m0.5-7.5h0m0 5h0m0.5 0.5h0m0.5 3.5h0m0.5-6.5h0m2 6.5h0m1-5h0m0.5 3h0m0 3h0m0 1.5h0m0 1h0m0.5-4h0m0 1.5h0m0 0.5h0m0 1.5h0m0 2h0m0 0.5h0m0.5-15.5h0m0 7h0m0 1h0m0 2h0m0 1h0m0 1h0m0 2.5h0m0 1.5h0m0.5-6.5h0m0 1.5h0m0 4.5h0m0 0.5h0m0.5-8h0m0 3.5h0m0 0.5h0m0 1h0m0 1h0m0 0.5h0m0.5-5.5h0m0 6.5h0m0.5-6h0m0 1h0m0 3.5h0m0 1h0m0.5-15h0m0 1h0m0 10.5h0m0 1h0m0 1h0m0 0.5h0m0.5-10h0m0 5.5h0m0 2.5h0m0 0.5h0m0 0.5h0m0 1h0m0 1h0m0.5-5h0m0 1.5h0m0 0.5h0m0 2.5h0m0.5-5h0m0 1h0m0 0.5h0m0 1h0m0 0.5h0m0.5 0h0m0 1h0m0 1.5h0m0 1h0m0.5-6.5h0m0 1h0m0 1h0m0 1.5h0m0 0.5h0m0 1h0m0 0.5h0m0.5-4.5h0m0 0.5h0m0 1h0m0 1h0m0.5-4h0m0 1h0m0 1h0m0 1.5h0m0 1h0m0.5-4h0m0 2.5h0m0 1h0m0 0.5h0m0.5-6h0m0 1.5h0m0 0.5h0m0 1.5h0m0 1h0m0 0.5h0m0 0.5h0m0 0.5h0m0 0.5h0m0.5-9.5h0m0 0.5h0m0 2.5h0m0 1.5h0m0 1.5h0m0 5.5h0m0.5-10.5h0m0 2.5h0m0 2h0m0 1h0m0 1.5h0m0 2h0m0.5-5h0m0 1h0m0 2.5h0m0.5-4h0m0 3.5h0m0 0.5h0m0.5-5.5h0m0 1.5h0m0 0.5h0m0 0.5h0m0 0.5h0m0.5-7.5h0m0 5h0m0 1h0m0 0.5h0m0 1h0m0 0.5h0m0 0.5h0m0 0.5h0m0 1h0m0 1h0m0.5-8.5h0m0 1.5h0m0 1.5h0m0 1h0m0 0.5h0m0 1h0m0 0.5h0m0.5-13h0m0 6h0m0 1.5h0m0 1.5h0m0 2.5h0m0 1h0m0 1h0m0.5-4h0m0 1h0m0 0.5h0m0 1h0m0 0.5h0m0 0.5h0m0.5-5h0m0 5.5h0m0.5-2.5h0m0 0.5h0m0 0.5h0m0 1h0m0.5-11h0m0 8h0m0.5-4.5h0m0 3.5h0m0 1.5h0m0 0.5h0m0 1h0m0 1h0m0 0.5h0m0 1h0m0 1h0m0.5-4h0m0 0.5h0m0.5-6.5h0m0 2h0m0 0.5h0m0 1h0m0 0.5h0m0 0.5h0m0 0.5h0m0 1.5h0m0.5-10h0m0 3h0m0 1.5h0m0 3h0m0 2.5h0m0 1h0m0.5-9h0m0 5h0m0 0.5h0m0 1h0m0 2.5h0m0 1.5h0m0.5-4.5h0m0 0.5h0m0 1h0m0 1.5h0m0 0.5h0m0.5-7h0m0 1.5h0m0 1h0m0 1h0m0 2.5h0m0.5-3.5h0m0 1h0m0 1.5h0m0.5-11h0m0 8h0m0 1.5h0m0 0.5h0m0 0.5h0m0.5-2.5h0m0 1h0m0 2.5h0m0 1.5h0m0.5-4.5h0m0 2h0m0.5-5h0m0 2h0m0 0.5h0m0.5-2.5h0m0 1h0m0 2.5h0m0 1.5h0m0 0.5h0m0.5-5.5h0m0 2h0m0 1.5h0m0 0.5h0m0 1.5h0m0 0.5h0m0.5-3.5h0m0 1h0m0 0.5h0m0 1h0m0 0.5h0m0 1h0m0.5-4h0m0 0.5h0m0 3h0m0.5-5.5h0m0 2.5h0m0 1.5h0m0 1.5h0m0.5-14.5h0m0 7h0m0 4h0m0 1h0m0 1h0m0 1.5h0m0.5-3.5h0m0 0.5h0m0 1h0m0 0.5h0m0 0.5h0m0.5-5.5h0m0 1.5h0m0 2.5h0m0.5-15h0m0 2.5h0m0 10h0m0 2h0m0.5-2h0m0 1h0m0 1h0m0 1h0m0 0.5h0m0.5-4.5h0m0 1h0m0 0.5h0m0 1h0m0 1.5h0m0 0.5h0m0.5-5h0m0 1h0m0 0.5h0m0 3.5h0m0.5-15h0m0 10.5h0m0 0.5h0m0 0.5h0m0 3.5h0m0 0.5h0m0.5-17h0m0 9.5h0m0 3h0m0 2h0m0.5-13.5h0m0 3h0m0 6h0m0 2h0m0 1.5h0m0 2h0m0 1.5h0m0.5-15.5h0m0 8.5h0m0 5.5h0m0 1h0m0.5-4.5h0m0 2.5h0m0.5-11h0m0 6h0m0 1h0m0 5h0m0 0.5h0m0.5-5h0m0 0.5h0m0 4.5h0m0.5-6.5h0m0 1.5h0m0 2.5h0m0 1h0m0.5 0.5h0m0.5-9.5h0m0 3h0m0 2h0m0 4h0m0.5-5.5h0m0 1h0m0 1h0m0 1h0m0 0.5h0m0 0.5h0m0 1h0m0.5-6h0m0 1.5h0m0 3h0m0 0.5h0m0 0.5h0m0 2.5h0m0.5-12.5h0m0 3h0m0 1.5h0m0 2h0m0 0.5h0m0 0.5h0m0.5-13h0m0 11h0m0 1.5h0m0 0.5h0m0 2.5h0m0.5-11h0m0 9.5h0m0 2h0m0.5-14h0m0 8h0m0 3.5h0m0 2h0m0.5-2h0m0 1h0m0 0.5h0m0 1.5h0m0.5-17h0m0 4h0m0 6.5h0m0 1h0m0 2h0m0 0.5h0m0 0.5h0m0.5-5h0m0 1h0m0 4h0m0 1h0m0.5-7.5h0m0 2.5h0m0 2h0m0 4h0m0.5-5h0m0 2.5h0m0.5-9h0m0 4h0m0 4h0m0 1.5h0m0.5-5h0m0 1h0m0 2h0m0 2.5h0m0.5-8h0m0 3.5h0m0.5-12h0m0 13.5h0m0 2h0m0.5-2.5h0m0 1h0m0 2h0m0 0.5h0m0.5-17h0m0 9h0m0 1.5h0m0 2h0m0 2.5h0m0.5-4.5h0m0 3h0m0 2h0m0 1.5h0m0.5-7h0m0 1h0m0 4.5h0m0.5-14h0m0 7.5h0m0 4.5h0m0 0.5h0m0 1.5h0m0.5-3.5h0m0 0.5h0m0 1.5h0m0 0.5h0m0 1h0m0 1h0m0.5-15.5h0m0 8h0m0 0.5h0m0 4.5h0m0.5-9.5h0m0 5h0m0 2h0m0 1.5h0m0 0.5h0m0 1.5h0m0.5-6.5h0m0.5 1h0m0 1.5h0m0 2h0m0 0.5h0m0.5-9.5h0m0 6h0m0 0.5h0m0.5 1.5h0m0 0.5h0m0 1.5h0m0.5-4h0m0 3h0m0.5-5.5h0m0 4.5h0m0 2h0m0 0.5h0m0.5-8.5h0m0 1h0m0 4.5h0m1-5.5h0" stroke="#bcbcbc" stroke-width="1.4" stroke-linecap="square" fill="none"/>
<line x1="80.5" y1="366" x2="80.5" y2="434" stroke="#4a6fae" stroke-width="1" stroke-dasharray="1 1"/>
<path d="M69.5 402h0m0 8h0m0.5-28h0m0 1h0m0 1h0m0 1.5h0m0 1.5h0m0 4.5h0m0 5.5h0m0 1.5h0m0 3h0m0 1.5h0m0 3.5h0m0 0.5h0m0.5-26h0m0 1h0m0 1h0m0 1h0m0 0.5h0m0 2.5h0m0 0.5h0m0 0.5h0m0 0.5h0m0 0.5h0m0 1.5h0m0 1.5h0m0 1h0m0 1.5h0m0 2h0m0 1h0m0 1h0m0 1h0m0 0.5h0m0 4.5h0m0 1h0m0 1h0m0 4h0m0 2.5h0m0 1.5h0m0.5-32.5h0m0 1h0m0 3h0m0 0.5h0m0 1.5h0m0 6h0m0 0.5h0m0 1h0m0 0.5h0m0 1h0m0 1h0m0 1h0m0 16.5h0m0 0.5h0m0.5-35.5h0m0 1h0m0 0.5h0m0 0.5h0m0 1.5h0m0 2.5h0m0 1h0m0 0.5h0m0 1.5h0m0 0.5h0m0 0.5h0m0 1h0m0 0.5h0m0 0.5h0m0 2h0m0 0.5h0m0 0.5h0m0 0.5h0m0 2h0m0 0.5h0m0 0.5h0m0 0.5h0m0 0.5h0m0 1h0m0 0.5h0m0 8h0m0 3.5h0m0 1h0m0.5-31.5h0m0 1.5h0m0 1.5h0m0 1h0m0 2.5h0m0 1h0m0 0.5h0m0 3h0m0 1h0m0 1.5h0m0 1.5h0m0 2h0m0 0.5h0m0.5-19.5h0m0 1.5h0m0 0.5h0m0 1h0m0 1h0m0 2h0m0 1.5h0m0 0.5h0m0 0.5h0m0 1h0m0 1h0m0 1.5h0m0 0.5h0m0 1.5h0m0 3.5h0m0.5-17.5h0m0 3h0m0 0.5h0m0 1.5h0m0 1h0m0 0.5h0m0 1.5h0m0 0.5h0m0 2h0m0 2.5h0m0 3h0m0 0.5h0m0 2.5h0m0.5-18.5h0m0 0.5h0m0 2h0m0 3h0m0 0.5h0m0 1.5h0m0 1h0m0 1h0m0 0.5h0m0 1.5h0m0 0.5h0m0 0.5h0m0 1h0m0 0.5h0m0 0.5h0m0 0.5h0m0 1.5h0m0.5-16.5h0m0 1h0m0 0.5h0m0 1.5h0m0 1h0m0 2.5h0m0 1h0m0 0.5h0m0 1h0m0 1.5h0m0 2h0m0 0.5h0m0.5-13h0m0 2.5h0m0 0.5h0m0 0.5h0m0 1h0m0 2.5h0m0 1.5h0m0 0.5h0m0 2h0m0 1h0m0 0.5h0m0 0.5h0m0 1.5h0m0.5-15.5h0m0 2.5h0m0 1h0m0 1h0m0 1.5h0m0 1h0m0 2h0m0 2h0m0 0.5h0m0 1h0m0 0.5h0m0 2.5h0m0.5-16h0m0 4.5h0m0 1h0m0 0.5h0m0 1h0m0 0.5h0m0 1h0m0 0.5h0m0 1h0m0 1h0m0 0.5h0m0 2h0m0 0.5h0m0 1.5h0m0 0.5h0m0.5-16h0m0 1h0m0 1.5h0m0 0.5h0m0 0.5h0m0 0.5h0m0 3.5h0m0 0.5h0m0 1.5h0m0 1h0m0 2h0m0 0.5h0m0 0.5h0m0.5-20h0m0 8.5h0m0 0.5h0m0 1h0m0 1h0m0 1h0m0 0.5h0m0 2h0m0 1h0m0 0.5h0m0 1h0m0 1h0m0 0.5h0m0 0.5h0m0.5-8.5h0m0 0.5h0m0 0.5h0m0 0.5h0m0 1h0m0 1.5h0m0 0.5h0m0 0.5h0m0 4.5h0m0 0.5h0m0 0.5h0m0 1h0m0.5-15.5h0m0 1.5h0m0 0.5h0m0 1h0m0 0.5h0m0 1h0m0 1h0m0 5.5h0m0 4h0m0.5-14.5h0m0 1h0m0 1h0m0 2h0m0 1h0m0 1h0m0 0.5h0m0 3h0m0 1h0m0 0.5h0m0 0.5h0m0 2h0m0.5-13.5h0m0 4.5h0m0 1h0m0 2h0m0 0.5h0m0 0.5h0m0 2h0m0 1h0m0 0.5h0m0 1h0m0.5-12.5h0m0 0.5h0m0 1h0m0 1.5h0m0 1.5h0m0 1h0m0 0.5h0m0 1.5h0m0 0.5h0m0 0.5h0m0 2h0m0 2.5h0m0.5-12h0m0 0.5h0m0 0.5h0m0 1.5h0m0 0.5h0m0 0.5h0m0 0.5h0m0 2h0m0 0.5h0m0 0.5h0m0 1h0m0.5-22.5h0m0 13h0m0 3h0m0 1h0m0 1.5h0m0 1.5h0m0 1h0m0 0.5h0m0 2h0m0 0.5h0m0.5-10.5h0m0 0.5h0m0 2h0m0 0.5h0m0 1h0m0 1h0m0 0.5h0m0 2h0m0 1h0m0 1.5h0m0 1h0m0.5-12h0m0 0.5h0m0 1h0m0 2h0m0 2h0m0 0.5h0m0 0.5h0m0 1h0m0 1.5h0m0 1h0m0.5-10h0m0 1h0m0 0.5h0m0 1h0m0 1.5h0m0 0.5h0m0 1h0m0 1.5h0m0 0.5h0m0 1h0m0 0.5h0m0 1h0m0 1.5h0m0.5-11.5h0m0 1h0m0 0.5h0m0 0.5h0m0 1h0m0 2.5h0m0 0.5h0m0 0.5h0m0 1.5h0m0 0.5h0m0 1.5h0m0 0.5h0m0.5-14.5h0m0 4.5h0m0 1.5h0m0 1h0m0 4.5h0m0 0.5h0m0 1.5h0m0 0.5h0m0.5-8.5h0m0 2h0m0 1h0m0 0.5h0m0 1h0m0 2.5h0m0 0.5h0m0 1h0m0.5-21h0m0 9h0m0 2.5h0m0 1h0m0 0.5h0m0 0.5h0m0 0.5h0m0 0.5h0m0 2.5h0m0 0.5h0m0 2h0m0.5-8h0m0 1.5h0m0 0.5h0m0 0.5h0m0 1h0m0 1h0m0 1h0m0 0.5h0m0 1h0m0.5-8h0m0 1.5h0m0 0.5h0m0 2h0m0 0.5h0m0 0.5h0m0 1.5h0m0 1h0m0 0.5h0m0 0.5h0m0 0.5h0m0 0.5h0m0.5-16.5h0m0 1h0m0 8.5h0m0 0.5h0m0 0.5h0m0 1h0m0 0.5h0m0 1h0m0 0.5h0m0 1h0m0 0.5h0m0.5-10.5h0m0 3h0m0 1.5h0m0 1h0m0 0.5h0m0 0.5h0m0 0.5h0m0 1h0m0 1.5h0m0 1.5h0m0 0.5h0m0.5-12.5h0m0 2.5h0m0 1h0m0 1h0m0 1h0m0 0.5h0m0 1h0m0 0.5h0m0 1.5h0m0 1h0m0 0.5h0m0 1h0m0 0.5h0m0.5-6.5h0m0 1.5h0m0 0.5h0m0 0.5h0m0 0.5h0m0 1h0m0 0.5h0m0 1.5h0m0.5-8h0m0 3h0m0 1h0m0 2h0m0 0.5h0m0 1.5h0m0.5-7.5h0m0 2h0m0 1.5h0m0 0.5h0m0 1h0m0 1h0m0 0.5h0m0 0.5h0m0 0.5h0m0.5-8h0m0 2h0m0 1h0m0 1h0m0 1.5h0m0 1h0m0.5-6h0m0 1.5h0m0 1h0m0 0.5h0m0 0.5h0m0 0.5h0m0 1h0m0 0.5h0m0 0.5h0m0.5-15.5h0m0 9.5h0m0 0.5h0m0 2.5h0m0 0.5h0m0 2.5h0m0.5-5h0m0 0.5h0m0 0.5h0m0 2h0m0 0.5h0m0 0.5h0m0 1.5h0m0.5-3.5h0m0 0.5h0m0 0.5h0m0 0.5h0m0 1.5h0m0.5-6.5h0m0 3.5h0m0 1h0m0 1.5h0m0.5-4h0m0 0.5h0m0 0.5h0m0 1h0m0 0.5h0m0 0.5h0m0.5-6h0m0 2h0m0 0.5h0m0 2h0m0 1.5h0m0.5-4h0m0 0.5h0m0 0.5h0m0 0.5h0m0 0.5h0m0 2.5h0m0.5-4h0m0 1h0m0 0.5h0m0 2h0m0.5-4h0m0 1h0m0 0.5h0m0 1.5h0m0.5-4h0m0 1h0m0 2h0m0 1.5h0m0.5-4.5h0m0 2h0m0 2h0m0.5-2.5h0m0 1.5h0m0 0.5h0m0.5-4h0m0 2h0m0 1.5h0m0.5-3.5h0m0 1.5h0m0 0.5h0m0 0.5h0m0 1h0m0.5-2.5h0m0 0.5h0m0 2h0m0.5-3h0m0 1.5h0m0 1.5h0m0.5-3.5h0m0 1.5h0m0 1h0m0.5-14.5h0m0 5.5h0m2 1.5h0m6.5-4.5h0" stroke="#0d0d0d" stroke-width="1.4" stroke-linecap="square" fill="none"/>
<line x1="68" y1="382.5" x2="148" y2="382.5" stroke="#5db55a" stroke-width="1" stroke-dasharray="1 1"/>
<text x="128.4" y="391.4" font-size="9.1" fill="#4fa54b" text-anchor="start" font-weight="normal" stroke="#4fa54b" stroke-width="0.12" textLength="20.0" lengthAdjust="spacingAndGlyphs">8630</text>
<text x="82.8" y="432.3" font-size="8.6" fill="#46709f" text-anchor="start" font-weight="normal" stroke="#46709f" stroke-width="0.12">15.4</text>
<text x="151.89999999999998" y="432.3" font-size="9.0" fill="#2b2b2b" text-anchor="end" font-weight="normal" stroke="#2b2b2b" stroke-width="0.12">n = 738</text>
<line x1="68.5" y1="352.9" x2="68.5" y2="434.8" stroke="#1a1a1a" stroke-width="1"/>
<line x1="67.8" y1="434.5" x2="156.365" y2="434.5" stroke="#1a1a1a" stroke-width="1"/>
<line x1="64.7" y1="434.5" x2="68.3" y2="434.5" stroke="#1a1a1a" stroke-width="1.15"/>
<line x1="64.7" y1="426.5" x2="68.3" y2="426.5" stroke="#1a1a1a" stroke-width="1.15"/>
<line x1="64.7" y1="418.5" x2="68.3" y2="418.5" stroke="#1a1a1a" stroke-width="1.15"/>
<line x1="64.7" y1="410.5" x2="68.3" y2="410.5" stroke="#1a1a1a" stroke-width="1.15"/>
<line x1="64.7" y1="402.5" x2="68.3" y2="402.5" stroke="#1a1a1a" stroke-width="1.15"/>
<line x1="64.7" y1="394.5" x2="68.3" y2="394.5" stroke="#1a1a1a" stroke-width="1.15"/>
<line x1="64.7" y1="387.5" x2="68.3" y2="387.5" stroke="#1a1a1a" stroke-width="1.15"/>
<line x1="64.7" y1="379.5" x2="68.3" y2="379.5" stroke="#1a1a1a" stroke-width="1.15"/>
<line x1="64.7" y1="371.5" x2="68.3" y2="371.5" stroke="#1a1a1a" stroke-width="1.15"/>
<line x1="64.7" y1="363.5" x2="68.3" y2="363.5" stroke="#1a1a1a" stroke-width="1.15"/>
<line x1="64.7" y1="355.5" x2="68.3" y2="355.5" stroke="#1a1a1a" stroke-width="1.15"/>
<line x1="68.5" y1="434.3" x2="68.5" y2="437.3" stroke="#1a1a1a" stroke-width="1"/>
<line x1="71.72" y1="434.3" x2="71.72" y2="435.90000000000003" stroke="#1a1a1a" stroke-width="0.8"/>
<line x1="75.14" y1="434.3" x2="75.14" y2="435.90000000000003" stroke="#1a1a1a" stroke-width="0.8"/>
<line x1="78.56" y1="434.3" x2="78.56" y2="435.90000000000003" stroke="#1a1a1a" stroke-width="0.8"/>
<line x1="81.97999999999999" y1="434.3" x2="81.97999999999999" y2="435.90000000000003" stroke="#1a1a1a" stroke-width="0.8"/>
<line x1="85.5" y1="434.3" x2="85.5" y2="437.3" stroke="#1a1a1a" stroke-width="1"/>
<line x1="88.82" y1="434.3" x2="88.82" y2="435.90000000000003" stroke="#1a1a1a" stroke-width="0.8"/>
<line x1="92.24" y1="434.3" x2="92.24" y2="435.90000000000003" stroke="#1a1a1a" stroke-width="0.8"/>
<line x1="95.66" y1="434.3" x2="95.66" y2="435.90000000000003" stroke="#1a1a1a" stroke-width="0.8"/>
<line x1="99.08" y1="434.3" x2="99.08" y2="435.90000000000003" stroke="#1a1a1a" stroke-width="0.8"/>
<line x1="102.5" y1="434.3" x2="102.5" y2="437.3" stroke="#1a1a1a" stroke-width="1"/>
<line x1="105.91999999999999" y1="434.3" x2="105.91999999999999" y2="435.90000000000003" stroke="#1a1a1a" stroke-width="0.8"/>
<line x1="109.34" y1="434.3" x2="109.34" y2="435.90000000000003" stroke="#1a1a1a" stroke-width="0.8"/>
<line x1="112.75999999999999" y1="434.3" x2="112.75999999999999" y2="435.90000000000003" stroke="#1a1a1a" stroke-width="0.8"/>
<line x1="116.17999999999999" y1="434.3" x2="116.17999999999999" y2="435.90000000000003" stroke="#1a1a1a" stroke-width="0.8"/>
<line x1="119.5" y1="434.3" x2="119.5" y2="437.3" stroke="#1a1a1a" stroke-width="1"/>
<line x1="123.02" y1="434.3" x2="123.02" y2="435.90000000000003" stroke="#1a1a1a" stroke-width="0.8"/>
<line x1="126.44" y1="434.3" x2="126.44" y2="435.90000000000003" stroke="#1a1a1a" stroke-width="0.8"/>
<line x1="129.86" y1="434.3" x2="129.86" y2="435.90000000000003" stroke="#1a1a1a" stroke-width="0.8"/>
<line x1="133.28" y1="434.3" x2="133.28" y2="435.90000000000003" stroke="#1a1a1a" stroke-width="0.8"/>
<line x1="136.5" y1="434.3" x2="136.5" y2="437.3" stroke="#1a1a1a" stroke-width="1"/>
<line x1="140.12" y1="434.3" x2="140.12" y2="435.90000000000003" stroke="#1a1a1a" stroke-width="0.8"/>
<line x1="143.54" y1="434.3" x2="143.54" y2="435.90000000000003" stroke="#1a1a1a" stroke-width="0.8"/>
<line x1="146.95999999999998" y1="434.3" x2="146.95999999999998" y2="435.90000000000003" stroke="#1a1a1a" stroke-width="0.8"/>
<line x1="150.38" y1="434.3" x2="150.38" y2="435.90000000000003" stroke="#1a1a1a" stroke-width="0.8"/>
<line x1="153.5" y1="434.3" x2="153.5" y2="437.3" stroke="#1a1a1a" stroke-width="1"/>
<text x="67.89999999999999" y="448.90000000000003" font-size="9.8" fill="#46709f" text-anchor="middle" font-weight="normal" stroke="#46709f" stroke-width="0.12" textLength="4.8" lengthAdjust="spacingAndGlyphs">0</text>
<text x="85.0" y="448.90000000000003" font-size="9.8" fill="#46709f" text-anchor="middle" font-weight="normal" stroke="#46709f" stroke-width="0.12" textLength="9.6" lengthAdjust="spacingAndGlyphs">20</text>
<text x="102.1" y="448.90000000000003" font-size="9.8" fill="#46709f" text-anchor="middle" font-weight="normal" stroke="#46709f" stroke-width="0.12" textLength="9.6" lengthAdjust="spacingAndGlyphs">40</text>
<text x="119.19999999999999" y="448.90000000000003" font-size="9.8" fill="#46709f" text-anchor="middle" font-weight="normal" stroke="#46709f" stroke-width="0.12" textLength="9.6" lengthAdjust="spacingAndGlyphs">60</text>
<text x="136.29999999999998" y="448.90000000000003" font-size="9.8" fill="#46709f" text-anchor="middle" font-weight="normal" stroke="#46709f" stroke-width="0.12" textLength="9.6" lengthAdjust="spacingAndGlyphs">80</text>
<text x="153.4" y="448.90000000000003" font-size="9.8" fill="#46709f" text-anchor="middle" font-weight="normal" stroke="#46709f" stroke-width="0.12" textLength="14.399999999999999" lengthAdjust="spacingAndGlyphs">100</text>
<text x="53.3" y="436.7" font-size="9" fill="#48a845" stroke="#48a845" stroke-width="0.2" textLength="3.6" lengthAdjust="spacingAndGlyphs">2</text>
<text x="58.099999999999994" y="433.1" font-size="5.8" fill="#6f976f" textLength="2.4" lengthAdjust="spacingAndGlyphs">0</text>
<text x="53.3" y="428.82" font-size="9" fill="#48a845" stroke="#48a845" stroke-width="0.2" textLength="3.6" lengthAdjust="spacingAndGlyphs">2</text>
<text x="58.099999999999994" y="425.22" font-size="5.8" fill="#6f976f" textLength="2.4" lengthAdjust="spacingAndGlyphs">2</text>
<text x="53.3" y="420.94" font-size="9" fill="#48a845" stroke="#48a845" stroke-width="0.2" textLength="3.6" lengthAdjust="spacingAndGlyphs">2</text>
<text x="58.099999999999994" y="417.34000000000003" font-size="5.8" fill="#6f976f" textLength="2.4" lengthAdjust="spacingAndGlyphs">4</text>
<text x="53.3" y="413.06" font-size="9" fill="#48a845" stroke="#48a845" stroke-width="0.2" textLength="3.6" lengthAdjust="spacingAndGlyphs">2</text>
<text x="58.099999999999994" y="409.46000000000004" font-size="5.8" fill="#6f976f" textLength="2.4" lengthAdjust="spacingAndGlyphs">6</text>
<text x="53.3" y="405.18" font-size="9" fill="#48a845" stroke="#48a845" stroke-width="0.2" textLength="3.6" lengthAdjust="spacingAndGlyphs">2</text>
<text x="58.099999999999994" y="401.58000000000004" font-size="5.8" fill="#6f976f" textLength="2.4" lengthAdjust="spacingAndGlyphs">8</text>
<text x="49.3" y="397.4" font-size="9" fill="#48a845" stroke="#48a845" stroke-width="0.2">2</text>
<text x="54.699999999999996" y="394.0" font-size="6.3" fill="#6f976f" textLength="6.4" lengthAdjust="spacingAndGlyphs">10</text>
<text x="49.3" y="389.52" font-size="9" fill="#48a845" stroke="#48a845" stroke-width="0.2">2</text>
<text x="54.699999999999996" y="386.12" font-size="6.3" fill="#6f976f" textLength="6.4" lengthAdjust="spacingAndGlyphs">12</text>
<text x="49.3" y="381.64" font-size="9" fill="#48a845" stroke="#48a845" stroke-width="0.2">2</text>
<text x="54.699999999999996" y="378.24" font-size="6.3" fill="#6f976f" textLength="6.4" lengthAdjust="spacingAndGlyphs">14</text>
<text x="49.3" y="373.76" font-size="9" fill="#48a845" stroke="#48a845" stroke-width="0.2">2</text>
<text x="54.699999999999996" y="370.36" font-size="6.3" fill="#6f976f" textLength="6.4" lengthAdjust="spacingAndGlyphs">16</text>
<text x="49.3" y="365.88" font-size="9" fill="#48a845" stroke="#48a845" stroke-width="0.2">2</text>
<text x="54.699999999999996" y="362.48" font-size="6.3" fill="#6f976f" textLength="6.4" lengthAdjust="spacingAndGlyphs">18</text>
<text x="49.3" y="358.0" font-size="9" fill="#48a845" stroke="#48a845" stroke-width="0.2">2</text>
<text x="54.699999999999996" y="354.6" font-size="6.3" fill="#6f976f" textLength="6.4" lengthAdjust="spacingAndGlyphs">20</text>
<path d="M185.5 376.5h0m0 6h0m0 14h0m0 1.5h0m0 1h0m0 2h0m0 4h0m0 2.5h0m0.5-29.5h0m0 3h0m0 3.5h0m0 12h0m0 3.5h0m0 1.5h0m0 1h0m0 1h0m0 7.5h0m0 0.5h0m0 4.5h0m0.5-30h0m0 0.5h0m0 0.5h0m0 25h0m0 0.5h0m0.5-41h0m0 6h0m0 5.5h0m0 7h0m0 11h0m0 1.5h0m0 1h0m0 4h0m0 0.5h0m0 2h0m0 2h0m0.5-37.5h0m0 6h0m0 0.5h0m0 1h0m0 18h0m0 5h0m0 1h0m0.5-34h0m0 1h0m0 13.5h0m0 9.5h0m0 5.5h0m0 7.5h0m0 7.5h0m3-41h0m1.5 4h0m1.5-7.5h0m0.5 3h0m0.5 1.5h0m0.5-2.5h0m0 2h0m1 4.5h0m0.5-3.5h0m0.5-2.5h0m0 4.5h0m0.5 2h0m0.5-5.5h0m2 0.5h0m0.5 1h0m1 2h0m3-6.5h0m0 4.5h0m0 6.5h0m0 1h0m0 0.5h0m0 1.5h0m0 0.5h0m0.5-16h0m0 7.5h0m0 0.5h0m0 6h0m0 2h0m0 0.5h0m0 1.5h0m0.5-6h0m0 2h0m0.5-5.5h0m0 2h0m0 2h0m0 0.5h0m0 2.5h0m0 2.5h0m0.5-9h0m0 1h0m0 2.5h0m0.5-4.5h0m0 1h0m0 1.5h0m0 3h0m0.5-9.5h0m0 3.5h0m0 0.5h0m0 0.5h0m0 1h0m0 1.5h0m0 4.5h0m0 0.5h0m0 1.5h0m0.5-12.5h0m0 5h0m0 0.5h0m0 1h0m0 2h0m0 1h0m0 0.5h0m0 1h0m0 0.5h0m0.5-8.5h0m0 1h0m0 1.5h0m0 4h0m0.5-8h0m0 1.5h0m0 2h0m0 0.5h0m0.5-3.5h0m0 1h0m0 2h0m0 1h0m0 1h0m0.5-7.5h0m0 5h0m0 1.5h0m0 0.5h0m0 3.5h0m0.5-10h0m0 1.5h0m0 2.5h0m0 0.5h0m0 0.5h0m0 0.5h0m0 2.5h0m0 0.5h0m0.5-7.5h0m0 0.5h0m0 1.5h0m0 0.5h0m0 1h0m0 4.5h0m0 1.5h0m0.5-8.5h0m0 0.5h0m0 0.5h0m0 1h0m0 1.5h0m0 0.5h0m0 0.5h0m0 1h0m0.5-5.5h0m0 1h0m0 0.5h0m0 2.5h0m0 0.5h0m0 0.5h0m0.5-8h0m0 3.5h0m0 1h0m0 3.5h0m0 1h0m0.5-9h0m0 0.5h0m0 3.5h0m0 2h0m0 0.5h0m0 1.5h0m0.5-15.5h0m0 2h0m0 6.5h0m0 1h0m0 5h0m0 1h0m0 1.5h0m0.5-10h0m0 1h0m0 1.5h0m0 1h0m0 1.5h0m0 1.5h0m0 1.5h0m0 0.5h0m0.5-7.5h0m0 2.5h0m0 1h0m0 0.5h0m0 1.5h0m0 0.5h0m0 1.5h0m0.5-12h0m0 3h0m0 1h0m0 0.5h0m0 3h0m0 2h0m0 2.5h0m0.5-7h0m0 0.5h0m0 0.5h0m0.5-1h0m0 0.5h0m0 1h0m0 1h0m0 0.5h0m0 0.5h0m0 2.5h0m0.5-14.5h0m0 5.5h0m0 2.5h0m0 4.5h0m0 0.5h0m0 2h0m0.5-8h0m0 0.5h0m0 1h0m0 3.5h0m0 2h0m0.5-8h0m0 3h0m0 0.5h0m0 6h0m0 0.5h0m0.5-18.5h0m0 6.5h0m0 2.5h0m0 2h0m0 2h0m0 1h0m0 0.5h0m0 0.5h0m0.5-14.5h0m0 10.5h0m0 0.5h0m0 0.5h0m0 0.5h0m0 0.5h0m0 1.5h0m0 2h0m0.5-5.5h0m0 2.5h0m0 1h0m0 1.5h0m0.5-8h0m0 1.5h0m0 1h0m0 1h0m0 2h0m0 1h0m0 0.5h0m0 1h0m0.5-13h0m0 8h0m0 1h0m0 0.5h0m0 0.5h0m0 0.5h0m0 3h0m0.5-9h0m0 2.5h0m0 2.5h0m0 1.5h0m0.5-5h0m0 1h0m0 1h0m0 1h0m0 0.5h0m0 3h0m0.5-9.5h0m0 2h0m0 0.5h0m0 3h0m0 0.5h0m0 0.5h0m0 0.5h0m0 0.5h0m0 1h0m0 0.5h0m0.5-5.5h0m0 1h0m0 0.5h0m0 1.5h0m0 1h0m0.5-12.5h0m0 6.5h0m0 3h0m0 2.5h0m0 2h0m0.5-8h0m0 1.5h0m0 1h0m0 1h0m0 0.5h0m0 0.5h0m0 0.5h0m0 3h0m0.5-16.5h0m0 12h0m0 5.5h0m0.5-9h0m0 2.5h0m0 3.5h0m0.5-4.5h0m0 1.5h0m0 3.5h0m0 1.5h0m0 0.5h0m0.5-10h0m0 3.5h0m0 1h0m0 0.5h0m0 6h0m0.5-11.5h0m0 1.5h0m0 4h0m0 2.5h0m0 2h0m0.5-7.5h0m0 0.5h0m0 1.5h0m0 0.5h0m0 4h0m0 1.5h0m0.5-8h0m0 0.5h0m0 1h0m0 1h0m0 1h0m0 1h0m0.5-5.5h0m0 2h0m0 1h0m0 1.5h0m0 2h0m0.5-2.5h0m0 1h0m0.5-8.5h0m0 3.5h0m0 0.5h0m0 1h0m0 2.5h0m0 0.5h0m0 1.5h0m0 0.5h0m0 1h0m0.5-7.5h0m0 1.5h0m0 1.5h0m0 0.5h0m0 2h0m0 1h0m0 0.5h0m0.5-8.5h0m0 2h0m0 0.5h0m0 2.5h0m0 2.5h0m0.5-6.5h0m0 1.5h0m0 0.5h0m0 0.5h0m0 0.5h0m0 1.5h0m0.5-3.5h0m0 1.5h0m0 1.5h0m0 0.5h0m0 1h0m0.5-5h0m0 5.5h0m0 1h0m0.5-7.5h0m0 1.5h0m0 1.5h0m0 0.5h0m0 1.5h0m0 0.5h0m0.5-6.5h0m0 1h0m0 1h0m0 0.5h0m0 0.5h0m0 1h0m0 0.5h0m0 4h0m0.5-5h0m0 0.5h0m0 2h0m0 0.5h0m0 1h0m0.5-1h0m0 1h0m0.5-7h0m0 1h0m0 5h0m0 0.5h0m0.5-4.5h0m0 3.5h0m0 0.5h0m0.5-6h0m0 3h0m0 1h0m0 1.5h0m0 0.5h0m0 0.5h0m0 0.5h0m0.5-12h0m0 7h0m0 0.5h0m0 0.5h0m0 1.5h0m0 0.5h0m0 1h0m0.5-4h0m0 0.5h0m0 1h0m0 1h0m0 2h0m0 0.5h0m0.5-7h0m0 0.5h0m0 3h0m0 0.5h0m0 1.5h0m0 1h0m0.5-8.5h0m0 3h0m0 0.5h0m0 0.5h0m0 1h0m0 2h0m0 0.5h0m0 0.5h0m0 1.5h0m1-9.5h0m0 5h0m0 0.5h0m0.5-12.5h0m0 2h0m0 4.5h0m0 3h0m0 3.5h0m0 2h0m0.5-11.5h0m0 4.5h0m0 2h0m0 1h0m0 2.5h0m0 1h0m0 0.5h0m0.5-14h0m0 6h0m0 2h0m0 0.5h0m0 3h0m0 3h0m0.5-13h0m0 5h0m0 0.5h0m0 2h0m0 0.5h0m0 0.5h0m0 6h0m0.5-15h0m0 5.5h0m0 4h0m0 2.5h0m0.5-13h0m0 7h0m0 1h0m0 0.5h0m0 2h0m0 2h0m0 1h0m0.5-6.5h0m0 0.5h0m0 1.5h0m0 0.5h0m0.5-4h0m0 0.5h0m0 1.5h0m0 1h0m0 0.5h0m0 3h0m0 0.5h0m0.5-8.5h0m0 0.5h0m0 3.5h0m0 0.5h0m0 1h0m0 1.5h0m0.5-12.5h0m0 1h0m0 9.5h0m0 2h0m0.5-5h0m0 4h0m0 0.5h0m0 0.5h0m0 2h0m0.5-8h0m0 3h0m0 2.5h0m0.5-7.5h0m0 4h0m0 1.5h0m0 1.5h0m0 1h0m0.5-11h0m0 4h0m0 1.5h0m0 0.5h0m0 0.5h0m0 2.5h0m0 3h0m0.5-8.5h0m0 0.5h0m0 2.5h0m0 2h0m0.5-1.5h0m0 3h0m0 1h0m0.5-6.5h0m0 2.5h0m0 0.5h0m0 1h0m0.5-11.5h0m0 5.5h0m0 0.5h0m0 1h0m0 2.5h0m0 2h0m0 2.5h0m0.5-4.5h0m0 0.5h0m0 2h0m0 0.5h0m0.5-11h0m0 4.5h0m0 1.5h0m0 3h0m0 1h0m0 3.5h0m0.5-10.5h0m0 2h0m0 1.5h0m0 0.5h0m0 1.5h0m0 0.5h0m0 1h0m0 0.5h0m0 0.5h0m0.5-12h0m0 4h0m0 3h0m0 1h0m0 0.5h0m0 1.5h0m0 1.5h0m0 0.5h0m0.5-9.5h0m0 5.5h0m0 1h0m0 3.5h0m0.5-8.5h0m0 2h0m0 2.5h0m0 1.5h0m0 0.5h0m0.5-7h0m0 3.5h0m0 0.5h0m0 0.5h0m0 1h0m0.5-7.5h0m0.5-5.5h0m0 8.5h0m0 1h0m0 4h0m0 0.5h0m0.5-4.5h0m0 1.5h0m0 0.5h0m0 1.5h0m0 0.5h0m0 1h0m0.5-5.5h0m0 0.5h0m0 1h0m0 1.5h0m0.5-3h0m0 1.5h0m0 1.5h0m0.5-2h0m0 1.5h0m0 2h0m0 3h0m0.5-8h0m0 1h0m0 2.5h0m0 1h0m0.5-6h0m0 1h0m0 0.5h0m0 0.5h0m0 0.5h0m0 0.5h0m0 1h0m0 1.5h0m0 0.5h0m0.5-5.5h0m0 2.5h0m0 0.5h0m0.5-10h0m0 2.5h0m0 4h0m0 0.5h0m0 2.5h0m0 3h0m0 0.5h0m0.5-2.5h0m0.5-2h0m0 1h0m0 1.5h0m0.5-5h0m0 2h0m0 2h0m0 1.5h0m0 0.5h0m0 0.5h0m0.5-4h0m0 0.5h0m0 2.5h0m0.5-5h0m0.5-1h0m0 2h0m0 3h0m0.5-4h0m0 0.5h0m0 2h0m0 1h0m0 0.5h0m0.5-5.5h0m0 4h0" stroke="#bcbcbc" stroke-width="1.4" stroke-linecap="square" fill="none"/>
<line x1="190.5" y1="366" x2="190.5" y2="434" stroke="#4a6fae" stroke-width="1" stroke-dasharray="1 1"/>
<path d="M185.5 405.5h0m0 0.5h0m0 6h0m0.5-30h0m0 1h0m0 1h0m0 2h0m0 2.5h0m0 0.5h0m0 10.5h0m0 1.5h0m0 1h0m0 1h0m0 1h0m0 0.5h0m0 3h0m0 3h0m0.5-35h0m0 1.5h0m0 0.5h0m0 4h0m0 2h0m0 0.5h0m0 1h0m0 0.5h0m0 2h0m0 0.5h0m0 1h0m0 1h0m0 0.5h0m0 0.5h0m0 1h0m0 0.5h0m0 0.5h0m0 0.5h0m0 1h0m0 0.5h0m0 4h0m0 0.5h0m0 1.5h0m0 1h0m0 0.5h0m0 1.5h0m0 1.5h0m0 1h0m0 1h0m0 7h0m0 2h0m0.5-42.5h0m0 1h0m0 0.5h0m0 2h0m0 0.5h0m0 2h0m0 1.5h0m0 1h0m0 2.5h0m0 3h0m0 0.5h0m0 0.5h0m0 0.5h0m0 1.5h0m0 3h0m0 0.5h0m0 1.5h0m0 2h0m0 1h0m0 0.5h0m0 2h0m0 0.5h0m0 0.5h0m0 11h0m0 3h0m0.5-41h0m0 2.5h0m0 2.5h0m0 1h0m0 0.5h0m0 3h0m0 2h0m0 3h0m0 1h0m0 0.5h0m0 2h0m0 1h0m0 0.5h0m0 4h0m0 0.5h0m0 1.5h0m0 3h0m0 7h0m0 1h0m0.5-41.5h0m0 5.5h0m0 1.5h0m0 2.5h0m0 0.5h0m0 1.5h0m0 1.5h0m0 2h0m0 1h0m0 0.5h0m0 1h0m0 3.5h0m0 1h0m0 0.5h0m0 0.5h0m0 1.5h0m0 1h0m0 8h0m0.5-30h0m0 2h0m0 2h0m0 2h0m0 1h0m0 0.5h0m0 1h0m0 0.5h0m0 0.5h0m0 2h0m0 2h0m0 1h0m0 0.5h0m0 0.5h0m0 2h0m0 3h0m0 1h0m0 1.5h0m0 1h0m0 1.5h0m0 1.5h0m0 0.5h0m0 2h0m0.5-22h0m0 1.5h0m0 1h0m0 0.5h0m0 0.5h0m0 1.5h0m0 3h0m0 0.5h0m0 0.5h0m0 0.5h0m0 0.5h0m0 1.5h0m0 0.5h0m0 2.5h0m0 1.5h0m0 2h0m0 0.5h0m0 1h0m0.5-21.5h0m0 0.5h0m0 1h0m0 1.5h0m0 0.5h0m0 0.5h0m0 0.5h0m0 1h0m0 0.5h0m0 0.5h0m0 1h0m0 1h0m0 0.5h0m0 0.5h0m0 0.5h0m0 0.5h0m0 0.5h0m0 1h0m0 1h0m0 1h0m0 0.5h0m0 1.5h0m0 0.5h0m0 4.5h0m0.5-28h0m0 4.5h0m0 0.5h0m0 2h0m0 1.5h0m0 0.5h0m0 1.5h0m0 2h0m0 1h0m0 0.5h0m0 2h0m0 1h0m0 4h0m0 1.5h0m0 1h0m0 2.5h0m0 2.5h0m0.5-25.5h0m0 2h0m0 1h0m0 0.5h0m0 1.5h0m0 2h0m0 0.5h0m0 0.5h0m0 1.5h0m0 0.5h0m0 1h0m0 1h0m0 0.5h0m0 1h0m0 1.5h0m0 0.5h0m0 0.5h0m0 0.5h0m0 1.5h0m0 1.5h0m0 1h0m0 0.5h0m0.5-27h0m0 4h0m0 6.5h0m0 2h0m0 4.5h0m0 3.5h0m0 0.5h0m0 0.5h0m0 1h0m0 1h0m0 0.5h0m0 0.5h0m0 3.5h0m0.5-27h0m0 8h0m0 0.5h0m0 1h0m0 0.5h0m0 0.5h0m0 0.5h0m0 1.5h0m0 3h0m0 1h0m0 1.5h0m0 0.5h0m0 1h0m0 1h0m0 1h0m0 0.5h0m0 1.5h0m0 1h0m0 0.5h0m0 0.5h0m0.5-19h0m0 4h0m0 1h0m0 0.5h0m0 0.5h0m0 1.5h0m0 2.5h0m0 1h0m0 0.5h0m0 0.5h0m0 3h0m0 1h0m0.5-14.5h0m0 1h0m0 1h0m0 2.5h0m0 3.5h0m0 0.5h0m0 0.5h0m0 0.5h0m0 0.5h0m0 1h0m0 0.5h0m0 3h0m0 2h0m0 1.5h0m0.5-20.5h0m0 0.5h0m0 0.5h0m0 1h0m0 3h0m0 1.5h0m0 1h0m0 0.5h0m0 1h0m0 0.5h0m0 0.5h0m0 3h0m0 0.5h0m0 0.5h0m0 0.5h0m0 2h0m0 1h0m0.5-24h0m0 8h0m0 1h0m0 3h0m0 2h0m0 1h0m0 0.5h0m0 2h0m0 6h0m0.5-18h0m0 5h0m0 1h0m0 3.5h0m0 1.5h0m0 0.5h0m0 0.5h0m0 2h0m0 0.5h0m0 2.5h0m0 1h0m0.5-15.5h0m0 0.5h0m0 2h0m0 0.5h0m0 0.5h0m0 0.5h0m0 1h0m0 0.5h0m0 2h0m0 1h0m0 0.5h0m0 1.5h0m0 1.5h0m0 1h0m0 2h0m0.5-13h0m0 1.5h0m0 3.5h0m0 1h0m0 4.5h0m0 3h0m0.5-12.5h0m0 1.5h0m0 1h0m0 1h0m0 1h0m0 1h0m0 1.5h0m0 2h0m0 0.5h0m0 2.5h0m0.5-15h0m0 2h0m0 0.5h0m0 0.5h0m0 1h0m0 2.5h0m0 0.5h0m0 1.5h0m0 2.5h0m0 0.5h0m0 0.5h0m0 1h0m0 1h0m0 0.5h0m0 0.5h0m0.5-15h0m0 1.5h0m0 1h0m0 3h0m0 2.5h0m0 1.5h0m0 0.5h0m0 1.5h0m0 1h0m0.5-10.5h0m0 1.5h0m0 1.5h0m0 0.5h0m0 0.5h0m0 0.5h0m0 0.5h0m0 1h0m0 1.5h0m0 0.5h0m0 1.5h0m0 1h0m0 1.5h0m0.5-14.5h0m0 1.5h0m0 2h0m0 0.5h0m0 0.5h0m0 0.5h0m0 1.5h0m0 1h0m0 1h0m0 2h0m0 2.5h0m0.5-12.5h0m0 0.5h0m0 0.5h0m0 1h0m0 1.5h0m0 0.5h0m0 1.5h0m0 1h0m0 0.5h0m0 0.5h0m0 0.5h0m0 0.5h0m0 4h0m0 0.5h0m0.5-16h0m0 3h0m0 1.5h0m0 2.5h0m0 0.5h0m0 0.5h0m0 0.5h0m0 1h0m0 0.5h0m0 1.5h0m0 0.5h0m0 1.5h0m0 2.5h0m0.5-10.5h0m0 0.5h0m0 1h0m0 1h0m0 3h0m0 3h0m0.5-15.5h0m0 1h0m0 5h0m0 0.5h0m0 0.5h0m0 0.5h0m0 2h0m0 0.5h0m0 1h0m0 0.5h0m0 1h0m0 1.5h0m0 1h0m0.5-9h0m0 1h0m0 0.5h0m0 0.5h0m0 2h0m0 2h0m0 0.5h0m0 0.5h0m0 1h0m0 0.5h0m0 0.5h0m0.5-8.5h0m0 0.5h0m0 1.5h0m0 0.5h0m0 1.5h0m0 2h0m0 2h0m0.5-13.5h0m0 5.5h0m0 0.5h0m0 1h0m0 1h0m0 1h0m0 0.5h0m0 0.5h0m0.5-4.5h0m0 1.5h0m0 0.5h0m0 0.5h0m0 1h0m0 0.5h0m0 1.5h0m0 1.5h0m0 0.5h0m0.5-8.5h0m0 1h0m0 1.5h0m0 2h0m0 1.5h0m0 0.5h0m0.5-8h0m0 6h0m0.5-3.5h0m0 1h0m0 1h0m0 0.5h0m0 0.5h0m0 1h0m0 2h0m0 1h0m0.5-5h0m0 1h0m0 0.5h0m0 0.5h0m0 1.5h0m0.5-5h0m0 1.5h0m0 2.5h0m0 1.5h0m0.5-3h0m0 0.5h0m0 1h0m0 0.5h0m0 1h0m0.5-4h0m0 1h0m0 0.5h0m0.5-2h0m0 1.5h0m0 1h0m0.5-3h0m0 2h0m0 1.5h0m0.5-3.5h0m0 1h0m0 1h0m0 2h0m0.5-4.5h0m0 3h0m0.5-2.5h0m0 1h0m0 1.5h0m0 1h0m0.5-6.5h0m0 3h0m0 0.5h0m0 1.5h0m0 2h0m0.5-5h0m0 3.5h0m0 0.5h0m0.5-5h0m0.5 3.5h0m0.5-0.5h0m0 1h0m0 2h0m0.5-2h0" stroke="#0d0d0d" stroke-width="1.4" stroke-linecap="square" fill="none"/>
<line x1="184" y1="388.5" x2="264" y2="388.5" stroke="#5db55a" stroke-width="1" stroke-dasharray="1 1"/>
<text x="243.7" y="397.8" font-size="9.1" fill="#4fa54b" text-anchor="start" font-weight="normal" stroke="#4fa54b" stroke-width="0.12" textLength="20.0" lengthAdjust="spacingAndGlyphs">3476</text>
<text x="192.29999999999998" y="432.1" font-size="8.6" fill="#46709f" text-anchor="start" font-weight="normal" stroke="#46709f" stroke-width="0.12">7.2</text>
<text x="266.9" y="432.1" font-size="9.0" fill="#2b2b2b" text-anchor="end" font-weight="normal" stroke="#2b2b2b" stroke-width="0.12">n = 135</text>
<line x1="184.5" y1="352.7" x2="184.5" y2="434.6" stroke="#1a1a1a" stroke-width="1"/>
<line x1="183.8" y1="434.5" x2="272.365" y2="434.5" stroke="#1a1a1a" stroke-width="1"/>
<line x1="180.70000000000002" y1="434.5" x2="184.3" y2="434.5" stroke="#1a1a1a" stroke-width="1.15"/>
<line x1="180.70000000000002" y1="426.5" x2="184.3" y2="426.5" stroke="#1a1a1a" stroke-width="1.15"/>
<line x1="180.70000000000002" y1="418.5" x2="184.3" y2="418.5" stroke="#1a1a1a" stroke-width="1.15"/>
<line x1="180.70000000000002" y1="410.5" x2="184.3" y2="410.5" stroke="#1a1a1a" stroke-width="1.15"/>
<line x1="180.70000000000002" y1="402.5" x2="184.3" y2="402.5" stroke="#1a1a1a" stroke-width="1.15"/>
<line x1="180.70000000000002" y1="394.5" x2="184.3" y2="394.5" stroke="#1a1a1a" stroke-width="1.15"/>
<line x1="180.70000000000002" y1="386.5" x2="184.3" y2="386.5" stroke="#1a1a1a" stroke-width="1.15"/>
<line x1="180.70000000000002" y1="378.5" x2="184.3" y2="378.5" stroke="#1a1a1a" stroke-width="1.15"/>
<line x1="180.70000000000002" y1="371.5" x2="184.3" y2="371.5" stroke="#1a1a1a" stroke-width="1.15"/>
<line x1="180.70000000000002" y1="363.5" x2="184.3" y2="363.5" stroke="#1a1a1a" stroke-width="1.15"/>
<line x1="180.70000000000002" y1="355.5" x2="184.3" y2="355.5" stroke="#1a1a1a" stroke-width="1.15"/>
<line x1="184.5" y1="434.1" x2="184.5" y2="437.1" stroke="#1a1a1a" stroke-width="1"/>
<line x1="187.72" y1="434.1" x2="187.72" y2="435.70000000000005" stroke="#1a1a1a" stroke-width="0.8"/>
<line x1="191.14000000000001" y1="434.1" x2="191.14000000000001" y2="435.70000000000005" stroke="#1a1a1a" stroke-width="0.8"/>
<line x1="194.56" y1="434.1" x2="194.56" y2="435.70000000000005" stroke="#1a1a1a" stroke-width="0.8"/>
<line x1="197.98000000000002" y1="434.1" x2="197.98000000000002" y2="435.70000000000005" stroke="#1a1a1a" stroke-width="0.8"/>
<line x1="201.5" y1="434.1" x2="201.5" y2="437.1" stroke="#1a1a1a" stroke-width="1"/>
<line x1="204.82000000000002" y1="434.1" x2="204.82000000000002" y2="435.70000000000005" stroke="#1a1a1a" stroke-width="0.8"/>
<line x1="208.24" y1="434.1" x2="208.24" y2="435.70000000000005" stroke="#1a1a1a" stroke-width="0.8"/>
<line x1="211.66000000000003" y1="434.1" x2="211.66000000000003" y2="435.70000000000005" stroke="#1a1a1a" stroke-width="0.8"/>
<line x1="215.08" y1="434.1" x2="215.08" y2="435.70000000000005" stroke="#1a1a1a" stroke-width="0.8"/>
<line x1="218.5" y1="434.1" x2="218.5" y2="437.1" stroke="#1a1a1a" stroke-width="1"/>
<line x1="221.92000000000002" y1="434.1" x2="221.92000000000002" y2="435.70000000000005" stroke="#1a1a1a" stroke-width="0.8"/>
<line x1="225.34" y1="434.1" x2="225.34" y2="435.70000000000005" stroke="#1a1a1a" stroke-width="0.8"/>
<line x1="228.76000000000002" y1="434.1" x2="228.76000000000002" y2="435.70000000000005" stroke="#1a1a1a" stroke-width="0.8"/>
<line x1="232.18" y1="434.1" x2="232.18" y2="435.70000000000005" stroke="#1a1a1a" stroke-width="0.8"/>
<line x1="235.5" y1="434.1" x2="235.5" y2="437.1" stroke="#1a1a1a" stroke-width="1"/>
<line x1="239.02" y1="434.1" x2="239.02" y2="435.70000000000005" stroke="#1a1a1a" stroke-width="0.8"/>
<line x1="242.44" y1="434.1" x2="242.44" y2="435.70000000000005" stroke="#1a1a1a" stroke-width="0.8"/>
<line x1="245.86" y1="434.1" x2="245.86" y2="435.70000000000005" stroke="#1a1a1a" stroke-width="0.8"/>
<line x1="249.28000000000003" y1="434.1" x2="249.28000000000003" y2="435.70000000000005" stroke="#1a1a1a" stroke-width="0.8"/>
<line x1="252.5" y1="434.1" x2="252.5" y2="437.1" stroke="#1a1a1a" stroke-width="1"/>
<line x1="256.12" y1="434.1" x2="256.12" y2="435.70000000000005" stroke="#1a1a1a" stroke-width="0.8"/>
<line x1="259.54" y1="434.1" x2="259.54" y2="435.70000000000005" stroke="#1a1a1a" stroke-width="0.8"/>
<line x1="262.96000000000004" y1="434.1" x2="262.96000000000004" y2="435.70000000000005" stroke="#1a1a1a" stroke-width="0.8"/>
<line x1="266.38" y1="434.1" x2="266.38" y2="435.70000000000005" stroke="#1a1a1a" stroke-width="0.8"/>
<line x1="269.5" y1="434.1" x2="269.5" y2="437.1" stroke="#1a1a1a" stroke-width="1"/>
<text x="183.9" y="448.70000000000005" font-size="9.8" fill="#46709f" text-anchor="middle" font-weight="normal" stroke="#46709f" stroke-width="0.12" textLength="4.8" lengthAdjust="spacingAndGlyphs">0</text>
<text x="201.0" y="448.70000000000005" font-size="9.8" fill="#46709f" text-anchor="middle" font-weight="normal" stroke="#46709f" stroke-width="0.12" textLength="9.6" lengthAdjust="spacingAndGlyphs">20</text>
<text x="218.1" y="448.70000000000005" font-size="9.8" fill="#46709f" text-anchor="middle" font-weight="normal" stroke="#46709f" stroke-width="0.12" textLength="9.6" lengthAdjust="spacingAndGlyphs">40</text>
<text x="235.20000000000002" y="448.70000000000005" font-size="9.8" fill="#46709f" text-anchor="middle" font-weight="normal" stroke="#46709f" stroke-width="0.12" textLength="9.6" lengthAdjust="spacingAndGlyphs">60</text>
<text x="252.3" y="448.70000000000005" font-size="9.8" fill="#46709f" text-anchor="middle" font-weight="normal" stroke="#46709f" stroke-width="0.12" textLength="9.6" lengthAdjust="spacingAndGlyphs">80</text>
<text x="269.40000000000003" y="448.70000000000005" font-size="9.8" fill="#46709f" text-anchor="middle" font-weight="normal" stroke="#46709f" stroke-width="0.12" textLength="14.399999999999999" lengthAdjust="spacingAndGlyphs">100</text>
<text x="169.3" y="436.5" font-size="9" fill="#48a845" stroke="#48a845" stroke-width="0.2" textLength="3.6" lengthAdjust="spacingAndGlyphs">2</text>
<text x="174.10000000000002" y="432.90000000000003" font-size="5.8" fill="#6f976f" textLength="2.4" lengthAdjust="spacingAndGlyphs">0</text>
<text x="169.3" y="428.62" font-size="9" fill="#48a845" stroke="#48a845" stroke-width="0.2" textLength="3.6" lengthAdjust="spacingAndGlyphs">2</text>
<text x="174.10000000000002" y="425.02000000000004" font-size="5.8" fill="#6f976f" textLength="2.4" lengthAdjust="spacingAndGlyphs">2</text>
<text x="169.3" y="420.74" font-size="9" fill="#48a845" stroke="#48a845" stroke-width="0.2" textLength="3.6" lengthAdjust="spacingAndGlyphs">2</text>
<text x="174.10000000000002" y="417.14000000000004" font-size="5.8" fill="#6f976f" textLength="2.4" lengthAdjust="spacingAndGlyphs">4</text>
<text x="169.3" y="412.86" font-size="9" fill="#48a845" stroke="#48a845" stroke-width="0.2" textLength="3.6" lengthAdjust="spacingAndGlyphs">2</text>
<text x="174.10000000000002" y="409.26000000000005" font-size="5.8" fill="#6f976f" textLength="2.4" lengthAdjust="spacingAndGlyphs">6</text>
<text x="169.3" y="404.98" font-size="9" fill="#48a845" stroke="#48a845" stroke-width="0.2" textLength="3.6" lengthAdjust="spacingAndGlyphs">2</text>
<text x="174.10000000000002" y="401.38000000000005" font-size="5.8" fill="#6f976f" textLength="2.4" lengthAdjust="spacingAndGlyphs">8</text>
<text x="165.3" y="397.20000000000005" font-size="9" fill="#48a845" stroke="#48a845" stroke-width="0.2">2</text>
<text x="170.70000000000002" y="393.80000000000007" font-size="6.3" fill="#6f976f" textLength="6.4" lengthAdjust="spacingAndGlyphs">10</text>
<text x="165.3" y="389.32000000000005" font-size="9" fill="#48a845" stroke="#48a845" stroke-width="0.2">2</text>
<text x="170.70000000000002" y="385.9200000000001" font-size="6.3" fill="#6f976f" textLength="6.4" lengthAdjust="spacingAndGlyphs">12</text>
<text x="165.3" y="381.44" font-size="9" fill="#48a845" stroke="#48a845" stroke-width="0.2">2</text>
<text x="170.70000000000002" y="378.04" font-size="6.3" fill="#6f976f" textLength="6.4" lengthAdjust="spacingAndGlyphs">14</text>
<text x="165.3" y="373.56" font-size="9" fill="#48a845" stroke="#48a845" stroke-width="0.2">2</text>
<text x="170.70000000000002" y="370.16" font-size="6.3" fill="#6f976f" textLength="6.4" lengthAdjust="spacingAndGlyphs">16</text>
<text x="165.3" y="365.68" font-size="9" fill="#48a845" stroke="#48a845" stroke-width="0.2">2</text>
<text x="170.70000000000002" y="362.28000000000003" font-size="6.3" fill="#6f976f" textLength="6.4" lengthAdjust="spacingAndGlyphs">18</text>
<text x="165.3" y="357.8" font-size="9" fill="#48a845" stroke="#48a845" stroke-width="0.2">2</text>
<text x="170.70000000000002" y="354.40000000000003" font-size="6.3" fill="#6f976f" textLength="6.4" lengthAdjust="spacingAndGlyphs">20</text>
<path d="M303 381.5h0m0 14h0m0 3h0m0 6h0m0 11h0m0 0.5h0m0 1.5h0m0 1.5h0m0 0.5h0m0.5-46.5h0m0 4h0m0 7h0m0 5h0m0 2h0m0 6h0m0 1.5h0m0 1h0m0 1.5h0m0 7.5h0m0 3h0m0 3.5h0m0 1.5h0m0 4h0m0.5-27h0m0 4h0m0 2.5h0m0 0.5h0m0 1.5h0m0 9h0m0.5-24h0m0 19.5h0m0.5-31h0m0 3h0m0 2h0m0 14.5h0m0 3h0m0 2h0m0 1h0m0 7h0m0 7h0m0 3.5h0m0 2h0m0.5-42.5h0m0 9.5h0m0 3h0m0 13.5h0m0 8.5h0m0 3.5h0m11-25h0m0 0.5h0m0 1h0m0 1h0m0.5-18h0m0 12.5h0m0 2h0m0 1.5h0m0 0.5h0m0 0.5h0m0.5-8.5h0m0 3.5h0m0 1h0m0 0.5h0m0 1.5h0m0 1h0m0 0.5h0m0 1h0m0.5-13h0m0 6.5h0m0 0.5h0m0 0.5h0m0 0.5h0m0 1h0m0 0.5h0m0 1h0m0 0.5h0m0 0.5h0m0.5-10.5h0m0 5.5h0m0 0.5h0m0 1h0m0 0.5h0m0 2.5h0m0.5-21.5h0m0 14h0m0 2h0m0 2h0m0 2.5h0m0 2h0m0.5-21h0m0 10h0m0 3h0m0 1.5h0m0 3h0m0 0.5h0m0 3.5h0m0.5-5.5h0m0 1h0m0 3.5h0m0.5-7h0m0 1.5h0m0 0.5h0m0 2h0m0 2h0m0 1h0m0.5-7.5h0m0 1h0m0 2h0m0 0.5h0m0 2h0m0 1h0m0 0.5h0m0.5-20h0m0 13.5h0m0 3.5h0m0 2h0m0 1h0m0.5-19h0m0 5.5h0m0 5h0m0 1.5h0m0 3h0m0 0.5h0m0 0.5h0m0 0.5h0m0.5-14.5h0m0 14h0m0 1.5h0m0 2h0m0.5-8.5h0m0 1.5h0m0 0.5h0m0 3.5h0m0.5-9h0m0 4.5h0m0 1h0m0 1h0m0 1.5h0m0 0.5h0m0 0.5h0m0 1h0m0 0.5h0m0.5-21h0m0 0.5h0m0 13h0m0 1.5h0m0 1h0m0 0.5h0m0 1.5h0m0 1h0m0.5-12.5h0m0 4.5h0m0 2h0m0 2h0m0 1h0m0 1h0m0 0.5h0m0 1h0m0 1h0m0 3h0m0.5-19h0m0 11h0m0 2h0m0 0.5h0m0 1h0m0 1h0m0 1h0m0 2h0m0.5-11.5h0m0 2h0m0 1.5h0m0 0.5h0m0 1h0m0 2.5h0m0 0.5h0m0 1.5h0m0 0.5h0m0.5-9h0m0 0.5h0m0 0.5h0m0 1.5h0m0 1.5h0m0 0.5h0m0 1h0m0 1h0m0 0.5h0m0 1.5h0m0.5-5h0m0 0.5h0m0 1.5h0m0 0.5h0m0.5-16.5h0m0 2h0m0 3.5h0m0 5.5h0m0 1.5h0m0 0.5h0m0 0.5h0m0 0.5h0m0 1h0m0 0.5h0m0 2h0m0 1h0m0 0.5h0m0.5-17h0m0 9.5h0m0 1.5h0m0 0.5h0m0 0.5h0m0 3.5h0m0.5-5.5h0m0 2.5h0m0 0.5h0m0 1h0m0 1h0m0 0.5h0m0 0.5h0m0.5-20h0m0 10h0m0 4h0m0 2h0m0 1h0m0 1h0m0 1h0m0 3h0m0.5-13.5h0m0 4.5h0m0 1h0m0 0.5h0m0 0.5h0m0 0.5h0m0 1.5h0m0 0.5h0m0 0.5h0m0 2h0m0.5-4.5h0m0 1h0m0 0.5h0m0 0.5h0m0.5-9.5h0m0 3.5h0m0 2.5h0m0 0.5h0m0 0.5h0m0 1.5h0m0 0.5h0m0 2.5h0m0 0.5h0m0.5-9.5h0m0 3h0m0 2h0m0 1h0m0 0.5h0m0 2.5h0m0.5-13h0m0 3.5h0m0 2h0m0 0.5h0m0 1h0m0 2h0m0 2h0m0 0.5h0m0.5-8.5h0m0 3.5h0m0 1h0m0 2h0m0 1h0m0 0.5h0m0 1h0m0.5-6.5h0m0 2.5h0m0 2h0m0 1h0m0 1h0m0 0.5h0m0 0.5h0m0.5-22h0m0 2.5h0m0 12.5h0m0 0.5h0m0 2h0m0 0.5h0m0 1h0m0 1.5h0m0.5-6.5h0m0 2h0m0 1h0m0 2h0m0 0.5h0m0.5-16h0m0 8.5h0m0 1h0m0 1.5h0m0 1.5h0m0 0.5h0m0 2.5h0m0 3h0m0.5-14h0m0 3.5h0m0 3.5h0m0 0.5h0m0 1.5h0m0 1h0m0 0.5h0m0 1.5h0m0.5-14.5h0m0 9.5h0m0 1.5h0m0 3.5h0m0 1h0m0.5-22h0m0 10.5h0m0 1.5h0m0 4.5h0m0 0.5h0m0 0.5h0m0 0.5h0m0 0.5h0m0 0.5h0m0 1h0m0 1.5h0m0 0.5h0m0.5-10h0m0 2.5h0m0 1h0m0 0.5h0m0 1.5h0m0 1h0m0 1h0m0 3.5h0m0.5-12h0m0 3h0m0 0.5h0m0 0.5h0m0 0.5h0m0 1.5h0m0 0.5h0m0 2.5h0m0.5-7h0m0 1h0m0 0.5h0m0 1h0m0 2.5h0m0 0.5h0m0 0.5h0m0 2h0m0.5-16.5h0m0 5.5h0m0 3.5h0m0 1h0m0 2h0m0 1h0m0 1h0m0 1.5h0m0.5-15.5h0m0 3h0m0 0.5h0m0 5h0m0 0.5h0m0 0.5h0m0 0.5h0m0 0.5h0m0 1h0m0 0.5h0m0 1h0m0 1.5h0m0.5-20h0m0 7h0m0 2.5h0m0 5.5h0m0 1h0m0 3.5h0m0 1h0m0.5-7h0m0 0.5h0m0 1h0m0.5 1h0m0 1.5h0m0 0.5h0m0.5-20.5h0m0 13.5h0m0 5h0m0 1.5h0m0 1h0m0 0.5h0m0.5-20h0m0 12h0m0 1.5h0m0 1.5h0m0 0.5h0m0 2h0m0 1h0m0 2h0m0.5-5.5h0m0 0.5h0m0 0.5h0m0 1h0m0 1h0m0 0.5h0m0 1.5h0m0 1h0m0.5-22h0m0 0.5h0m0 12.5h0m0 3.5h0m0 1h0m0 0.5h0m0 0.5h0m0.5-4h0m0 0.5h0m0 0.5h0m0 3h0m0 0.5h0m0 0.5h0m0 1h0m0 1h0m0.5-17.5h0m0 2h0m0 5.5h0m0 3.5h0m0 1h0m0 1.5h0m0 2h0m0 0.5h0m0 0.5h0m0 0.5h0m0 1h0m0.5-23h0m0 6h0m0 8h0m0 1.5h0m0 2.5h0m0 1h0m0 0.5h0m0 0.5h0m0 0.5h0m0 1h0m0 1.5h0m0.5-8h0m0 3h0m0 1h0m0 0.5h0m0 1.5h0m0.5-5h0m0 0.5h0m0 3h0m0 2h0m0 1h0m0.5-18.5h0m0 3.5h0m0 5.5h0m0 1.5h0m0 1h0m0 4.5h0m0.5-10h0m0 3h0m0 6.5h0m0 0.5h0m0 2h0m0.5-23h0m0 3h0m0 13.5h0m0 0.5h0m0 1.5h0m0 0.5h0m0.5-10h0m0 7.5h0m0 2.5h0m0 1h0m0 0.5h0m0 1.5h0m0 1h0m0.5-23.5h0m0 11.5h0m0 4.5h0m0 1h0m0 5h0m0.5-14h0m0 8h0m0 2h0m0 1h0m0 2.5h0m0.5-19.5h0m0 0.5h0m0 2h0m0 10h0m0 0.5h0m0 1.5h0m0 1h0m0 1h0m0 2h0m0 1.5h0m0 0.5h0m0.5-4.5h0m0 2h0m0 0.5h0m0 1h0m0.5-20.5h0m0 9.5h0m0 4.5h0m0 1h0m0 1h0m0 1.5h0m0 1.5h0m0 0.5h0m0 0.5h0m0 1h0m0.5-6h0m0 0.5h0m0 1h0m0 3h0m0.5-3.5h0m0 2.5h0m0 0.5h0m0 0.5h0m0.5-6.5h0m0 0.5h0m0 1h0m0 0.5h0m0 2.5h0m0 0.5h0m0 1h0m0 0.5h0m0.5-21h0m0 7.5h0m0 7.5h0m0 1.5h0m0 0.5h0m0 3.5h0m0 1h0m0.5-15h0m0 7.5h0m0 1h0m0 4h0m0 2h0m0 1h0m0.5-11.5h0m0 3h0m0 5.5h0m0.5-19h0m0 15.5h0m0 1h0m0 3h0m0.5-20h0m0 3h0m0 2h0m0 7h0m0 6.5h0m0 1h0m0 1h0m0 0.5h0m0.5-18h0m0 10.5h0m0 0.5h0m0 1.5h0m0 0.5h0m0 2.5h0m0.5-14h0m0 7.5h0m0 1.5h0m0 1h0m0 2h0m0 0.5h0m0 0.5h0m0 3.5h0m0.5-15.5h0m0 8.5h0m0 0.5h0m0 1h0m0 3.5h0m0 1h0m0 0.5h0m0 0.5h0m0.5-7.5h0m0 1h0m0 2.5h0m0 2.5h0m0 0.5h0m0.5-15h0m0 9.5h0m0 1h0m0 3.5h0m0 2.5h0m0.5-20h0m0.5 1h0m0 2h0m0 6h0m0 2.5h0m0 0.5h0m0 0.5h0m0 0.5h0m0 1.5h0m0 0.5h0m0 0.5h0m0.5-12h0m0 5h0m0 5h0m0 1h0m0 0.5h0m0 1h0m0 1h0m0 1h0m0.5-9.5h0m0 2.5h0m0 4h0m0 0.5h0m0 1h0m0.5-4h0m0 3h0m0 0.5h0m0 2h0m0.5-6.5h0m0 1h0m0 1h0m0 1h0m0 0.5h0m0 0.5h0m0 1h0m0.5-14h0m0 8h0m0 1h0m0 1h0m0 1h0m0 1h0m0.5-14h0m0 11.5h0m0 1.5h0m0 1h0m0 1.5h0m0 1h0m0 0.5h0m0.5-12.5h0m0 9.5h0m0 1h0m0 2.5h0m0.5-18h0m0 1.5h0m0 7h0m0 2h0m0 0.5h0m0 0.5h0m0 0.5h0m0 4h0m0 1.5h0m0.5-13h0m0 3h0m0 1.5h0m0 4h0m0 1h0m0 2h0m0 0.5h0m0.5-15h0m0 0.5h0m0 8.5h0m0 7h0m0.5-19.5h0m0 1.5h0m0 13h0m0 0.5h0m0 3h0m0.5-4h0m0 0.5h0m0 1.5h0m0 0.5h0m0 1.5h0m0 1.5h0m0.5-16h0m0 9.5h0m0 1h0m0 0.5h0m0 1h0m0 1.5h0m0 0.5h0m0 1h0m0.5-13h0m0 8h0m0 1.5h0m0 1h0m0 1h0m0.5-5.5h0m0 2h0m0 0.5h0m0 2h0m0 0.5h0m0 2h0m0.5-16h0m0 7.5h0m0 0.5h0m0 3h0m0 0.5h0m0 0.5h0m0 0.5h0m0 1h0m0 0.5h0m0 1h0m0.5-6h0m0 5.5h0m0.5-7h0m0 1h0m0 2h0m0 1.5h0m0 1.5h0m0 1.5h0m0 1h0m0.5-10h0m0 3h0m0 1h0m0 0.5h0m0 1h0m0 1.5h0m0.5-5.5h0m0 2.5h0m0 0.5h0m0 1h0m0 2h0m0.5-15.5h0m0 1.5h0m0 7.5h0m0 0.5h0m0 1.5h0m0 1h0m0 1h0m0 1h0m0 1.5h0m0.5-16.5h0m0 7.5h0m0 2.5h0m0 1h0m0 1.5h0m0 1h0m0 3h0m0.5-11h0m0 7.5h0m0 2.5h0m0 2.5h0m0.5-9.5h0m0 0.5h0m0 1.5h0m0 0.5h0m0 0.5h0m0 1.5h0m0 0.5h0m0 1.5h0m0.5-10.5h0m0 6.5h0m0 1.5h0m0 0.5h0m0 2h0m0 1h0m0 1.5h0m0.5-17.5h0m0 8.5h0m0 3h0m0 1.5h0m0 1.5h0m0 2h0m0.5-13.5h0m0 1h0m0 2h0m0 2.5h0m0 1.5h0m0 2h0m0 2h0m0.5-5.5h0m0 1h0m0 9h0m0.5-9.5h0m0 1h0m0 1.5h0m0 2h0m0.5-11h0m0 7.5h0m0 0.5h0m0 4h0m0.5-15h0m0 2.5h0m0 7h0m0 0.5h0m0 1.5h0m0 0.5h0m0 2h0m0.5-4h0m0 3h0m0 2h0m0.5-8h0m0 2h0m0 0.5h0m0 0.5h0m0 2h0m0 1.5h0m0 1h0m0.5-13.5h0m0 6.5h0m0 3h0m0 0.5h0m0 1.5h0m0.5-12.5h0m0 6.5h0m0 2h0m0 1.5h0m0 4h0m0 1h0m0.5-14h0m0 4h0m0 5h0m0 0.5h0m0 0.5h0m0.5-6.5h0m0 0.5h0m0 4h0m0 0.5h0m0.5 0h0m0.5-9h0m0 5h0m0 2h0m0 4.5h0m0 1h0" stroke="#bcbcbc" stroke-width="1.4" stroke-linecap="square" fill="none"/>
<line x1="304.5" y1="366" x2="304.5" y2="434" stroke="#4a6fae" stroke-width="1" stroke-dasharray="1 1"/>
<path d="M303 372.5h0m0 0.5h0m0 2.5h0m0 0.5h0m0 1h0m0 1h0m0 1h0m0 2.5h0m0 1h0m0 0.5h0m0 0.5h0m0 2h0m0 1h0m0 0.5h0m0 3h0m0 1h0m0 2h0m0 1.5h0m0 1h0m0 0.5h0m0 0.5h0m0 1h0m0 1h0m0 1.5h0m0 1.5h0m0 1h0m0 2.5h0m0 1.5h0m0 1h0m0 0.5h0m0 0.5h0m0 0.5h0m0 5h0m0 1h0m0 3.5h0m0.5-44.5h0m0 2h0m0 0.5h0m0 0.5h0m0 1.5h0m0 0.5h0m0 2.5h0m0 0.5h0m0 0.5h0m0 0.5h0m0 0.5h0m0 0.5h0m0 2.5h0m0 1.5h0m0 0.5h0m0 1h0m0 0.5h0m0 1.5h0m0 0.5h0m0 3.5h0m0 0.5h0m0 2h0m0 1h0m0 1h0m0 0.5h0m0 0.5h0m0 1h0m0 0.5h0m0 0.5h0m0 1h0m0 1.5h0m0 0.5h0m0 1h0m0 0.5h0m0 0.5h0m0 1h0m0 1h0m0 0.5h0m0 1h0m0 0.5h0m0 1.5h0m0 0.5h0m0.5-39.5h0m0 0.5h0m0 3h0m0 0.5h0m0 1h0m0 2h0m0 1.5h0m0 1h0m0 1h0m0 1h0m0 1.5h0m0 0.5h0m0 0.5h0m0 1.5h0m0 0.5h0m0 0.5h0m0 0.5h0m0 2h0m0 0.5h0m0 0.5h0m0 0.5h0m0 1h0m0 1h0m0 0.5h0m0 2.5h0m0 0.5h0m0 2h0m0 1.5h0m0 1h0m0 0.5h0m0 0.5h0m0 1.5h0m0 2.5h0m0 0.5h0m0.5-43h0m0 8.5h0m0 0.5h0m0 0.5h0m0 1h0m0 0.5h0m0 1h0m0 0.5h0m0 0.5h0m0 1.5h0m0 0.5h0m0 1.5h0m0 2h0m0 0.5h0m0 0.5h0m0 0.5h0m0 1.5h0m0 0.5h0m0 1h0m0 0.5h0m0 1.5h0m0 1h0m0 0.5h0m0 1h0m0 0.5h0m0 0.5h0m0 0.5h0m0 0.5h0m0 1h0m0 0.5h0m0 0.5h0m0 0.5h0m0 2h0m0 0.5h0m0 0.5h0m0 1h0m0 1h0m0 0.5h0m0 0.5h0m0 2.5h0m0 1.5h0m0 0.5h0m0 2h0m0.5-44.5h0m0 9.5h0m0 1h0m0 0.5h0m0 2.5h0m0 1h0m0 1.5h0m0 0.5h0m0 0.5h0m0 0.5h0m0 0.5h0m0 0.5h0m0 3h0m0 0.5h0m0 0.5h0m0 1h0m0 3.5h0m0 0.5h0m0 0.5h0m0 0.5h0m0 1.5h0m0 0.5h0m0 0.5h0m0 0.5h0m0 1h0m0 0.5h0m0 0.5h0m0 0.5h0m0 1h0m0 2h0m0.5-32.5h0m0 4h0m0 2.5h0m0 1.5h0m0 0.5h0m0 1.5h0m0 0.5h0m0 0.5h0m0 2.5h0m0 3h0m0 1.5h0m0 1h0m0 0.5h0m0 1h0m0 0.5h0m0 0.5h0m0 0.5h0m0 2h0m0 1h0m0 2h0m0 1h0m0 1h0m0 0.5h0m0 2h0m0 1.5h0m0 1h0m0.5-26h0m0 0.5h0m0 1.5h0m0 1h0m0 0.5h0m0 0.5h0m0 0.5h0m0 1.5h0m0 1h0m0 1.5h0m0 1.5h0m0 0.5h0m0 0.5h0m0 0.5h0m0 0.5h0m0 1h0m0 1h0m0 0.5h0m0 0.5h0m0 0.5h0m0 0.5h0m0 0.5h0m0 1.5h0m0 0.5h0m0 0.5h0m0 0.5h0m0 1.5h0m0 1h0m0.5-26.5h0m0 3.5h0m0 0.5h0m0 0.5h0m0 1h0m0 1.5h0m0 0.5h0m0 1h0m0 0.5h0m0 2h0m0 1h0m0 0.5h0m0 0.5h0m0 0.5h0m0 0.5h0m0 0.5h0m0 1h0m0 1h0m0 0.5h0m0 2h0m0 0.5h0m0 0.5h0m0 0.5h0m0 1h0m0 0.5h0m0 0.5h0m0 0.5h0m0 1h0m0 0.5h0m0 0.5h0m0.5-31h0m0 9.5h0m0 2h0m0 1h0m0 0.5h0m0 1.5h0m0 0.5h0m0 0.5h0m0 0.5h0m0 2.5h0m0 0.5h0m0 0.5h0m0 0.5h0m0 0.5h0m0 2.5h0m0 0.5h0m0 0.5h0m0 0.5h0m0 3h0m0 1h0m0.5-22h0m0 3.5h0m0 1.5h0m0 1h0m0 0.5h0m0 3h0m0 0.5h0m0 0.5h0m0 1h0m0 0.5h0m0 0.5h0m0 0.5h0m0 0.5h0m0 2h0m0 1h0m0 0.5h0m0 0.5h0m0 0.5h0m0 0.5h0m0 0.5h0m0 1h0m0 0.5h0m0 1.5h0m0 0.5h0m0.5-17h0m0 1h0m0 0.5h0m0 1h0m0 0.5h0m0 0.5h0m0 0.5h0m0 1h0m0 0.5h0m0 0.5h0m0 1h0m0 1h0m0 2h0m0 1h0m0 1h0m0 1h0m0 2h0m0 0.5h0m0 0.5h0m0 0.5h0m0.5-16h0m0 0.5h0m0 0.5h0m0 0.5h0m0 0.5h0m0 0.5h0m0 0.5h0m0 0.5h0m0 2.5h0m0 0.5h0m0 1h0m0 0.5h0m0 1h0m0 3h0m0 1h0m0 1.5h0m0.5-16.5h0m0 1.5h0m0 0.5h0m0 1h0m0 1h0m0 0.5h0m0 1h0m0 0.5h0m0 1h0m0 0.5h0m0 0.5h0m0 0.5h0m0 1.5h0m0 1h0m0 0.5h0m0 0.5h0m0 0.5h0m0 0.5h0m0 0.5h0m0 1.5h0m0.5-14.5h0m0 2.5h0m0 1h0m0 1h0m0 2h0m0 0.5h0m0 2h0m0 4.5h0m0 0.5h0m0 1h0m0.5-14h0m0 0.5h0m0 1h0m0 2.5h0m0 2.5h0m0 0.5h0m0 0.5h0m0 0.5h0m0 0.5h0m0 1h0m0 0.5h0m0 1.5h0m0 0.5h0m0 0.5h0m0.5-12.5h0m0 0.5h0m0 2h0m0 0.5h0m0 1.5h0m0 2h0m0 0.5h0m0 0.5h0m0 0.5h0m0 0.5h0m0 1h0m0 0.5h0m0 1.5h0m0 0.5h0m0 1h0m0 0.5h0m0.5-11h0m0 1.5h0m0 1h0m0 2h0m0 0.5h0m0 1.5h0m0 1h0m0 0.5h0m0.5-9.5h0m0 1.5h0m0 2.5h0m0 0.5h0m0 0.5h0m0 0.5h0m0 1h0m0 0.5h0m0 0.5h0m0 2h0m0 1h0m0.5-10.5h0m0 0.5h0m0 3h0m0 1.5h0m0 0.5h0m0 0.5h0m0 2.5h0m0 0.5h0m0 1h0m0.5-17h0m0 8h0m0 0.5h0m0 0.5h0m0 0.5h0m0 0.5h0m0 1h0m0 0.5h0m0 1h0m0 0.5h0m0 0.5h0m0 1h0m0 1h0m0.5-7.5h0m0 0.5h0m0 0.5h0m0 1.5h0m0 1h0m0 0.5h0m0 0.5h0m0 0.5h0m0 0.5h0m0 0.5h0m0 0.5h0m0 1h0m0 0.5h0m0 1h0m0.5-6.5h0m0 0.5h0m0 0.5h0m0 1h0m0 1h0m0 1h0m0.5-5.5h0m0 1.5h0m0 0.5h0m0 1h0m0 0.5h0m0 2h0m0.5-15h0m0 1.5h0m0 8h0m0 0.5h0m0 0.5h0m0 0.5h0m0 1.5h0m0 0.5h0m0 0.5h0m0 0.5h0m0 1h0m0.5-6h0m0 0.5h0m0 0.5h0m0 1h0m0 1.5h0m0 0.5h0m0 1.5h0m0.5-4h0m0 1h0m0 1h0m0 0.5h0m0 1h0m0.5-4.5h0m0 1.5h0m0 0.5h0m0 1.5h0m0 1h0m0.5-4h0m0 2h0m0.5-1h0m0 0.5h0m0 0.5h0m0 1h0m0 0.5h0m0.5-1h0m0.5-1.5h0m0.5 1.5h0m0 0.5h0m1.5-2.5h0m4-7h0" stroke="#0d0d0d" stroke-width="1.4" stroke-linecap="square" fill="none"/>
<line x1="302" y1="393.5" x2="382" y2="393.5" stroke="#5db55a" stroke-width="1" stroke-dasharray="1 1"/>
<text x="363.6" y="401.40000000000003" font-size="9.1" fill="#4fa54b" text-anchor="start" font-weight="normal" stroke="#4fa54b" stroke-width="0.12" textLength="20.0" lengthAdjust="spacingAndGlyphs">1440</text>
<text x="306.59999999999997" y="432.1" font-size="8.6" fill="#46709f" text-anchor="start" font-weight="normal" stroke="#46709f" stroke-width="0.12">3.3</text>
<text x="385.8" y="432.1" font-size="9.0" fill="#2b2b2b" text-anchor="end" font-weight="normal" stroke="#2b2b2b" stroke-width="0.12">n = 4501</text>
<line x1="301.5" y1="352.7" x2="301.5" y2="434.6" stroke="#1a1a1a" stroke-width="1"/>
<line x1="301.1" y1="434.5" x2="389.665" y2="434.5" stroke="#1a1a1a" stroke-width="1"/>
<line x1="298.0" y1="434.5" x2="301.6" y2="434.5" stroke="#1a1a1a" stroke-width="1.15"/>
<line x1="298.0" y1="426.5" x2="301.6" y2="426.5" stroke="#1a1a1a" stroke-width="1.15"/>
<line x1="298.0" y1="418.5" x2="301.6" y2="418.5" stroke="#1a1a1a" stroke-width="1.15"/>
<line x1="298.0" y1="410.5" x2="301.6" y2="410.5" stroke="#1a1a1a" stroke-width="1.15"/>
<line x1="298.0" y1="402.5" x2="301.6" y2="402.5" stroke="#1a1a1a" stroke-width="1.15"/>
<line x1="298.0" y1="394.5" x2="301.6" y2="394.5" stroke="#1a1a1a" stroke-width="1.15"/>
<line x1="298.0" y1="386.5" x2="301.6" y2="386.5" stroke="#1a1a1a" stroke-width="1.15"/>
<line x1="298.0" y1="378.5" x2="301.6" y2="378.5" stroke="#1a1a1a" stroke-width="1.15"/>
<line x1="298.0" y1="371.5" x2="301.6" y2="371.5" stroke="#1a1a1a" stroke-width="1.15"/>
<line x1="298.0" y1="363.5" x2="301.6" y2="363.5" stroke="#1a1a1a" stroke-width="1.15"/>
<line x1="298.0" y1="355.5" x2="301.6" y2="355.5" stroke="#1a1a1a" stroke-width="1.15"/>
<line x1="301.5" y1="434.1" x2="301.5" y2="437.1" stroke="#1a1a1a" stroke-width="1"/>
<line x1="305.02000000000004" y1="434.1" x2="305.02000000000004" y2="435.70000000000005" stroke="#1a1a1a" stroke-width="0.8"/>
<line x1="308.44" y1="434.1" x2="308.44" y2="435.70000000000005" stroke="#1a1a1a" stroke-width="0.8"/>
<line x1="311.86" y1="434.1" x2="311.86" y2="435.70000000000005" stroke="#1a1a1a" stroke-width="0.8"/>
<line x1="315.28000000000003" y1="434.1" x2="315.28000000000003" y2="435.70000000000005" stroke="#1a1a1a" stroke-width="0.8"/>
<line x1="318.5" y1="434.1" x2="318.5" y2="437.1" stroke="#1a1a1a" stroke-width="1"/>
<line x1="322.12" y1="434.1" x2="322.12" y2="435.70000000000005" stroke="#1a1a1a" stroke-width="0.8"/>
<line x1="325.54" y1="434.1" x2="325.54" y2="435.70000000000005" stroke="#1a1a1a" stroke-width="0.8"/>
<line x1="328.96000000000004" y1="434.1" x2="328.96000000000004" y2="435.70000000000005" stroke="#1a1a1a" stroke-width="0.8"/>
<line x1="332.38" y1="434.1" x2="332.38" y2="435.70000000000005" stroke="#1a1a1a" stroke-width="0.8"/>
<line x1="335.5" y1="434.1" x2="335.5" y2="437.1" stroke="#1a1a1a" stroke-width="1"/>
<line x1="339.22" y1="434.1" x2="339.22" y2="435.70000000000005" stroke="#1a1a1a" stroke-width="0.8"/>
<line x1="342.64000000000004" y1="434.1" x2="342.64000000000004" y2="435.70000000000005" stroke="#1a1a1a" stroke-width="0.8"/>
<line x1="346.06" y1="434.1" x2="346.06" y2="435.70000000000005" stroke="#1a1a1a" stroke-width="0.8"/>
<line x1="349.48" y1="434.1" x2="349.48" y2="435.70000000000005" stroke="#1a1a1a" stroke-width="0.8"/>
<line x1="352.5" y1="434.1" x2="352.5" y2="437.1" stroke="#1a1a1a" stroke-width="1"/>
<line x1="356.32000000000005" y1="434.1" x2="356.32000000000005" y2="435.70000000000005" stroke="#1a1a1a" stroke-width="0.8"/>
<line x1="359.74" y1="434.1" x2="359.74" y2="435.70000000000005" stroke="#1a1a1a" stroke-width="0.8"/>
<line x1="363.16" y1="434.1" x2="363.16" y2="435.70000000000005" stroke="#1a1a1a" stroke-width="0.8"/>
<line x1="366.58000000000004" y1="434.1" x2="366.58000000000004" y2="435.70000000000005" stroke="#1a1a1a" stroke-width="0.8"/>
<line x1="370.5" y1="434.1" x2="370.5" y2="437.1" stroke="#1a1a1a" stroke-width="1"/>
<line x1="373.42" y1="434.1" x2="373.42" y2="435.70000000000005" stroke="#1a1a1a" stroke-width="0.8"/>
<line x1="376.84000000000003" y1="434.1" x2="376.84000000000003" y2="435.70000000000005" stroke="#1a1a1a" stroke-width="0.8"/>
<line x1="380.26" y1="434.1" x2="380.26" y2="435.70000000000005" stroke="#1a1a1a" stroke-width="0.8"/>
<line x1="383.68" y1="434.1" x2="383.68" y2="435.70000000000005" stroke="#1a1a1a" stroke-width="0.8"/>
<line x1="387.5" y1="434.1" x2="387.5" y2="437.1" stroke="#1a1a1a" stroke-width="1"/>
<text x="301.20000000000005" y="448.70000000000005" font-size="9.8" fill="#46709f" text-anchor="middle" font-weight="normal" stroke="#46709f" stroke-width="0.12" textLength="4.8" lengthAdjust="spacingAndGlyphs">0</text>
<text x="318.30000000000007" y="448.70000000000005" font-size="9.8" fill="#46709f" text-anchor="middle" font-weight="normal" stroke="#46709f" stroke-width="0.12" textLength="9.6" lengthAdjust="spacingAndGlyphs">20</text>
<text x="335.40000000000003" y="448.70000000000005" font-size="9.8" fill="#46709f" text-anchor="middle" font-weight="normal" stroke="#46709f" stroke-width="0.12" textLength="9.6" lengthAdjust="spacingAndGlyphs">40</text>
<text x="352.50000000000006" y="448.70000000000005" font-size="9.8" fill="#46709f" text-anchor="middle" font-weight="normal" stroke="#46709f" stroke-width="0.12" textLength="9.6" lengthAdjust="spacingAndGlyphs">60</text>
<text x="369.6" y="448.70000000000005" font-size="9.8" fill="#46709f" text-anchor="middle" font-weight="normal" stroke="#46709f" stroke-width="0.12" textLength="9.6" lengthAdjust="spacingAndGlyphs">80</text>
<text x="386.70000000000005" y="448.70000000000005" font-size="9.8" fill="#46709f" text-anchor="middle" font-weight="normal" stroke="#46709f" stroke-width="0.12" textLength="14.399999999999999" lengthAdjust="spacingAndGlyphs">100</text>
<text x="286.6" y="436.5" font-size="9" fill="#48a845" stroke="#48a845" stroke-width="0.2" textLength="3.6" lengthAdjust="spacingAndGlyphs">2</text>
<text x="291.40000000000003" y="432.90000000000003" font-size="5.8" fill="#6f976f" textLength="2.4" lengthAdjust="spacingAndGlyphs">0</text>
<text x="286.6" y="428.62" font-size="9" fill="#48a845" stroke="#48a845" stroke-width="0.2" textLength="3.6" lengthAdjust="spacingAndGlyphs">2</text>
<text x="291.40000000000003" y="425.02000000000004" font-size="5.8" fill="#6f976f" textLength="2.4" lengthAdjust="spacingAndGlyphs">2</text>
<text x="286.6" y="420.74" font-size="9" fill="#48a845" stroke="#48a845" stroke-width="0.2" textLength="3.6" lengthAdjust="spacingAndGlyphs">2</text>
<text x="291.40000000000003" y="417.14000000000004" font-size="5.8" fill="#6f976f" textLength="2.4" lengthAdjust="spacingAndGlyphs">4</text>
<text x="286.6" y="412.86" font-size="9" fill="#48a845" stroke="#48a845" stroke-width="0.2" textLength="3.6" lengthAdjust="spacingAndGlyphs">2</text>
<text x="291.40000000000003" y="409.26000000000005" font-size="5.8" fill="#6f976f" textLength="2.4" lengthAdjust="spacingAndGlyphs">6</text>
<text x="286.6" y="404.98" font-size="9" fill="#48a845" stroke="#48a845" stroke-width="0.2" textLength="3.6" lengthAdjust="spacingAndGlyphs">2</text>
<text x="291.40000000000003" y="401.38000000000005" font-size="5.8" fill="#6f976f" textLength="2.4" lengthAdjust="spacingAndGlyphs">8</text>
<text x="282.6" y="397.20000000000005" font-size="9" fill="#48a845" stroke="#48a845" stroke-width="0.2">2</text>
<text x="288.0" y="393.80000000000007" font-size="6.3" fill="#6f976f" textLength="6.4" lengthAdjust="spacingAndGlyphs">10</text>
<text x="282.6" y="389.32000000000005" font-size="9" fill="#48a845" stroke="#48a845" stroke-width="0.2">2</text>
<text x="288.0" y="385.9200000000001" font-size="6.3" fill="#6f976f" textLength="6.4" lengthAdjust="spacingAndGlyphs">12</text>
<text x="282.6" y="381.44" font-size="9" fill="#48a845" stroke="#48a845" stroke-width="0.2">2</text>
<text x="288.0" y="378.04" font-size="6.3" fill="#6f976f" textLength="6.4" lengthAdjust="spacingAndGlyphs">14</text>
<text x="282.6" y="373.56" font-size="9" fill="#48a845" stroke="#48a845" stroke-width="0.2">2</text>
<text x="288.0" y="370.16" font-size="6.3" fill="#6f976f" textLength="6.4" lengthAdjust="spacingAndGlyphs">16</text>
<text x="282.6" y="365.68" font-size="9" fill="#48a845" stroke="#48a845" stroke-width="0.2">2</text>
<text x="288.0" y="362.28000000000003" font-size="6.3" fill="#6f976f" textLength="6.4" lengthAdjust="spacingAndGlyphs">18</text>
<text x="282.6" y="357.8" font-size="9" fill="#48a845" stroke="#48a845" stroke-width="0.2">2</text>
<text x="288.0" y="354.40000000000003" font-size="6.3" fill="#6f976f" textLength="6.4" lengthAdjust="spacingAndGlyphs">20</text>
<path d="M421.5 380h0m0 8h0m0 1.5h0m0 3h0m0 2h0m0 21.5h0m0 4.5h0m0.5-46h0m0 8.5h0m0 4.5h0m0 0.5h0m0 4.5h0m0 1h0m0 7h0m0 3h0m0 3h0m0 14.5h0m0.5-46.5h0m0 19h0m0 1h0m0 5h0m0 4h0m0 8h0m0 4h0m0.5-40h0m0 5h0m0 17.5h0m0 0.5h0m0 3.5h0m0 2.5h0m0 5h0m0.5-38.5h0m0 5h0m0 3h0m0 0.5h0m0 0.5h0m0 5h0m0 0.5h0m0 0.5h0m0 1.5h0m0 25h0m0 2.5h0m0.5-45.5h0m0 6h0m0 4h0m0 11.5h0m0 6h0m0 9h0m0 4h0m5.5-18.5h0m0 4.5h0m0 1.5h0m0 3h0m0.5-7h0m0 0.5h0m0 1.5h0m0.5-3h0m0 1h0m0 0.5h0m0 0.5h0m0 0.5h0m0 0.5h0m0.5-5.5h0m0 0.5h0m0 6h0m0 1h0m0 0.5h0m0.5-20.5h0m0 4.5h0m0 2h0m0 5h0m0 1.5h0m0 0.5h0m0 4h0m0 2h0m0.5-12h0m0 3.5h0m0 4.5h0m0 1.5h0m0 1h0m0 2h0m0.5-19h0m0 2.5h0m0 5h0m0 3h0m0 0.5h0m0 1.5h0m0 1h0m0 0.5h0m0 1h0m0 1.5h0m0.5-7h0m0 0.5h0m0 1.5h0m0 1.5h0m0 0.5h0m0 0.5h0m0 2h0m0 0.5h0m0.5-25h0m0 2.5h0m0 12h0m0 5.5h0m0 0.5h0m0 1h0m0 0.5h0m0 1h0m0.5-21.5h0m0 7h0m0 9h0m0 2h0m0 4.5h0m0.5-23h0m0 1h0m0 4h0m0 10.5h0m0 2.5h0m0 0.5h0m0 1.5h0m0 0.5h0m0.5-22h0m0 1.5h0m0 3.5h0m0 5h0m0 2h0m0 6h0m0 1h0m0 0.5h0m0 0.5h0m0 0.5h0m0 1h0m0 0.5h0m0 1h0m0 0.5h0m0.5-17.5h0m0 4.5h0m0 6.5h0m0 0.5h0m0 1h0m0 0.5h0m0 0.5h0m0 0.5h0m0 0.5h0m0.5-22.5h0m0 16.5h0m0 2h0m0 2.5h0m0 0.5h0m0 0.5h0m0 1.5h0m0 1h0m0.5-7.5h0m0 0.5h0m0 0.5h0m0 1.5h0m0.5-3h0m0 1.5h0m0 0.5h0m0 3.5h0m0 0.5h0m0.5-19.5h0m0 7.5h0m0 5.5h0m0 2.5h0m0 0.5h0m0 1.5h0m0 1h0m0.5-9.5h0m0 3h0m0 1.5h0m0 2.5h0m0 3h0m0.5-9.5h0m0 3.5h0m0 5h0m0 0.5h0m0.5-22.5h0m0 11h0m0 2.5h0m0 2.5h0m0 1h0m0 1h0m0 1h0m0 1.5h0m0.5-23.5h0m0 16.5h0m0 1h0m0 1h0m0 0.5h0m0 0.5h0m0 4h0m0.5-19h0m0 14h0m0 2h0m0 0.5h0m0.5-10h0m0 5.5h0m0 0.5h0m0 0.5h0m0 0.5h0m0 4h0m0 3h0m0.5-8h0m0 2h0m0 0.5h0m0 1h0m0 0.5h0m0 0.5h0m0.5-5.5h0m0 3.5h0m0 1h0m0 0.5h0m0.5-12.5h0m0 7h0m0 2h0m0 0.5h0m0 3h0m0 1h0m0.5-22h0m0 14.5h0m0 1h0m0 1.5h0m0 0.5h0m0 1h0m0 1h0m0 0.5h0m0.5-6.5h0m0 5.5h0m0 0.5h0m0 0.5h0m0 0.5h0m0 0.5h0m0 0.5h0m0.5-8h0m0 1h0m0 2h0m0 0.5h0m0 1.5h0m0 1.5h0m0 0.5h0m0 0.5h0m0 0.5h0m0 0.5h0m0.5-19h0m0 9h0m0 1.5h0m0 2.5h0m0 0.5h0m0.5-9.5h0m0 1h0m0 6h0m0 1h0m0 2h0m0 0.5h0m0 0.5h0m0.5-17.5h0m0 2.5h0m0 3.5h0m0 0.5h0m0 7h0m0 1h0m0 2h0m0 0.5h0m0 0.5h0m0 1.5h0m0.5-16h0m0 11.5h0m0 1.5h0m0 1h0m0 1h0m0 1h0m0 1.5h0m0.5-11h0m0 5.5h0m0 0.5h0m0 1h0m0 0.5h0m0 1.5h0m0 1h0m0.5-24h0m0 16.5h0m0 1h0m0 1h0m0 1h0m0 3h0m0 1.5h0m0 1h0m0.5-23.5h0m0 5.5h0m0 1.5h0m0 0.5h0m0 3h0m0 0.5h0m0 6h0m0 0.5h0m0 0.5h0m0 1h0m0 1.5h0m0 1.5h0m0.5-17.5h0m0 3.5h0m0 9h0m0 1h0m0 0.5h0m0 5.5h0m0.5-26h0m0 3h0m0 4.5h0m0 10.5h0m0 1h0m0 1h0m0 0.5h0m0 0.5h0m0 0.5h0m0 1h0m0 0.5h0m0 1h0m0 1h0m0.5-23.5h0m0 3h0m0 3.5h0m0 5h0m0 2h0m0 3h0m0 2h0m0 0.5h0m0 0.5h0m0 1.5h0m0 1.5h0m0 0.5h0m0.5-8h0m0 5h0m0 1h0m0 2.5h0m0.5-25h0m0 17h0m0 1h0m0 0.5h0m0 1.5h0m0 0.5h0m0 1h0m0 1h0m0 0.5h0m0.5-24h0m0 15h0m0 4h0m0 3.5h0m0 0.5h0m0 1h0m0 0.5h0m0 1h0m0.5-15.5h0m0 9h0m0 1.5h0m0 0.5h0m0.5-5h0m0 3h0m0 1.5h0m0 0.5h0m0 1h0m0 0.5h0m0 0.5h0m0 1h0m0 0.5h0m0.5-22h0m0 5.5h0m0 6h0m0 4h0m0 1.5h0m0 0.5h0m0 1h0m0 0.5h0m0 2.5h0m0.5-12h0m0 4h0m0 2h0m0 0.5h0m0 0.5h0m0 0.5h0m0 0.5h0m0 2.5h0m0 1h0m0.5-6h0m0 0.5h0m0 1.5h0m0 0.5h0m0 1.5h0m0 1.5h0m0 0.5h0m0 1h0m0.5-23h0m0 2h0m0 12.5h0m0 1.5h0m0 0.5h0m0 0.5h0m0 0.5h0m0 0.5h0m0 1.5h0m0 1.5h0m0 0.5h0m0.5-4h0m0 0.5h0m0 0.5h0m0 1h0m0 2.5h0m0.5-21.5h0m0 3.5h0m0 12h0m0 1.5h0m0 0.5h0m0 1.5h0m0 1h0m0 1.5h0m0 1h0m0.5-23h0m0 2h0m0 3.5h0m0 9h0m0 2h0m0 2h0m0 3h0m0 1h0m0.5-6.5h0m0 0.5h0m0 0.5h0m0 1.5h0m0 2h0m0 1h0m0.5-19.5h0m0 11.5h0m0 4h0m0 1h0m0 1h0m0 0.5h0m0 0.5h0m0 0.5h0m0.5-13.5h0m0 1.5h0m0 5h0m0 3h0m0 0.5h0m0 1h0m0 0.5h0m0 2.5h0m0.5-9.5h0m0 1.5h0m0 2h0m0 1.5h0m0 0.5h0m0 1h0m0 0.5h0m0 1h0m0 0.5h0m0.5-17h0m0 3.5h0m0 1.5h0m0 2.5h0m0 1.5h0m0 2h0m0 1h0m0 1.5h0m0 1.5h0m0.5-10h0m0 9.5h0m0 1h0m0 2.5h0m0.5-21h0m0 13.5h0m0 3.5h0m0 1.5h0m0 2h0m0.5-24h0m0 15h0m0 1h0m0 0.5h0m0 0.5h0m0 1h0m0 3h0m0 1h0m0 1.5h0m0.5-16.5h0m0 9.5h0m0 2.5h0m0 1h0m0 0.5h0m0 1.5h0m0.5-23.5h0m0 2h0m0 0.5h0m0 1h0m0 14h0m0 7h0m0 2h0m0.5-11.5h0m0 3.5h0m0 1h0m0 0.5h0m0 1h0m0 1.5h0m0.5-23h0m0 10.5h0m0 9.5h0m0 0.5h0m0 1h0m0 3h0m0.5-20.5h0m0 9h0m0 3.5h0m0 0.5h0m0 0.5h0m0 1h0m0 2h0m0 2.5h0m0.5-12h0m0 6.5h0m0 2h0m0 0.5h0m0 1h0m0 0.5h0m0.5-4.5h0m0 1h0m0 2h0m0 3h0m0 0.5h0m0.5-10h0m0 3h0m0 1.5h0m0 2h0m0 0.5h0m0 2h0m0 1h0m0 0.5h0m0 1h0m0.5-10.5h0m0 0.5h0m0 4h0m0 0.5h0m0 0.5h0m0 1.5h0m0 0.5h0m0.5-21h0m0 4.5h0m0 12h0m0 0.5h0m0 0.5h0m0 1h0m0 2h0m0 1h0m0 1.5h0m0 1h0m0.5-9.5h0m0 2h0m0 1h0m0 1h0m0 1.5h0m0 1.5h0m0.5-5h0m0 1.5h0m0 2h0m0 0.5h0m0 0.5h0m0 1h0m0.5-6h0m0 0.5h0m0 2.5h0m0 0.5h0m0 0.5h0m0 0.5h0m0 0.5h0m0.5-13.5h0m0 7h0m0 0.5h0m0 0.5h0m0 0.5h0m0 2h0m0 2.5h0m0 0.5h0m0 1.5h0m0 1h0m0.5-5.5h0m0 1h0m0 3h0m0.5-3h0m0 3h0m0.5-21h0m0 13h0m0 4h0m0 0.5h0m0 3h0m0 1.5h0m0.5-20.5h0m0 14h0m0 1.5h0m0.5-12h0m0 3h0m0 7.5h0m0 0.5h0m0 1h0m0 0.5h0m0 1.5h0m0 1.5h0m0 0.5h0m0.5-13.5h0m0 6h0m0 0.5h0m0 2.5h0m0 2.5h0m0.5-14.5h0m0 9.5h0m0 0.5h0m0 1h0m0 3h0m0 1.5h0m0.5-10.5h0m0 4h0m0 1h0m0 1.5h0m0.5-7h0m0 1h0m0 4.5h0m0 1h0m0 2.5h0m0.5-18.5h0m0 9.5h0m0 1h0m0 4.5h0m0 1h0m0 4h0m0.5-21h0m0 15h0m0 1h0m0 2.5h0m0 2h0m0 0.5h0m0 0.5h0m0.5-11.5h0m0 4.5h0m0 0.5h0m0 3h0m0.5-14h0m0 6.5h0m0 2h0m0 2h0m0 2h0m0 2.5h0m0 0.5h0m0.5-19h0m0 1h0m0 6h0m0 6h0m0 0.5h0m0 2h0m0 1h0m0 1h0m0.5-4.5h0m0 0.5h0m0 0.5h0m0 5.5h0m0.5-4h0m0 2h0m0 1h0m0 1h0m0.5-6.5h0m0 4h0m0 1.5h0m0.5-8.5h0m0 3h0m0 2.5h0m0 0.5h0m0 1h0m0 4.5h0m0.5-21.5h0m0 13.5h0m0 0.5h0m0 0.5h0m0 0.5h0m0 1h0m0 0.5h0m0 2h0m0.5-19.5h0m0 13.5h0m0 1.5h0m0 2h0m0 2h0m0.5-7.5h0m0 4h0m0 0.5h0m0 1.5h0m0 0.5h0m0 1h0m0.5-14h0m0 5h0m0 4h0m0 0.5h0m0 2h0m0 2.5h0m0.5-6.5h0m0 3h0m0 0.5h0m0 4h0m0.5-18.5h0m0 15h0m0 1h0m0 1h0m0 0.5h0m0 1.5h0m0.5-13h0m0 4h0m0 1.5h0m0 1h0m0 1.5h0m0 1h0m0 2.5h0m0.5-12.5h0m0 0.5h0m0 6h0m0 1h0m0 2.5h0m0 0.5h0m0 1.5h0m0.5-9h0m0 1.5h0m0 0.5h0m0 5h0m0 1h0m0 4h0m0.5-15h0m0 6h0m0 0.5h0m0 2h0m0 0.5h0m0 3.5h0m0.5-18h0m0 7.5h0m0 3h0m0 2.5h0m0 0.5h0m0 3.5h0m0 1h0m0.5-4h0m0 0.5h0m0 1h0m0 0.5h0m0.5-16.5h0m0 11.5h0m0 0.5h0m0 0.5h0m0 1.5h0m0 0.5h0m0 3.5h0m0.5-18h0m0 9.5h0m0 0.5h0m0 1.5h0m0 4.5h0m0 0.5h0m0 0.5h0m0.5-5h0m0.5-11h0m0 11h0m0 0.5h0m0 0.5h0m0 1h0m0 2.5h0m0.5-5.5h0m0 2.5h0m0.5-1.5h0m0 0.5h0m0 4h0m0 0.5h0m0.5-9h0m0 6h0m0 1h0m0 1h0m0.5-15h0m0 10.5h0m0 3h0m0 0.5h0m0 2.5h0m0.5-5.5h0m0 1h0m0 0.5h0m0 0.5h0m0.5-13h0m0 8h0m0 2h0m0 0.5h0m0 0.5h0m0 1.5h0m0 1.5h0m0.5-4h0m0 0.5h0m0 0.5h0m0 0.5h0m0 0.5h0m0 0.5h0m0 0.5h0m0 0.5h0m0.5-6h0m0 2h0m0 1.5h0m0 2h0m0.5-6.5h0m0 0.5h0m0 0.5h0m0.5-2.5h0m0 5h0m0 1.5h0m0 1.5h0m0 0.5h0m0.5-12.5h0m0 4.5h0m0 2.5h0m0 1.5h0m0 2.5h0m0 0.5h0m0 1h0m0.5-9h0m0 2h0m0 0.5h0m0 3.5h0m0 3.5h0m0.5-14h0m0 6h0m0 1h0m0 0.5h0m0.5-1.5h0m0 2h0m0 0.5h0m0 3h0m0.5-4.5h0m0 0.5h0m0 0.5h0m0 0.5h0m0 0.5h0m0.5-4.5h0m0 3h0m0 0.5h0m0 1h0m0 1.5h0m0 0.5h0m0 1h0m0.5-6h0m0 5h0m0.5-8h0m0 1.5h0m0 2h0m0 2h0m0.5-2h0m0 1.5h0m0 1h0m0.5-3.5h0m0 0.5h0m0 1.5h0m0 1h0m0.5-8.5h0m0 6.5h0m0 0.5h0m0 0.5h0m0 1.5h0m0 0.5h0m1-10h0m0 3.5h0m0 1h0m0 1.5h0m0 0.5h0m0 5h0m0.5-5h0m0 0.5h0m0.5-6h0m0 2h0m0 0.5h0m0 3.5h0m0 3.5h0m0.5-9.5h0m0 2h0m0 1.5h0m0 1h0m0 1h0m0 0.5h0m0 0.5h0m0 0.5h0m0 2.5h0" stroke="#bcbcbc" stroke-width="1.4" stroke-linecap="square" fill="none"/>
<line x1="421.5" y1="366" x2="421.5" y2="433" stroke="#4a6fae" stroke-width="1" stroke-dasharray="1 1"/>
<path d="M421.5 373h0m0 2h0m0 3h0m0 3.5h0m0 0.5h0m0 0.5h0m0 1h0m0 4.5h0m0 1.5h0m0 2.5h0m0 1h0m0 3h0m0 0.5h0m0 0.5h0m0 1.5h0m0 0.5h0m0 4.5h0m0 0.5h0m0 4h0m0 0.5h0m0 2h0m0 5.5h0m0 4h0m0.5-51h0m0 3h0m0 0.5h0m0 0.5h0m0 1h0m0 1.5h0m0 0.5h0m0 0.5h0m0 0.5h0m0 0.5h0m0 2.5h0m0 0.5h0m0 0.5h0m0 0.5h0m0 1h0m0 0.5h0m0 0.5h0m0 1.5h0m0 0.5h0m0 1h0m0 0.5h0m0 1h0m0 1h0m0 0.5h0m0 1h0m0 0.5h0m0 0.5h0m0 1.5h0m0 0.5h0m0 0.5h0m0 1h0m0 1h0m0 0.5h0m0 1.5h0m0 1h0m0 0.5h0m0 2.5h0m0 0.5h0m0 0.5h0m0 0.5h0m0 0.5h0m0 1h0m0 0.5h0m0 1.5h0m0 1h0m0 1.5h0m0 1h0m0 0.5h0m0 2h0m0 1.5h0m0 0.5h0m0 0.5h0m0 1.5h0m0 1h0m0.5-45.5h0m0 1.5h0m0 2h0m0 1h0m0 2.5h0m0 0.5h0m0 0.5h0m0 0.5h0m0 1.5h0m0 0.5h0m0 1.5h0m0 1h0m0 0.5h0m0 0.5h0m0 0.5h0m0 0.5h0m0 0.5h0m0 1h0m0 0.5h0m0 1h0m0 0.5h0m0 1h0m0 0.5h0m0 1h0m0 0.5h0m0 0.5h0m0 1h0m0 1.5h0m0 1.5h0m0 1h0m0 0.5h0m0 0.5h0m0 0.5h0m0 0.5h0m0 2.5h0m0 1h0m0 0.5h0m0 0.5h0m0 0.5h0m0 0.5h0m0 0.5h0m0 5.5h0m0 1h0m0 1h0m0 0.5h0m0 1h0m0.5-43.5h0m0 1h0m0 1.5h0m0 0.5h0m0 0.5h0m0 0.5h0m0 0.5h0m0 1.5h0m0 1h0m0 1.5h0m0 0.5h0m0 2h0m0 0.5h0m0 0.5h0m0 1.5h0m0 0.5h0m0 0.5h0m0 1h0m0 1.5h0m0 0.5h0m0 1h0m0 0.5h0m0 0.5h0m0 1h0m0 0.5h0m0 1.5h0m0 0.5h0m0 0.5h0m0 1.5h0m0 0.5h0m0 1.5h0m0 0.5h0m0 1.5h0m0 1.5h0m0 0.5h0m0 1h0m0 0.5h0m0 0.5h0m0 0.5h0m0 0.5h0m0 0.5h0m0 0.5h0m0 1h0m0 1h0m0 2h0m0 1.5h0m0 3.5h0m0.5-47h0m0 4.5h0m0 1.5h0m0 0.5h0m0 1h0m0 0.5h0m0 1h0m0 1h0m0 2h0m0 1h0m0 1.5h0m0 1h0m0 0.5h0m0 1h0m0 0.5h0m0 0.5h0m0 0.5h0m0 1h0m0 0.5h0m0 2h0m0 1.5h0m0 0.5h0m0 0.5h0m0 1h0m0 0.5h0m0 0.5h0m0 1h0m0 0.5h0m0 0.5h0m0 1h0m0 1.5h0m0 0.5h0m0 1h0m0 2h0m0 1.5h0m0 2.5h0m0 0.5h0m0 0.5h0m0 0.5h0m0 0.5h0m0 0.5h0m0 1h0m0 0.5h0m0.5-40h0m0 3.5h0m0 1.5h0m0 1h0m0 1.5h0m0 2h0m0 0.5h0m0 0.5h0m0 0.5h0m0 0.5h0m0 2h0m0 0.5h0m0 0.5h0m0 1h0m0 0.5h0m0 0.5h0m0 1h0m0 1h0m0 1h0m0 1h0m0 1h0m0 1h0m0 0.5h0m0 1h0m0 0.5h0m0 1h0m0 0.5h0m0 3h0m0 1.5h0m0 1h0m0 0.5h0m0 1.5h0m0 3.5h0m0.5-41.5h0m0 9.5h0m0 1h0m0 1h0m0 0.5h0m0 0.5h0m0 0.5h0m0 0.5h0m0 1.5h0m0 1h0m0 0.5h0m0 0.5h0m0 1h0m0 0.5h0m0 3h0m0 1h0m0 1.5h0m0 0.5h0m0 0.5h0m0 0.5h0m0 1h0m0 2h0m0 0.5h0m0 0.5h0m0 0.5h0m0 1h0m0 0.5h0m0 0.5h0m0 1.5h0m0 0.5h0m0 0.5h0m0 1h0m0 0.5h0m0 0.5h0m0 0.5h0m0 1.5h0m0.5-28h0m0 1h0m0 1h0m0 0.5h0m0 0.5h0m0 0.5h0m0 0.5h0m0 1h0m0 0.5h0m0 0.5h0m0 0.5h0m0 0.5h0m0 0.5h0m0 1h0m0 1h0m0 0.5h0m0 0.5h0m0 0.5h0m0 0.5h0m0 0.5h0m0 0.5h0m0 0.5h0m0 1h0m0 0.5h0m0 0.5h0m0 0.5h0m0 0.5h0m0 0.5h0m0 0.5h0m0 1.5h0m0 2.5h0m0 2.5h0m0 0.5h0m0 0.5h0m0 1.5h0m0.5-24.5h0m0 0.5h0m0 0.5h0m0 0.5h0m0 1h0m0 0.5h0m0 1h0m0 0.5h0m0 2h0m0 1h0m0 1h0m0 0.5h0m0 0.5h0m0 0.5h0m0 1h0m0 0.5h0m0 1.5h0m0 0.5h0m0 1h0m0 0.5h0m0 0.5h0m0 0.5h0m0 0.5h0m0 0.5h0m0 0.5h0m0 0.5h0m0 0.5h0m0 0.5h0m0 1h0m0 0.5h0m0 0.5h0m0.5-30h0m0 8.5h0m0 0.5h0m0 0.5h0m0 0.5h0m0 1.5h0m0 1h0m0 1h0m0 0.5h0m0 0.5h0m0 0.5h0m0 0.5h0m0 0.5h0m0 0.5h0m0 0.5h0m0 0.5h0m0 0.5h0m0 0.5h0m0 1h0m0 1h0m0 1h0m0 0.5h0m0 1h0m0 1h0m0 1.5h0m0 0.5h0m0 1h0m0 0.5h0m0 1h0m0 1h0m0.5-20.5h0m0 0.5h0m0 0.5h0m0 1h0m0 1h0m0 0.5h0m0 0.5h0m0 0.5h0m0 0.5h0m0 2.5h0m0 0.5h0m0 1h0m0 0.5h0m0 0.5h0m0 0.5h0m0 1h0m0 0.5h0m0 0.5h0m0 1h0m0 0.5h0m0 1.5h0m0 0.5h0m0 0.5h0m0 0.5h0m0 1h0m0 2h0m0.5-18.5h0m0 1h0m0 2h0m0 0.5h0m0 0.5h0m0 0.5h0m0 0.5h0m0 1h0m0 1h0m0 0.5h0m0 1.5h0m0 1h0m0 0.5h0m0 0.5h0m0 0.5h0m0 1h0m0 1h0m0 1h0m0 0.5h0m0.5-15h0m0 1.5h0m0 0.5h0m0 1.5h0m0 0.5h0m0 0.5h0m0 1.5h0m0 0.5h0m0 1h0m0 0.5h0m0 2h0m0 0.5h0m0 0.5h0m0 0.5h0m0 2.5h0m0 1h0m0.5-15.5h0m0 1.5h0m0 0.5h0m0 1.5h0m0 1h0m0 0.5h0m0 1.5h0m0 0.5h0m0 1h0m0 2h0m0 0.5h0m0 0.5h0m0 0.5h0m0 1h0m0.5-11.5h0m0 0.5h0m0 0.5h0m0 0.5h0m0 0.5h0m0 1.5h0m0 0.5h0m0 0.5h0m0 0.5h0m0 1.5h0m0 0.5h0m0 0.5h0m0 2.5h0m0.5-16h0m0 6.5h0m0 0.5h0m0 1.5h0m0 0.5h0m0 1.5h0m0 0.5h0m0 0.5h0m0 0.5h0m0 1.5h0m0 0.5h0m0 0.5h0m0 1h0m0.5-14h0m0 4.5h0m0 0.5h0m0 0.5h0m0 1h0m0 0.5h0m0 0.5h0m0 0.5h0m0 1h0m0 0.5h0m0 0.5h0m0 0.5h0m0 3h0m0.5-9h0m0 2.5h0m0 2h0m0 0.5h0m0 1h0m0 1h0m0.5-5h0m0 1h0m0 0.5h0m0 0.5h0m0 0.5h0m0 1h0m0 0.5h0m0 0.5h0m0.5-4.5h0m0 0.5h0m0 1.5h0m0 0.5h0m0 0.5h0m0 0.5h0m0 1h0m0.5-4.5h0m0 0.5h0m0.5 2h0m0.5-8h0m0 1.5h0m1-4h0m1 6h0" stroke="#0d0d0d" stroke-width="1.4" stroke-linecap="square" fill="none"/>
<line x1="420" y1="400.5" x2="500" y2="400.5" stroke="#5db55a" stroke-width="1" stroke-dasharray="1 1"/>
<text x="483.40000000000003" y="409.0" font-size="9.1" fill="#4fa54b" text-anchor="start" font-weight="normal" stroke="#4fa54b" stroke-width="0.12" textLength="15.0" lengthAdjust="spacingAndGlyphs">330</text>
<text x="423.59999999999997" y="431.7" font-size="8.6" fill="#46709f" text-anchor="start" font-weight="normal" stroke="#46709f" stroke-width="0.12">1.23</text>
<text x="504.8" y="431.7" font-size="9.0" fill="#2b2b2b" text-anchor="end" font-weight="normal" stroke="#2b2b2b" stroke-width="0.12">n = 35&#8201;600</text>
<line x1="420.5" y1="352.4" x2="420.5" y2="434.2" stroke="#1a1a1a" stroke-width="1"/>
<line x1="419.8" y1="433.5" x2="508.365" y2="433.5" stroke="#1a1a1a" stroke-width="1"/>
<line x1="416.7" y1="433.5" x2="420.3" y2="433.5" stroke="#1a1a1a" stroke-width="1.15"/>
<line x1="416.7" y1="425.5" x2="420.3" y2="425.5" stroke="#1a1a1a" stroke-width="1.15"/>
<line x1="416.7" y1="417.5" x2="420.3" y2="417.5" stroke="#1a1a1a" stroke-width="1.15"/>
<line x1="416.7" y1="410.5" x2="420.3" y2="410.5" stroke="#1a1a1a" stroke-width="1.15"/>
<line x1="416.7" y1="402.5" x2="420.3" y2="402.5" stroke="#1a1a1a" stroke-width="1.15"/>
<line x1="416.7" y1="394.5" x2="420.3" y2="394.5" stroke="#1a1a1a" stroke-width="1.15"/>
<line x1="416.7" y1="386.5" x2="420.3" y2="386.5" stroke="#1a1a1a" stroke-width="1.15"/>
<line x1="416.7" y1="378.5" x2="420.3" y2="378.5" stroke="#1a1a1a" stroke-width="1.15"/>
<line x1="416.7" y1="370.5" x2="420.3" y2="370.5" stroke="#1a1a1a" stroke-width="1.15"/>
<line x1="416.7" y1="362.5" x2="420.3" y2="362.5" stroke="#1a1a1a" stroke-width="1.15"/>
<line x1="416.7" y1="355.5" x2="420.3" y2="355.5" stroke="#1a1a1a" stroke-width="1.15"/>
<line x1="420.5" y1="433.7" x2="420.5" y2="436.7" stroke="#1a1a1a" stroke-width="1"/>
<line x1="423.72" y1="433.7" x2="423.72" y2="435.3" stroke="#1a1a1a" stroke-width="0.8"/>
<line x1="427.14" y1="433.7" x2="427.14" y2="435.3" stroke="#1a1a1a" stroke-width="0.8"/>
<line x1="430.56" y1="433.7" x2="430.56" y2="435.3" stroke="#1a1a1a" stroke-width="0.8"/>
<line x1="433.98" y1="433.7" x2="433.98" y2="435.3" stroke="#1a1a1a" stroke-width="0.8"/>
<line x1="437.5" y1="433.7" x2="437.5" y2="436.7" stroke="#1a1a1a" stroke-width="1"/>
<line x1="440.82" y1="433.7" x2="440.82" y2="435.3" stroke="#1a1a1a" stroke-width="0.8"/>
<line x1="444.24" y1="433.7" x2="444.24" y2="435.3" stroke="#1a1a1a" stroke-width="0.8"/>
<line x1="447.66" y1="433.7" x2="447.66" y2="435.3" stroke="#1a1a1a" stroke-width="0.8"/>
<line x1="451.08000000000004" y1="433.7" x2="451.08000000000004" y2="435.3" stroke="#1a1a1a" stroke-width="0.8"/>
<line x1="454.5" y1="433.7" x2="454.5" y2="436.7" stroke="#1a1a1a" stroke-width="1"/>
<line x1="457.92" y1="433.7" x2="457.92" y2="435.3" stroke="#1a1a1a" stroke-width="0.8"/>
<line x1="461.34000000000003" y1="433.7" x2="461.34000000000003" y2="435.3" stroke="#1a1a1a" stroke-width="0.8"/>
<line x1="464.76" y1="433.7" x2="464.76" y2="435.3" stroke="#1a1a1a" stroke-width="0.8"/>
<line x1="468.18" y1="433.7" x2="468.18" y2="435.3" stroke="#1a1a1a" stroke-width="0.8"/>
<line x1="471.5" y1="433.7" x2="471.5" y2="436.7" stroke="#1a1a1a" stroke-width="1"/>
<line x1="475.02" y1="433.7" x2="475.02" y2="435.3" stroke="#1a1a1a" stroke-width="0.8"/>
<line x1="478.44" y1="433.7" x2="478.44" y2="435.3" stroke="#1a1a1a" stroke-width="0.8"/>
<line x1="481.86" y1="433.7" x2="481.86" y2="435.3" stroke="#1a1a1a" stroke-width="0.8"/>
<line x1="485.28000000000003" y1="433.7" x2="485.28000000000003" y2="435.3" stroke="#1a1a1a" stroke-width="0.8"/>
<line x1="488.5" y1="433.7" x2="488.5" y2="436.7" stroke="#1a1a1a" stroke-width="1"/>
<line x1="492.12" y1="433.7" x2="492.12" y2="435.3" stroke="#1a1a1a" stroke-width="0.8"/>
<line x1="495.54" y1="433.7" x2="495.54" y2="435.3" stroke="#1a1a1a" stroke-width="0.8"/>
<line x1="498.96000000000004" y1="433.7" x2="498.96000000000004" y2="435.3" stroke="#1a1a1a" stroke-width="0.8"/>
<line x1="502.38" y1="433.7" x2="502.38" y2="435.3" stroke="#1a1a1a" stroke-width="0.8"/>
<line x1="505.5" y1="433.7" x2="505.5" y2="436.7" stroke="#1a1a1a" stroke-width="1"/>
<text x="419.90000000000003" y="448.3" font-size="9.8" fill="#46709f" text-anchor="middle" font-weight="normal" stroke="#46709f" stroke-width="0.12" textLength="4.8" lengthAdjust="spacingAndGlyphs">0</text>
<text x="437.00000000000006" y="448.3" font-size="9.8" fill="#46709f" text-anchor="middle" font-weight="normal" stroke="#46709f" stroke-width="0.12" textLength="9.6" lengthAdjust="spacingAndGlyphs">20</text>
<text x="454.1" y="448.3" font-size="9.8" fill="#46709f" text-anchor="middle" font-weight="normal" stroke="#46709f" stroke-width="0.12" textLength="9.6" lengthAdjust="spacingAndGlyphs">40</text>
<text x="471.20000000000005" y="448.3" font-size="9.8" fill="#46709f" text-anchor="middle" font-weight="normal" stroke="#46709f" stroke-width="0.12" textLength="9.6" lengthAdjust="spacingAndGlyphs">60</text>
<text x="488.30000000000007" y="448.3" font-size="9.8" fill="#46709f" text-anchor="middle" font-weight="normal" stroke="#46709f" stroke-width="0.12" textLength="9.6" lengthAdjust="spacingAndGlyphs">80</text>
<text x="505.40000000000003" y="448.3" font-size="9.8" fill="#46709f" text-anchor="middle" font-weight="normal" stroke="#46709f" stroke-width="0.12" textLength="14.399999999999999" lengthAdjust="spacingAndGlyphs">100</text>
<text x="405.3" y="436.09999999999997" font-size="9" fill="#48a845" stroke="#48a845" stroke-width="0.2" textLength="3.6" lengthAdjust="spacingAndGlyphs">2</text>
<text x="410.1" y="432.5" font-size="5.8" fill="#6f976f" textLength="2.4" lengthAdjust="spacingAndGlyphs">0</text>
<text x="405.3" y="428.22999999999996" font-size="9" fill="#48a845" stroke="#48a845" stroke-width="0.2" textLength="3.6" lengthAdjust="spacingAndGlyphs">2</text>
<text x="410.1" y="424.63" font-size="5.8" fill="#6f976f" textLength="2.4" lengthAdjust="spacingAndGlyphs">2</text>
<text x="405.3" y="420.35999999999996" font-size="9" fill="#48a845" stroke="#48a845" stroke-width="0.2" textLength="3.6" lengthAdjust="spacingAndGlyphs">2</text>
<text x="410.1" y="416.76" font-size="5.8" fill="#6f976f" textLength="2.4" lengthAdjust="spacingAndGlyphs">4</text>
<text x="405.3" y="412.48999999999995" font-size="9" fill="#48a845" stroke="#48a845" stroke-width="0.2" textLength="3.6" lengthAdjust="spacingAndGlyphs">2</text>
<text x="410.1" y="408.89" font-size="5.8" fill="#6f976f" textLength="2.4" lengthAdjust="spacingAndGlyphs">6</text>
<text x="405.3" y="404.61999999999995" font-size="9" fill="#48a845" stroke="#48a845" stroke-width="0.2" textLength="3.6" lengthAdjust="spacingAndGlyphs">2</text>
<text x="410.1" y="401.02" font-size="5.8" fill="#6f976f" textLength="2.4" lengthAdjust="spacingAndGlyphs">8</text>
<text x="401.3" y="396.85" font-size="9" fill="#48a845" stroke="#48a845" stroke-width="0.2">2</text>
<text x="406.7" y="393.45000000000005" font-size="6.3" fill="#6f976f" textLength="6.4" lengthAdjust="spacingAndGlyphs">10</text>
<text x="401.3" y="388.98" font-size="9" fill="#48a845" stroke="#48a845" stroke-width="0.2">2</text>
<text x="406.7" y="385.58000000000004" font-size="6.3" fill="#6f976f" textLength="6.4" lengthAdjust="spacingAndGlyphs">12</text>
<text x="401.3" y="381.11" font-size="9" fill="#48a845" stroke="#48a845" stroke-width="0.2">2</text>
<text x="406.7" y="377.71000000000004" font-size="6.3" fill="#6f976f" textLength="6.4" lengthAdjust="spacingAndGlyphs">14</text>
<text x="401.3" y="373.24" font-size="9" fill="#48a845" stroke="#48a845" stroke-width="0.2">2</text>
<text x="406.7" y="369.84000000000003" font-size="6.3" fill="#6f976f" textLength="6.4" lengthAdjust="spacingAndGlyphs">16</text>
<text x="401.3" y="365.37" font-size="9" fill="#48a845" stroke="#48a845" stroke-width="0.2">2</text>
<text x="406.7" y="361.97" font-size="6.3" fill="#6f976f" textLength="6.4" lengthAdjust="spacingAndGlyphs">18</text>
<text x="401.3" y="357.5" font-size="9" fill="#48a845" stroke="#48a845" stroke-width="0.2">2</text>
<text x="406.7" y="354.1" font-size="6.3" fill="#6f976f" textLength="6.4" lengthAdjust="spacingAndGlyphs">20</text>
<rect x="0.5" y="0.5" width="519" height="472" fill="none" stroke="#4a4a4a" stroke-width="1"/>
</svg>
</body></html>
